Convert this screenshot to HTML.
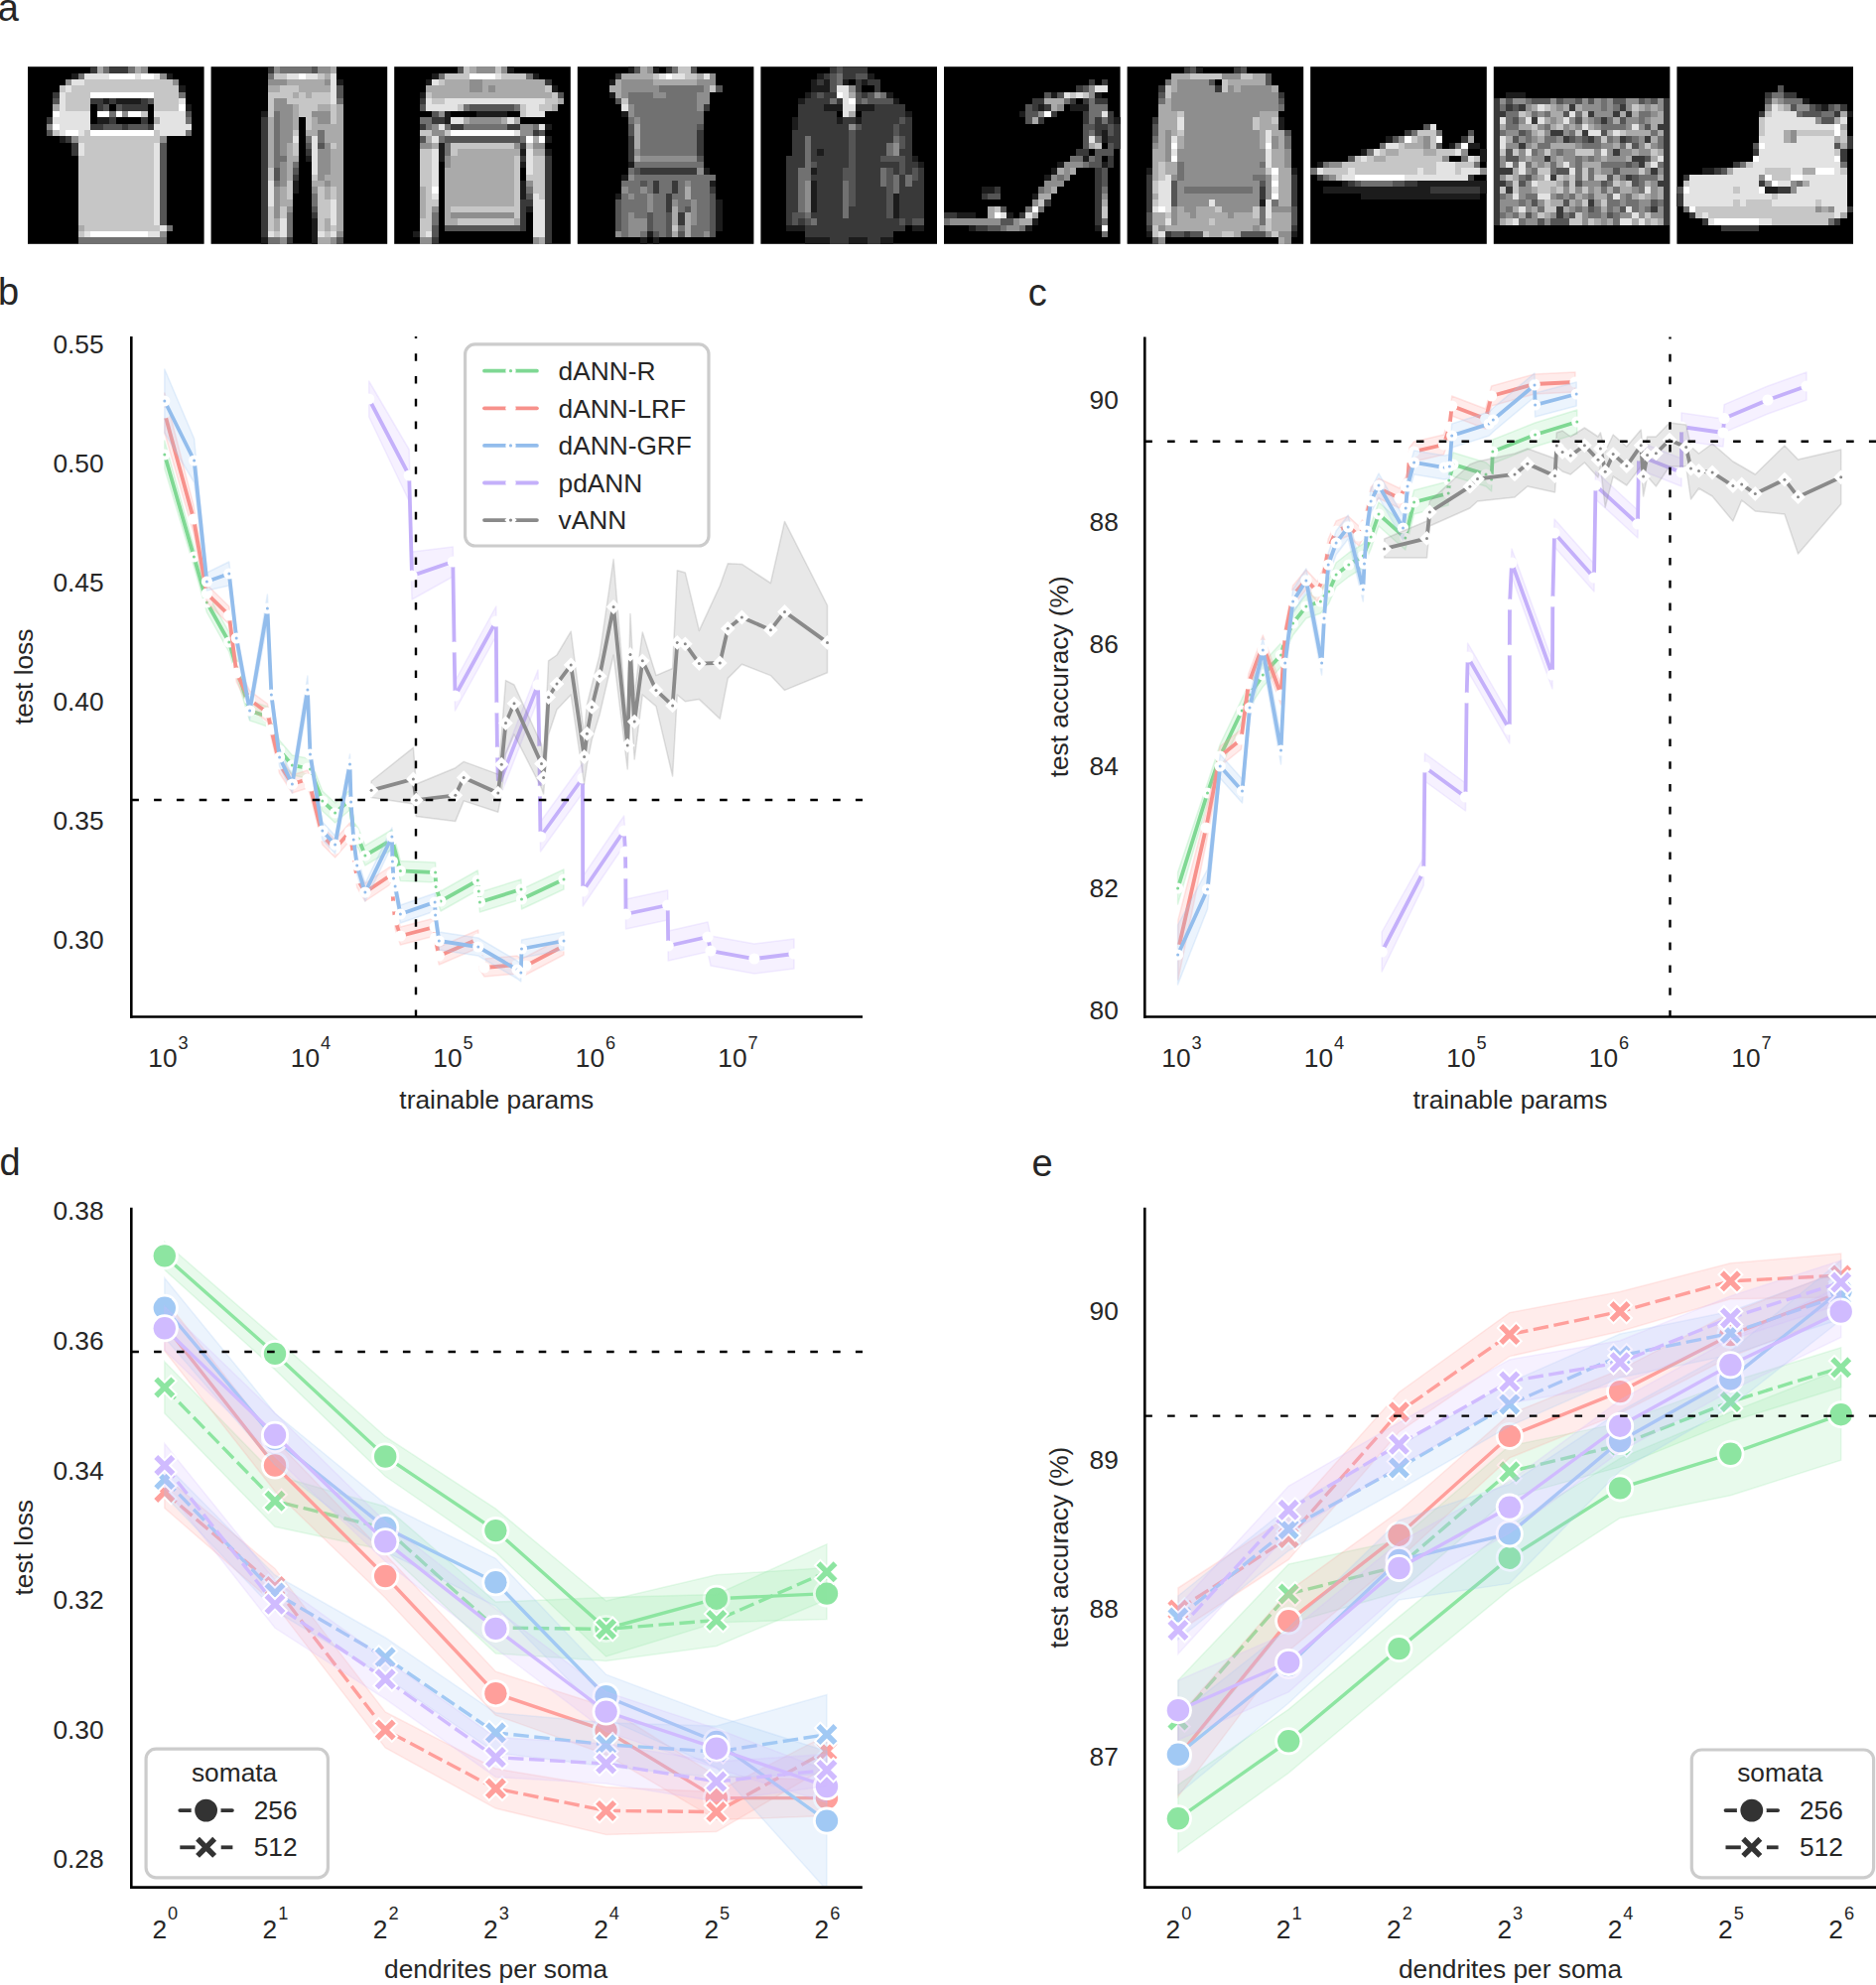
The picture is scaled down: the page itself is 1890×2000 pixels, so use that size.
<!DOCTYPE html>
<html><head><meta charset="utf-8"><style>
html,body{margin:0;padding:0;background:#fff;}
svg{display:block;font-family:"Liberation Sans", sans-serif;}
</style></head><body>
<svg width="1890" height="2000" viewBox="0 0 1890 2000">
<rect width="1890" height="2000" fill="#fff"/>
<text x="-2.3" y="20.6" font-size="38" text-anchor="start" fill="#262626" >a</text>
<text x="-2.1" y="307.2" font-size="38" text-anchor="start" fill="#262626" >b</text>
<text x="1035.8" y="307.5" font-size="38" text-anchor="start" fill="#262626" >c</text>
<text x="-0.6" y="1184.3" font-size="38" text-anchor="start" fill="#262626" >d</text>
<text x="1039.4" y="1184.6" font-size="38" text-anchor="start" fill="#262626" >e</text>
<rect x="28.00" y="67.2" width="177.6" height="178.6" fill="#000"/>
<g transform="translate(28.00,67.2) scale(6.3429,6.3786)" shape-rendering="crispEdges">
<path fill="rgb(28,28,28)" d="M7 1h1v1h-1zM22 1h1v1h-1zM24 3h1v1h-1zM12 5h1v1h-1zM14 5h4v1h-4zM25 6h1v1h-1zM11 8h2v1h-2zM5 11h1v1h-1z"/>
<path fill="rgb(57,57,57)" d="M10 0h1v1h-1zM13 0h3v1h-3zM4 4h1v1h-1zM10 5h2v1h-2zM13 5h1v1h-1zM18 5h1v1h-1zM11 6h1v1h-1zM15 6h4v1h-4zM3 8h1v1h-1zM13 8h1v1h-1zM18 8h1v1h-1zM10 9h2v1h-2zM15 9h1v1h-1zM19 9h1v1h-1zM6 11h1v1h-1zM7 12h1v1h-1zM7 13h1v1h-1z"/>
<path fill="rgb(85,85,85)" d="M4 5h1v1h-1zM19 5h1v1h-1zM12 6h1v1h-1zM14 6h1v1h-1zM25 7h1v1h-1zM12 9h3v1h-3zM16 9h3v1h-3zM3 10h1v1h-1zM21 12h1v1h-1zM21 13h1v1h-1zM21 14h1v1h-1zM21 15h1v1h-1zM21 16h1v1h-1zM21 17h1v1h-1zM21 18h1v1h-1zM21 19h1v1h-1zM21 20h1v1h-1zM21 21h1v1h-1zM21 22h1v1h-1zM21 23h1v1h-1zM21 24h1v1h-1z"/>
<path fill="rgb(113,113,113)" d="M12 0h1v1h-1zM16 0h1v1h-1zM8 1h1v1h-1zM24 4h1v1h-1zM13 7h1v1h-1zM25 8h1v1h-1zM25 10h1v1h-1zM22 25h1v1h-1zM8 27h14v1h-14z"/>
<path fill="rgb(142,142,142)" d="M18 0h1v1h-1zM21 1h1v1h-1zM6 2h1v1h-1zM23 2h1v1h-1zM15 7h1v1h-1zM3 9h1v1h-1zM7 11h1v1h-1zM21 11h1v1h-1zM21 26h1v1h-1z"/>
<path fill="rgb(170,170,170)" d="M11 0h1v1h-1zM17 0h1v1h-1zM4 6h1v1h-1zM20 8h1v1h-1zM8 25h1v1h-1z"/>
<path fill="rgb(198,198,198)" d="M9 2h14v1h-14zM5 3h1v1h-1zM7 3h17v1h-17zM6 4h4v1h-4zM20 4h4v1h-4zM6 5h4v1h-4zM20 5h4v1h-4zM6 6h4v1h-4zM20 6h4v1h-4zM18 7h1v1h-1zM4 10h1v1h-1zM9 10h1v1h-1zM20 10h1v1h-1zM8 11h13v1h-13zM9 12h11v1h-11zM9 13h11v1h-11zM8 14h12v1h-12zM8 15h12v1h-12zM8 16h12v1h-12zM8 17h12v1h-12zM8 18h12v1h-12zM8 19h12v1h-12zM8 20h12v1h-12zM8 21h12v1h-12zM8 22h12v1h-12zM8 23h12v1h-12zM8 24h12v1h-12zM9 25h12v1h-12zM8 26h1v1h-1z"/>
<path fill="rgb(227,227,227)" d="M9 1h4v1h-4zM17 1h1v1h-1zM20 1h1v1h-1zM7 2h2v1h-2zM6 3h1v1h-1zM5 4h1v1h-1zM5 5h1v1h-1zM24 5h1v1h-1zM5 6h1v1h-1zM5 7h5v1h-5zM20 7h5v1h-5zM4 8h6v1h-6zM21 8h4v1h-4zM5 9h5v1h-5zM20 9h6v1h-6zM5 10h1v1h-1zM8 10h1v1h-1zM21 10h4v1h-4zM8 12h1v1h-1zM20 12h1v1h-1zM8 13h1v1h-1zM20 13h1v1h-1zM20 14h1v1h-1zM20 15h1v1h-1zM20 16h1v1h-1zM20 17h1v1h-1zM20 18h1v1h-1zM20 19h1v1h-1zM20 20h1v1h-1zM20 21h1v1h-1zM20 22h1v1h-1zM20 23h1v1h-1zM20 24h1v1h-1zM21 25h1v1h-1zM9 26h1v1h-1zM19 26h2v1h-2z"/>
<path fill="rgb(255,255,255)" d="M13 1h4v1h-4zM18 1h2v1h-2zM10 4h10v1h-10zM24 6h1v1h-1zM4 7h1v1h-1zM11 7h2v1h-2zM14 7h1v1h-1zM16 7h2v1h-2zM4 9h1v1h-1zM6 10h2v1h-2zM10 10h10v1h-10zM10 26h9v1h-9z"/>
</g>
<rect x="212.60" y="67.2" width="177.6" height="178.6" fill="#000"/>
<g transform="translate(212.60,67.2) scale(6.3429,6.3786)" shape-rendering="crispEdges">
<path fill="rgb(28,28,28)" d="M20 2h1v1h-1zM8 7h1v1h-1zM15 14h1v1h-1zM13 18h1v1h-1zM13 19h1v1h-1zM16 24h1v1h-1zM16 25h1v1h-1zM16 26h1v1h-1zM8 27h1v1h-1zM16 27h1v1h-1z"/>
<path fill="rgb(57,57,57)" d="M9 0h1v1h-1zM8 8h1v1h-1zM8 9h1v1h-1zM8 10h1v1h-1zM8 11h1v1h-1zM8 12h1v1h-1zM8 13h1v1h-1zM15 13h1v1h-1zM8 14h1v1h-1zM8 15h1v1h-1zM8 16h1v1h-1zM8 17h1v1h-1zM13 17h1v1h-1zM8 18h1v1h-1zM8 19h1v1h-1zM8 20h1v1h-1zM8 21h1v1h-1zM8 22h1v1h-1zM8 23h1v1h-1zM16 23h1v1h-1zM8 24h1v1h-1zM8 25h1v1h-1zM8 26h1v1h-1zM12 27h1v1h-1z"/>
<path fill="rgb(85,85,85)" d="M16 0h1v1h-1zM20 3h1v1h-1zM20 4h1v1h-1zM15 12h1v1h-1zM17 12h1v1h-1zM10 16h1v1h-1zM13 16h1v1h-1zM10 17h1v1h-1zM16 22h1v1h-1zM20 27h1v1h-1z"/>
<path fill="rgb(113,113,113)" d="M11 0h5v1h-5zM9 1h1v1h-1zM20 5h1v1h-1zM10 7h1v1h-1zM10 8h1v1h-1zM10 9h1v1h-1zM10 10h1v1h-1zM17 10h1v1h-1zM10 11h1v1h-1zM15 11h1v1h-1zM17 11h1v1h-1zM10 12h1v1h-1zM10 13h1v1h-1zM10 14h2v1h-2zM10 15h1v1h-1zM13 15h1v1h-1zM10 18h1v1h-1zM16 20h1v1h-1zM16 21h1v1h-1zM12 23h1v1h-1zM12 24h1v1h-1zM12 25h1v1h-1zM12 26h1v1h-1zM9 27h2v1h-2z"/>
<path fill="rgb(142,142,142)" d="M10 0h1v1h-1zM17 0h2v1h-2zM9 2h3v1h-3zM18 2h1v1h-1zM10 5h2v1h-2zM10 6h3v1h-3zM11 7h2v1h-2zM16 7h3v1h-3zM11 8h2v1h-2zM17 8h2v1h-2zM11 9h2v1h-2zM11 10h2v1h-2zM11 11h2v1h-2zM11 12h1v1h-1zM18 12h1v1h-1zM11 13h1v1h-1zM17 13h2v1h-2zM17 14h2v1h-2zM11 15h1v1h-1zM17 15h2v1h-2zM11 16h1v1h-1zM17 16h2v1h-2zM11 17h1v1h-1zM17 17h1v1h-1zM11 18h1v1h-1zM18 18h1v1h-1zM10 19h1v1h-1zM16 19h1v1h-1zM10 20h1v1h-1zM10 21h1v1h-1zM10 22h1v1h-1zM12 22h1v1h-1zM10 23h1v1h-1zM20 26h1v1h-1zM11 27h1v1h-1zM19 27h1v1h-1z"/>
<path fill="rgb(170,170,170)" d="M19 0h1v1h-1zM18 1h1v1h-1zM12 2h6v1h-6zM9 3h2v1h-2zM14 3h5v1h-5zM13 4h1v1h-1zM15 4h1v1h-1zM13 6h1v1h-1zM17 6h2v1h-2zM20 6h1v1h-1zM13 7h1v1h-1zM20 7h1v1h-1zM9 8h1v1h-1zM13 8h1v1h-1zM16 8h1v1h-1zM20 8h1v1h-1zM9 9h1v1h-1zM13 9h1v1h-1zM16 9h5v1h-5zM9 10h1v1h-1zM15 10h2v1h-2zM18 10h3v1h-3zM9 11h1v1h-1zM18 11h3v1h-3zM9 12h1v1h-1zM12 12h1v1h-1zM20 12h1v1h-1zM9 13h1v1h-1zM12 13h1v1h-1zM19 13h2v1h-2zM9 14h1v1h-1zM12 14h2v1h-2zM19 14h2v1h-2zM9 15h1v1h-1zM12 15h1v1h-1zM19 15h2v1h-2zM12 16h1v1h-1zM19 16h2v1h-2zM12 17h1v1h-1zM18 17h3v1h-3zM16 18h2v1h-2zM19 18h2v1h-2zM11 19h1v1h-1zM18 19h1v1h-1zM20 19h1v1h-1zM11 20h1v1h-1zM18 20h1v1h-1zM20 20h1v1h-1zM11 21h2v1h-2zM20 21h1v1h-1zM20 22h1v1h-1zM20 23h1v1h-1zM10 24h1v1h-1zM18 24h1v1h-1zM20 24h1v1h-1zM10 25h1v1h-1zM18 25h1v1h-1zM20 25h1v1h-1zM17 27h2v1h-2z"/>
<path fill="rgb(198,198,198)" d="M10 1h2v1h-2zM17 1h1v1h-1zM11 3h3v1h-3zM9 4h4v1h-4zM14 4h1v1h-1zM16 4h3v1h-3zM9 5h1v1h-1zM12 5h7v1h-7zM9 6h1v1h-1zM14 6h3v1h-3zM19 6h1v1h-1zM9 7h1v1h-1zM14 7h2v1h-2zM19 7h1v1h-1zM15 8h1v1h-1zM19 8h1v1h-1zM15 9h1v1h-1zM13 10h1v1h-1zM13 12h1v1h-1zM19 12h1v1h-1zM13 13h1v1h-1zM9 16h1v1h-1zM9 17h1v1h-1zM16 17h1v1h-1zM12 18h1v1h-1zM12 19h1v1h-1zM17 19h1v1h-1zM19 19h1v1h-1zM12 20h1v1h-1zM17 20h1v1h-1zM19 20h1v1h-1zM17 21h2v1h-2zM9 22h1v1h-1zM11 22h1v1h-1zM17 22h2v1h-2zM9 23h1v1h-1zM11 23h1v1h-1zM17 23h2v1h-2zM9 24h1v1h-1zM17 24h1v1h-1zM9 25h1v1h-1zM17 25h1v1h-1zM19 25h1v1h-1zM10 26h1v1h-1zM18 26h1v1h-1z"/>
<path fill="rgb(227,227,227)" d="M12 1h2v1h-2zM15 1h2v1h-2zM19 1h1v1h-1zM19 2h1v1h-1zM19 3h1v1h-1zM19 4h1v1h-1zM19 5h1v1h-1zM13 11h1v1h-1zM16 11h1v1h-1zM16 12h1v1h-1zM16 13h1v1h-1zM16 14h1v1h-1zM16 15h1v1h-1zM16 16h1v1h-1zM9 18h1v1h-1zM9 19h1v1h-1zM9 20h1v1h-1zM9 21h1v1h-1zM19 21h1v1h-1zM19 22h1v1h-1zM19 23h1v1h-1zM11 24h1v1h-1zM19 24h1v1h-1zM11 25h1v1h-1zM9 26h1v1h-1zM11 26h1v1h-1zM17 26h1v1h-1zM19 26h1v1h-1z"/>
<path fill="rgb(255,255,255)" d="M14 1h1v1h-1z"/>
</g>
<rect x="397.20" y="67.2" width="177.6" height="178.6" fill="#000"/>
<g transform="translate(397.20,67.2) scale(6.3429,6.3786)" shape-rendering="crispEdges">
<path fill="rgb(28,28,28)" d="M18 0h1v1h-1zM6 1h1v1h-1zM22 1h1v1h-1zM5 2h1v1h-1zM25 3h1v1h-1zM4 4h1v1h-1zM8 7h1v1h-1zM13 7h5v1h-5zM8 8h1v1h-1zM24 9h1v1h-1zM24 11h1v1h-1zM7 12h1v1h-1zM7 13h1v1h-1zM20 13h1v1h-1zM24 13h1v1h-1zM7 14h1v1h-1zM20 15h1v1h-1zM20 18h1v1h-1zM20 19h1v1h-1zM20 20h1v1h-1zM21 22h1v1h-1zM3 26h1v1h-1z"/>
<path fill="rgb(57,57,57)" d="M24 2h1v1h-1zM4 5h1v1h-1zM6 8h2v1h-2zM4 9h1v1h-1zM9 9h2v1h-2zM18 9h2v1h-2zM22 10h1v1h-1zM20 12h1v1h-1zM20 14h1v1h-1zM24 14h1v1h-1zM24 15h1v1h-1zM24 16h1v1h-1zM24 17h1v1h-1zM24 18h1v1h-1zM24 19h1v1h-1zM24 20h1v1h-1zM20 21h2v1h-2zM24 21h1v1h-1zM20 22h1v1h-1zM24 22h1v1h-1zM20 23h1v1h-1zM24 23h1v1h-1zM20 24h1v1h-1zM24 24h1v1h-1zM20 25h1v1h-1zM24 25h1v1h-1zM24 26h1v1h-1zM6 27h1v1h-1zM24 27h1v1h-1z"/>
<path fill="rgb(85,85,85)" d="M10 0h1v1h-1zM26 4h1v1h-1zM4 6h1v1h-1zM12 6h7v1h-7zM6 7h1v1h-1zM23 10h1v1h-1zM4 11h1v1h-1zM8 11h12v1h-12zM21 20h1v1h-1zM6 25h1v1h-1zM8 25h12v1h-12zM6 26h1v1h-1z"/>
<path fill="rgb(113,113,113)" d="M7 1h1v1h-1zM21 1h1v1h-1zM11 6h1v1h-1zM19 6h1v1h-1zM4 8h2v1h-2zM5 9h1v1h-1zM8 9h1v1h-1zM11 9h7v1h-7zM22 9h1v1h-1zM7 11h1v1h-1zM20 11h1v1h-1zM8 12h1v1h-1zM8 13h1v1h-1zM21 19h1v1h-1zM6 23h1v1h-1zM6 24h1v1h-1z"/>
<path fill="rgb(142,142,142)" d="M13 0h3v1h-3zM17 0h1v1h-1zM12 2h2v1h-2zM12 3h2v1h-2zM15 3h1v1h-1zM7 7h1v1h-1zM12 8h5v1h-5zM6 9h1v1h-1zM20 9h2v1h-2zM6 10h2v1h-2zM20 10h2v1h-2zM4 12h2v1h-2zM19 12h1v1h-1zM22 12h2v1h-2zM8 14h1v1h-1zM8 15h1v1h-1zM21 18h1v1h-1zM6 22h1v1h-1zM9 23h10v1h-10zM4 27h2v1h-2zM22 27h1v1h-1z"/>
<path fill="rgb(170,170,170)" d="M12 0h1v1h-1zM8 2h4v1h-4zM14 2h10v1h-10zM5 3h7v1h-7zM14 3h1v1h-1zM16 3h8v1h-8zM6 4h19v1h-19zM26 5h1v1h-1zM25 6h1v1h-1zM11 8h1v1h-1zM17 8h1v1h-1zM19 8h1v1h-1zM5 11h1v1h-1zM22 11h1v1h-1zM6 12h1v1h-1zM10 13h10v1h-10zM22 13h2v1h-2zM9 14h10v1h-10zM9 15h10v1h-10zM8 16h11v1h-11zM8 17h11v1h-11zM8 18h11v1h-11zM4 19h1v1h-1zM8 19h11v1h-11zM4 20h1v1h-1zM8 20h11v1h-11zM4 21h1v1h-1zM8 21h11v1h-11zM4 22h1v1h-1zM8 22h1v1h-1zM4 23h1v1h-1zM8 23h1v1h-1zM8 24h2v1h-2zM19 24h1v1h-1zM23 27h1v1h-1z"/>
<path fill="rgb(198,198,198)" d="M11 0h1v1h-1zM16 0h1v1h-1zM8 1h4v1h-4zM17 1h4v1h-4zM7 2h1v1h-1zM24 3h1v1h-1zM5 4h1v1h-1zM25 4h1v1h-1zM6 5h2v1h-2zM24 5h2v1h-2zM10 6h1v1h-1zM20 6h1v1h-1zM23 6h2v1h-2zM20 7h1v1h-1zM4 10h2v1h-2zM8 10h1v1h-1zM9 12h10v1h-10zM21 12h1v1h-1zM4 13h2v1h-2zM9 13h1v1h-1zM4 14h2v1h-2zM19 14h1v1h-1zM22 14h2v1h-2zM4 15h2v1h-2zM19 15h1v1h-1zM22 15h2v1h-2zM4 16h2v1h-2zM19 16h1v1h-1zM22 16h2v1h-2zM4 17h2v1h-2zM19 17h1v1h-1zM21 17h3v1h-3zM4 18h2v1h-2zM19 18h1v1h-1zM22 18h2v1h-2zM5 19h1v1h-1zM19 19h1v1h-1zM22 19h2v1h-2zM5 20h1v1h-1zM19 20h1v1h-1zM23 20h1v1h-1zM5 21h2v1h-2zM19 21h1v1h-1zM5 22h1v1h-1zM9 22h11v1h-11zM5 23h1v1h-1zM19 23h1v1h-1zM4 24h2v1h-2zM10 24h9v1h-9zM4 25h2v1h-2zM4 26h1v1h-1z"/>
<path fill="rgb(227,227,227)" d="M16 1h1v1h-1zM6 2h1v1h-1zM5 5h1v1h-1zM8 5h16v1h-16zM5 6h5v1h-5zM21 6h2v1h-2zM21 7h3v1h-3zM9 8h2v1h-2zM18 8h1v1h-1zM7 9h1v1h-1zM23 9h1v1h-1zM19 10h1v1h-1zM6 11h1v1h-1zM6 13h1v1h-1zM21 13h1v1h-1zM6 14h1v1h-1zM21 14h1v1h-1zM6 15h1v1h-1zM21 15h1v1h-1zM6 16h1v1h-1zM21 16h1v1h-1zM6 17h1v1h-1zM6 18h1v1h-1zM6 20h1v1h-1zM22 20h1v1h-1zM22 21h2v1h-2zM22 22h2v1h-2zM22 23h2v1h-2zM22 24h2v1h-2zM22 25h2v1h-2zM5 26h1v1h-1zM22 26h2v1h-2z"/>
<path fill="rgb(255,255,255)" d="M12 1h4v1h-4zM9 10h10v1h-10zM21 11h1v1h-1zM23 11h1v1h-1zM6 19h1v1h-1z"/>
</g>
<rect x="581.80" y="67.2" width="177.6" height="178.6" fill="#000"/>
<g transform="translate(581.80,67.2) scale(6.3429,6.3786)" shape-rendering="crispEdges">
<path fill="rgb(28,28,28)" d="M8 0h1v1h-1zM12 0h1v1h-1zM5 2h1v1h-1zM5 4h1v1h-1zM7 7h1v1h-1zM8 15h1v1h-1zM20 16h1v1h-1zM7 17h1v1h-1zM21 18h1v1h-1zM6 20h1v1h-1zM22 21h1v1h-1zM22 22h1v1h-1zM22 23h1v1h-1zM22 24h1v1h-1zM22 25h1v1h-1zM11 26h1v1h-1zM10 27h1v1h-1zM12 27h1v1h-1z"/>
<path fill="rgb(57,57,57)" d="M14 0h1v1h-1zM6 1h1v1h-1zM20 6h1v1h-1zM19 10h1v1h-1zM8 11h1v1h-1zM19 11h1v1h-1zM8 12h1v1h-1zM19 12h1v1h-1zM8 13h1v1h-1zM19 13h1v1h-1zM8 14h1v1h-1zM10 16h9v1h-9zM12 18h1v1h-1zM15 18h1v1h-1zM12 19h1v1h-1zM15 19h1v1h-1zM21 19h1v1h-1zM14 20h1v1h-1zM14 21h1v1h-1zM14 22h1v1h-1zM16 23h1v1h-1zM16 24h1v1h-1z"/>
<path fill="rgb(85,85,85)" d="M9 0h1v1h-1zM18 0h1v1h-1zM22 3h1v1h-1zM6 5h1v1h-1zM8 9h1v1h-1zM19 9h1v1h-1zM8 10h1v1h-1zM19 14h1v1h-1zM9 16h1v1h-1zM10 18h1v1h-1zM21 20h1v1h-1zM6 21h1v1h-1zM21 21h1v1h-1zM6 22h1v1h-1zM17 22h1v1h-1zM21 22h1v1h-1zM6 23h1v1h-1zM11 23h1v1h-1zM14 23h1v1h-1zM21 23h1v1h-1zM6 24h1v1h-1zM11 24h1v1h-1zM14 24h1v1h-1zM21 24h1v1h-1zM6 25h1v1h-1zM11 25h1v1h-1zM14 25h1v1h-1zM21 25h1v1h-1zM12 26h1v1h-1zM14 26h1v1h-1zM16 26h1v1h-1zM21 26h1v1h-1z"/>
<path fill="rgb(113,113,113)" d="M15 0h1v1h-1zM13 3h7v1h-7zM8 4h4v1h-4zM14 4h5v1h-5zM8 5h11v1h-11zM9 6h10v1h-10zM9 7h11v1h-11zM8 8h1v1h-1zM10 8h10v1h-10zM10 9h9v1h-9zM10 10h9v1h-9zM10 11h9v1h-9zM10 12h9v1h-9zM10 13h9v1h-9zM9 15h11v1h-11zM8 16h1v1h-1zM9 17h13v1h-13zM7 18h3v1h-3zM11 18h1v1h-1zM13 18h2v1h-2zM16 18h1v1h-1zM18 18h3v1h-3zM8 19h2v1h-2zM11 19h1v1h-1zM13 19h2v1h-2zM16 19h1v1h-1zM18 19h3v1h-3zM7 20h1v1h-1zM9 20h2v1h-2zM12 20h2v1h-2zM15 20h2v1h-2zM18 20h3v1h-3zM7 21h4v1h-4zM12 21h2v1h-2zM16 21h2v1h-2zM19 21h2v1h-2zM7 22h4v1h-4zM12 22h2v1h-2zM16 22h1v1h-1zM19 22h2v1h-2zM7 23h1v1h-1zM9 23h2v1h-2zM12 23h2v1h-2zM19 23h2v1h-2zM7 24h1v1h-1zM12 24h2v1h-2zM19 24h2v1h-2zM7 25h1v1h-1zM12 25h2v1h-2zM16 25h1v1h-1zM18 25h3v1h-3zM7 26h1v1h-1zM10 26h1v1h-1zM13 26h1v1h-1zM18 26h2v1h-2z"/>
<path fill="rgb(142,142,142)" d="M11 0h1v1h-1zM21 1h1v1h-1zM7 2h5v1h-5zM19 2h3v1h-3zM7 3h6v1h-6zM20 3h1v1h-1zM7 4h1v1h-1zM12 4h2v1h-2zM19 4h2v1h-2zM19 5h2v1h-2zM8 6h1v1h-1zM19 6h1v1h-1zM8 7h1v1h-1zM9 8h1v1h-1zM9 13h1v1h-1zM10 14h9v1h-9zM19 16h1v1h-1zM8 17h1v1h-1zM17 18h1v1h-1zM7 19h1v1h-1zM10 19h1v1h-1zM8 20h1v1h-1zM11 20h1v1h-1zM11 21h1v1h-1zM15 21h1v1h-1zM18 21h1v1h-1zM11 22h1v1h-1zM18 22h1v1h-1zM8 23h1v1h-1zM18 23h1v1h-1zM8 24h3v1h-3zM18 24h1v1h-1zM8 25h3v1h-3zM6 26h1v1h-1zM8 26h2v1h-2zM20 26h1v1h-1z"/>
<path fill="rgb(170,170,170)" d="M10 0h1v1h-1zM7 1h5v1h-5zM19 1h1v1h-1zM6 2h1v1h-1zM12 2h7v1h-7zM5 3h2v1h-2zM6 4h1v1h-1zM9 9h1v1h-1zM9 10h1v1h-1zM9 11h1v1h-1zM9 12h1v1h-1zM9 14h1v1h-1zM17 19h1v1h-1zM17 20h1v1h-1zM15 22h1v1h-1zM15 23h1v1h-1zM17 23h1v1h-1zM15 24h1v1h-1zM17 24h1v1h-1zM17 25h1v1h-1zM15 26h1v1h-1zM17 26h1v1h-1z"/>
<path fill="rgb(198,198,198)" d="M16 0h2v1h-2zM12 1h1v1h-1zM17 1h2v1h-2zM21 3h1v1h-1zM7 5h1v1h-1zM15 25h1v1h-1z"/>
<path fill="rgb(227,227,227)" d="M13 1h1v1h-1zM15 1h2v1h-2zM20 1h1v1h-1zM7 6h1v1h-1z"/>
<path fill="rgb(255,255,255)" d="M14 1h1v1h-1z"/>
</g>
<rect x="766.40" y="67.2" width="177.6" height="178.6" fill="#000"/>
<g transform="translate(766.40,67.2) scale(6.3429,6.3786)" shape-rendering="crispEdges">
<path fill="rgb(28,28,28)" d="M9 1h1v1h-1zM17 1h1v1h-1zM8 2h1v1h-1zM10 2h1v1h-1zM13 2h1v1h-1zM16 2h1v1h-1zM8 3h3v1h-3zM7 4h1v1h-1zM20 4h1v1h-1zM6 5h1v1h-1zM21 5h1v1h-1zM10 6h3v1h-3zM15 6h3v1h-3zM23 7h1v1h-1zM5 8h1v1h-1zM12 8h1v1h-1zM15 8h1v1h-1zM5 9h1v1h-1zM9 13h1v1h-1zM24 14h1v1h-1zM25 15h1v1h-1zM8 16h1v1h-1zM8 18h1v1h-1zM8 19h1v1h-1zM8 20h1v1h-1zM21 20h1v1h-1zM8 21h1v1h-1zM21 21h1v1h-1zM8 22h1v1h-1zM21 22h1v1h-1zM21 23h1v1h-1zM4 25h3v1h-3zM24 25h2v1h-2zM7 27h4v1h-4zM14 27h3v1h-3zM19 27h2v1h-2z"/>
<path fill="rgb(57,57,57)" d="M11 0h1v1h-1zM13 0h4v1h-4zM10 1h1v1h-1zM13 1h2v1h-2zM9 2h1v1h-1zM15 2h1v1h-1zM17 2h2v1h-2zM15 3h1v1h-1zM18 3h1v1h-1zM8 4h1v1h-1zM10 4h2v1h-2zM16 4h1v1h-1zM7 5h4v1h-4zM12 5h1v1h-1zM6 6h4v1h-4zM18 6h5v1h-5zM6 7h6v1h-6zM16 7h7v1h-7zM6 8h6v1h-6zM13 8h2v1h-2zM16 8h6v1h-6zM23 8h1v1h-1zM6 9h8v1h-8zM16 9h5v1h-5zM22 9h2v1h-2zM5 10h9v1h-9zM15 10h6v1h-6zM22 10h2v1h-2zM5 11h2v1h-2zM8 11h6v1h-6zM15 11h6v1h-6zM23 11h1v1h-1zM5 12h2v1h-2zM8 12h6v1h-6zM15 12h5v1h-5zM23 12h1v1h-1zM5 13h2v1h-2zM8 13h1v1h-1zM10 13h4v1h-4zM15 13h5v1h-5zM22 13h2v1h-2zM4 14h3v1h-3zM8 14h6v1h-6zM15 14h4v1h-4zM23 14h1v1h-1zM4 15h3v1h-3zM9 15h5v1h-5zM15 15h7v1h-7zM23 15h2v1h-2zM4 16h2v1h-2zM9 16h4v1h-4zM15 16h4v1h-4zM21 16h1v1h-1zM23 16h1v1h-1zM25 16h1v1h-1zM4 17h2v1h-2zM8 17h5v1h-5zM15 17h4v1h-4zM22 17h1v1h-1zM25 17h1v1h-1zM4 18h2v1h-2zM9 18h4v1h-4zM15 18h4v1h-4zM22 18h1v1h-1zM24 18h2v1h-2zM4 19h2v1h-2zM9 19h4v1h-4zM15 19h5v1h-5zM22 19h4v1h-4zM4 20h2v1h-2zM9 20h4v1h-4zM15 20h5v1h-5zM22 20h4v1h-4zM4 21h2v1h-2zM9 21h4v1h-4zM15 21h5v1h-5zM22 21h4v1h-4zM4 22h2v1h-2zM9 22h4v1h-4zM14 22h6v1h-6zM22 22h4v1h-4zM4 23h1v1h-1zM8 23h5v1h-5zM14 23h6v1h-6zM22 23h4v1h-4zM4 24h1v1h-1zM6 24h1v1h-1zM9 24h13v1h-13zM23 24h1v1h-1zM7 25h16v1h-16zM7 26h14v1h-14zM11 27h3v1h-3zM17 27h2v1h-2z"/>
<path fill="rgb(85,85,85)" d="M12 0h1v1h-1zM11 1h1v1h-1zM15 1h2v1h-2zM11 2h1v1h-1zM11 3h1v1h-1zM9 4h1v1h-1zM15 4h1v1h-1zM17 4h1v1h-1zM15 5h1v1h-1zM17 5h4v1h-4zM22 8h1v1h-1zM15 9h1v1h-1zM21 9h1v1h-1zM14 10h1v1h-1zM21 10h1v1h-1zM14 11h1v1h-1zM22 11h1v1h-1zM14 12h1v1h-1zM22 12h1v1h-1zM14 13h1v1h-1zM14 14h1v1h-1zM19 14h4v1h-4zM8 15h1v1h-1zM14 15h1v1h-1zM22 15h1v1h-1zM13 16h2v1h-2zM20 16h1v1h-1zM22 16h1v1h-1zM24 16h1v1h-1zM13 17h2v1h-2zM20 17h1v1h-1zM24 17h1v1h-1zM14 18h1v1h-1zM20 18h1v1h-1zM14 19h1v1h-1zM20 19h1v1h-1zM14 20h1v1h-1zM20 20h1v1h-1zM14 21h1v1h-1zM20 21h1v1h-1zM20 22h1v1h-1zM5 23h2v1h-2zM20 23h1v1h-1zM5 24h1v1h-1zM7 24h1v1h-1zM22 24h1v1h-1zM24 24h2v1h-2z"/>
<path fill="rgb(113,113,113)" d="M12 1h1v1h-1zM12 2h1v1h-1zM19 4h1v1h-1zM11 5h1v1h-1zM16 5h1v1h-1zM7 11h1v1h-1zM21 11h1v1h-1zM7 12h1v1h-1zM20 12h1v1h-1zM7 13h1v1h-1zM20 13h1v1h-1zM7 14h1v1h-1zM7 15h1v1h-1zM6 16h2v1h-2zM19 16h1v1h-1zM6 17h2v1h-2zM19 17h1v1h-1zM21 17h1v1h-1zM23 17h1v1h-1zM6 18h1v1h-1zM13 18h1v1h-1zM19 18h1v1h-1zM21 18h1v1h-1zM23 18h1v1h-1zM6 19h1v1h-1zM13 19h1v1h-1zM21 19h1v1h-1zM6 20h1v1h-1zM13 20h1v1h-1zM6 21h1v1h-1zM13 21h1v1h-1zM6 22h1v1h-1zM13 22h1v1h-1zM7 23h1v1h-1zM13 23h1v1h-1zM8 24h1v1h-1z"/>
<path fill="rgb(142,142,142)" d="M14 3h1v1h-1zM18 4h1v1h-1zM14 9h1v1h-1zM21 12h1v1h-1zM21 13h1v1h-1zM7 18h1v1h-1zM7 19h1v1h-1zM7 20h1v1h-1zM7 21h1v1h-1zM7 22h1v1h-1z"/>
<path fill="rgb(170,170,170)" d="M14 4h1v1h-1zM14 7h1v1h-1z"/>
<path fill="rgb(227,227,227)" d="M12 3h2v1h-2zM13 4h1v1h-1zM13 5h1v1h-1zM13 6h2v1h-2zM13 7h1v1h-1z"/>
<path fill="rgb(255,255,255)" d="M12 4h1v1h-1zM14 5h1v1h-1z"/>
</g>
<rect x="951.00" y="67.2" width="177.6" height="178.6" fill="#000"/>
<g transform="translate(951.00,67.2) scale(6.3429,6.3786)" shape-rendering="crispEdges">
<path fill="rgb(28,28,28)" d="M17 4h1v1h-1zM24 4h1v1h-1zM15 6h1v1h-1zM20 6h3v1h-3zM12 7h1v1h-1zM27 8h1v1h-1zM25 10h1v1h-1zM25 11h1v1h-1zM22 14h1v1h-1zM18 15h1v1h-1zM25 15h1v1h-1zM17 16h1v1h-1zM16 17h1v1h-1zM6 19h2v1h-2zM14 20h1v1h-1zM2 23h3v1h-3zM10 23h1v1h-1zM14 24h1v1h-1zM4 25h1v1h-1zM13 25h1v1h-1zM24 25h1v1h-1z"/>
<path fill="rgb(57,57,57)" d="M23 2h1v1h-1zM25 2h1v1h-1zM21 3h1v1h-1zM14 5h2v1h-2zM20 5h1v1h-1zM22 5h1v1h-1zM24 5h2v1h-2zM14 6h1v1h-1zM16 6h1v1h-1zM17 7h1v1h-1zM22 7h1v1h-1zM26 7h1v1h-1zM15 8h1v1h-1zM22 8h1v1h-1zM24 8h1v1h-1zM26 8h1v1h-1zM24 9h2v1h-2zM27 9h1v1h-1zM24 10h1v1h-1zM27 10h1v1h-1zM26 11h2v1h-2zM27 12h1v1h-1zM21 13h2v1h-2zM26 14h1v1h-1zM26 15h1v1h-1zM24 16h1v1h-1zM24 17h1v1h-1zM24 18h1v1h-1zM8 19h1v1h-1zM24 19h1v1h-1zM6 20h1v1h-1zM24 20h1v1h-1zM16 21h1v1h-1zM24 21h1v1h-1zM24 22h1v1h-1zM0 23h2v1h-2zM12 23h1v1h-1zM24 23h1v1h-1zM24 24h1v1h-1zM5 25h2v1h-2z"/>
<path fill="rgb(85,85,85)" d="M22 3h1v1h-1zM16 4h1v1h-1zM18 4h1v1h-1zM13 6h1v1h-1zM13 7h2v1h-2zM13 8h1v1h-1zM22 9h2v1h-2zM26 9h1v1h-1zM22 10h1v1h-1zM26 10h1v1h-1zM22 11h1v1h-1zM22 12h1v1h-1zM26 12h1v1h-1zM24 13h3v1h-3zM24 14h1v1h-1zM23 15h2v1h-2zM25 16h1v1h-1zM25 17h1v1h-1zM25 18h1v1h-1zM7 20h2v1h-2zM9 22h1v1h-1zM9 24h2v1h-2zM7 25h2v1h-2z"/>
<path fill="rgb(113,113,113)" d="M19 5h1v1h-1zM23 5h1v1h-1zM23 6h3v1h-3zM23 7h2v1h-2zM23 8h1v1h-1zM25 8h1v1h-1zM23 10h1v1h-1zM24 11h1v1h-1zM20 14h2v1h-2zM23 14h1v1h-1zM22 15h1v1h-1zM18 17h1v1h-1zM15 19h1v1h-1zM25 19h1v1h-1zM13 22h1v1h-1zM15 22h1v1h-1zM0 24h1v1h-1zM25 24h1v1h-1zM9 25h1v1h-1zM12 25h1v1h-1zM25 26h1v1h-1z"/>
<path fill="rgb(142,142,142)" d="M23 3h1v1h-1zM23 4h1v1h-1zM18 6h1v1h-1zM15 7h1v1h-1zM19 15h3v1h-3zM19 16h1v1h-1zM17 17h1v1h-1zM19 17h1v1h-1zM16 18h3v1h-3zM16 19h1v1h-1zM25 20h1v1h-1zM14 21h1v1h-1zM1 24h8v1h-8zM11 24h1v1h-1zM10 25h2v1h-2z"/>
<path fill="rgb(170,170,170)" d="M16 5h3v1h-3zM17 6h1v1h-1zM14 8h1v1h-1zM23 12h1v1h-1zM18 16h1v1h-1zM20 16h1v1h-1zM17 19h1v1h-1zM15 20h2v1h-2zM25 21h1v1h-1zM7 22h1v1h-1zM7 23h1v1h-1zM14 23h1v1h-1zM12 24h2v1h-2z"/>
<path fill="rgb(198,198,198)" d="M20 4h1v1h-1zM22 4h1v1h-1zM24 12h1v1h-1zM15 21h1v1h-1zM8 22h1v1h-1zM25 22h1v1h-1zM25 23h1v1h-1z"/>
<path fill="rgb(227,227,227)" d="M24 3h2v1h-2zM19 4h1v1h-1zM21 4h1v1h-1zM25 7h1v1h-1zM23 11h1v1h-1zM9 23h1v1h-1zM13 23h1v1h-1z"/>
<path fill="rgb(255,255,255)" d="M16 7h1v1h-1zM14 22h1v1h-1zM8 23h1v1h-1zM25 25h1v1h-1z"/>
</g>
<rect x="1135.60" y="67.2" width="177.6" height="178.6" fill="#000"/>
<g transform="translate(1135.60,67.2) scale(6.3429,6.3786)" shape-rendering="crispEdges">
<path fill="rgb(28,28,28)" d="M11 0h1v1h-1zM24 8h1v1h-1zM24 9h1v1h-1zM3 16h1v1h-1zM26 16h1v1h-1zM21 21h1v1h-1zM3 26h1v1h-1zM26 26h1v1h-1z"/>
<path fill="rgb(57,57,57)" d="M9 0h1v1h-1zM17 0h1v1h-1zM5 3h1v1h-1zM14 3h1v1h-1zM24 4h1v1h-1zM4 8h1v1h-1zM3 17h1v1h-1zM26 17h1v1h-1zM3 18h1v1h-1zM26 18h1v1h-1zM3 19h1v1h-1zM21 19h1v1h-1zM26 19h1v1h-1zM3 20h1v1h-1zM21 20h1v1h-1zM26 20h1v1h-1zM3 21h1v1h-1zM26 21h1v1h-1zM3 22h1v1h-1zM3 25h1v1h-1zM26 25h1v1h-1zM6 26h1v1h-1zM9 26h1v1h-1z"/>
<path fill="rgb(85,85,85)" d="M10 0h1v1h-1zM18 0h1v1h-1zM22 1h1v1h-1zM13 2h1v1h-1zM22 2h1v1h-1zM5 4h1v1h-1zM24 5h1v1h-1zM4 9h1v1h-1zM4 10h1v1h-1zM25 10h1v1h-1zM7 18h1v1h-1zM21 18h1v1h-1zM7 19h1v1h-1zM7 20h1v1h-1zM7 21h1v1h-1zM26 22h1v1h-1zM3 23h1v1h-1zM26 23h1v1h-1zM3 24h1v1h-1zM26 24h1v1h-1zM7 26h2v1h-2zM10 26h2v1h-2zM18 26h4v1h-4zM4 27h1v1h-1z"/>
<path fill="rgb(113,113,113)" d="M6 2h1v1h-1zM5 5h1v1h-1zM24 6h1v1h-1zM4 11h1v1h-1zM25 11h1v1h-1zM25 12h1v1h-1zM8 15h1v1h-1zM21 15h1v1h-1zM8 16h1v1h-1zM8 17h1v1h-1zM20 17h2v1h-2zM9 19h11v1h-11zM23 21h1v1h-1zM21 22h1v1h-1zM21 23h1v1h-1zM21 24h1v1h-1z"/>
<path fill="rgb(142,142,142)" d="M15 1h3v1h-3zM8 2h5v1h-5zM8 3h6v1h-6zM16 3h1v1h-1zM18 3h5v1h-5zM7 4h17v1h-17zM7 5h17v1h-17zM7 6h17v1h-17zM9 7h12v1h-12zM9 8h11v1h-11zM9 9h11v1h-11zM6 10h1v1h-1zM9 10h12v1h-12zM6 11h1v1h-1zM9 11h12v1h-12zM23 11h1v1h-1zM4 12h1v1h-1zM6 12h1v1h-1zM9 12h12v1h-12zM23 12h1v1h-1zM6 13h1v1h-1zM8 13h14v1h-14zM25 13h1v1h-1zM6 14h1v1h-1zM8 14h14v1h-14zM25 14h1v1h-1zM9 15h12v1h-12zM25 15h1v1h-1zM9 16h13v1h-13zM7 17h1v1h-1zM9 17h11v1h-11zM22 17h1v1h-1zM8 18h13v1h-13zM22 18h1v1h-1zM8 19h1v1h-1zM20 19h1v1h-1zM22 19h1v1h-1zM8 20h13v1h-13zM22 20h1v1h-1zM8 21h5v1h-5zM14 21h7v1h-7zM7 22h1v1h-1zM9 22h2v1h-2zM15 22h5v1h-5zM23 22h3v1h-3zM7 23h1v1h-1zM10 23h1v1h-1zM16 23h1v1h-1zM7 24h1v1h-1zM5 25h1v1h-1zM20 25h1v1h-1zM22 26h1v1h-1zM24 26h2v1h-2zM5 27h1v1h-1zM25 27h1v1h-1z"/>
<path fill="rgb(170,170,170)" d="M7 1h3v1h-3zM20 1h2v1h-2zM7 2h1v1h-1zM16 2h6v1h-6zM7 3h1v1h-1zM17 3h1v1h-1zM23 3h1v1h-1zM6 5h1v1h-1zM5 6h2v1h-2zM5 7h3v1h-3zM21 7h3v1h-3zM5 8h3v1h-3zM21 8h2v1h-2zM5 9h3v1h-3zM21 9h3v1h-3zM5 10h1v1h-1zM7 10h1v1h-1zM21 10h1v1h-1zM23 10h2v1h-2zM5 11h1v1h-1zM8 11h1v1h-1zM21 11h1v1h-1zM24 11h1v1h-1zM5 12h1v1h-1zM8 12h1v1h-1zM21 12h1v1h-1zM24 12h1v1h-1zM4 13h2v1h-2zM23 13h2v1h-2zM4 14h2v1h-2zM23 14h2v1h-2zM4 15h1v1h-1zM6 15h2v1h-2zM23 15h2v1h-2zM4 16h1v1h-1zM6 16h2v1h-2zM24 16h2v1h-2zM4 17h1v1h-1zM24 17h2v1h-2zM24 18h2v1h-2zM24 19h2v1h-2zM4 20h1v1h-1zM24 20h2v1h-2zM24 21h2v1h-2zM8 22h1v1h-1zM11 22h3v1h-3zM4 23h2v1h-2zM8 23h2v1h-2zM11 23h5v1h-5zM17 23h3v1h-3zM23 23h3v1h-3zM4 24h2v1h-2zM8 24h5v1h-5zM14 24h7v1h-7zM23 24h3v1h-3zM6 25h14v1h-14zM21 25h1v1h-1zM23 25h3v1h-3zM13 26h2v1h-2zM17 26h1v1h-1zM24 27h1v1h-1z"/>
<path fill="rgb(198,198,198)" d="M10 1h5v1h-5zM18 1h2v1h-2zM15 2h1v1h-1zM6 3h1v1h-1zM15 3h1v1h-1zM6 4h1v1h-1zM8 7h1v1h-1zM20 8h1v1h-1zM23 8h1v1h-1zM20 9h1v1h-1zM8 10h1v1h-1zM5 15h1v1h-1zM5 16h1v1h-1zM22 16h1v1h-1zM5 17h1v1h-1zM4 18h1v1h-1zM4 19h1v1h-1zM4 21h1v1h-1zM14 22h1v1h-1zM20 22h1v1h-1zM6 23h1v1h-1zM20 23h1v1h-1zM13 24h1v1h-1zM22 24h1v1h-1zM4 25h1v1h-1zM22 25h1v1h-1zM4 26h1v1h-1zM12 26h1v1h-1zM15 26h2v1h-2zM23 26h1v1h-1z"/>
<path fill="rgb(227,227,227)" d="M8 8h1v1h-1zM8 9h1v1h-1zM22 10h1v1h-1zM7 11h1v1h-1zM22 11h1v1h-1zM7 13h1v1h-1zM22 13h1v1h-1zM22 14h1v1h-1zM22 15h1v1h-1zM6 17h1v1h-1zM23 17h1v1h-1zM5 18h2v1h-2zM5 19h2v1h-2zM23 19h1v1h-1zM5 20h2v1h-2zM5 21h2v1h-2zM13 21h1v1h-1zM22 21h1v1h-1zM4 22h1v1h-1zM6 22h1v1h-1zM22 22h1v1h-1zM22 23h1v1h-1zM6 24h1v1h-1zM5 26h1v1h-1z"/>
<path fill="rgb(255,255,255)" d="M7 12h1v1h-1zM22 12h1v1h-1zM7 14h1v1h-1zM23 16h1v1h-1zM23 18h1v1h-1zM23 20h1v1h-1zM5 22h1v1h-1z"/>
</g>
<rect x="1320.20" y="67.2" width="177.6" height="178.6" fill="#000"/>
<g transform="translate(1320.20,67.2) scale(6.3429,6.3786)" shape-rendering="crispEdges">
<path fill="rgb(28,28,28)" d="M12 11h1v1h-1zM22 12h1v1h-1zM25 12h2v1h-2zM8 13h1v1h-1zM27 13h1v1h-1zM27 14h1v1h-1zM1 15h1v1h-1zM5 18h1v1h-1zM17 18h11v1h-11zM2 19h17v1h-17zM27 19h1v1h-1zM8 20h19v1h-19z"/>
<path fill="rgb(57,57,57)" d="M15 10h1v1h-1zM24 11h1v1h-1zM1 17h1v1h-1zM25 17h1v1h-1zM6 18h1v1h-1zM15 18h2v1h-2zM19 19h8v1h-8z"/>
<path fill="rgb(85,85,85)" d="M18 9h1v1h-1zM25 10h1v1h-1zM13 11h1v1h-1zM20 12h1v1h-1zM6 14h1v1h-1zM7 18h1v1h-1zM13 18h2v1h-2z"/>
<path fill="rgb(113,113,113)" d="M16 10h1v1h-1zM20 10h1v1h-1zM11 12h1v1h-1zM23 12h1v1h-1zM9 13h1v1h-1zM24 14h1v1h-1zM2 15h1v1h-1zM26 15h1v1h-1zM0 16h1v1h-1zM2 17h1v1h-1zM8 18h5v1h-5z"/>
<path fill="rgb(142,142,142)" d="M14 11h1v1h-1zM18 11h1v1h-1zM18 12h1v1h-1zM24 13h1v1h-1zM21 14h1v1h-1zM3 15h2v1h-2zM27 16h1v1h-1zM3 17h1v1h-1z"/>
<path fill="rgb(170,170,170)" d="M17 11h1v1h-1zM25 11h1v1h-1zM15 12h3v1h-3zM12 13h2v1h-2zM18 13h2v1h-2zM10 14h2v1h-2z"/>
<path fill="rgb(198,198,198)" d="M17 10h3v1h-3zM16 11h1v1h-1zM19 11h1v1h-1zM14 12h1v1h-1zM19 12h1v1h-1zM11 13h1v1h-1zM14 13h4v1h-4zM20 13h3v1h-3zM7 14h1v1h-1zM9 14h1v1h-1zM12 14h9v1h-9zM26 14h1v1h-1zM5 15h15v1h-15zM23 15h3v1h-3zM2 16h4v1h-4zM7 16h10v1h-10zM18 16h2v1h-2zM23 16h1v1h-1zM4 17h1v1h-1z"/>
<path fill="rgb(227,227,227)" d="M19 9h1v1h-1zM12 12h2v1h-2zM10 13h1v1h-1zM23 13h1v1h-1zM8 14h1v1h-1zM25 14h1v1h-1zM20 15h3v1h-3zM1 16h1v1h-1zM6 16h1v1h-1zM17 16h1v1h-1zM20 16h3v1h-3zM24 16h3v1h-3zM5 17h2v1h-2zM15 17h10v1h-10z"/>
<path fill="rgb(255,255,255)" d="M15 11h1v1h-1zM20 11h1v1h-1zM24 12h1v1h-1zM7 17h8v1h-8z"/>
</g>
<rect x="1504.80" y="67.2" width="177.6" height="178.6" fill="#000"/>
<g transform="translate(1504.80,67.2) scale(6.3429,6.3786)" shape-rendering="crispEdges">
<path fill="rgb(28,28,28)" d="M2 4h3v1h-3z"/>
<path fill="rgb(57,57,57)" d="M0 5h1v1h-1zM27 5h1v1h-1zM0 6h1v1h-1zM2 6h1v1h-1zM4 6h1v1h-1zM12 6h1v1h-1zM20 6h1v1h-1zM27 6h1v1h-1zM0 7h2v1h-2zM15 7h1v1h-1zM19 7h1v1h-1zM21 7h1v1h-1zM27 7h1v1h-1zM0 8h1v1h-1zM6 8h1v1h-1zM17 8h1v1h-1zM27 8h1v1h-1zM0 9h1v1h-1zM26 9h2v1h-2zM0 10h1v1h-1zM9 10h2v1h-2zM14 10h1v1h-1zM27 10h1v1h-1zM0 11h1v1h-1zM11 11h1v1h-1zM15 11h1v1h-1zM20 11h1v1h-1zM24 11h1v1h-1zM27 11h1v1h-1zM0 12h1v1h-1zM4 12h1v1h-1zM27 12h1v1h-1zM0 13h1v1h-1zM19 13h1v1h-1zM27 13h1v1h-1zM0 14h1v1h-1zM8 14h1v1h-1zM22 14h2v1h-2zM27 14h1v1h-1zM0 15h1v1h-1zM23 15h1v1h-1zM27 15h1v1h-1zM0 16h3v1h-3zM25 16h1v1h-1zM27 16h1v1h-1zM0 17h1v1h-1zM9 17h1v1h-1zM21 17h1v1h-1zM27 17h1v1h-1zM0 18h2v1h-2zM26 18h2v1h-2zM0 19h1v1h-1zM2 19h1v1h-1zM27 19h1v1h-1zM0 20h1v1h-1zM27 20h1v1h-1zM0 21h1v1h-1zM15 21h1v1h-1zM27 21h1v1h-1zM0 22h1v1h-1zM10 22h1v1h-1zM25 22h1v1h-1zM27 22h1v1h-1zM0 23h1v1h-1zM10 23h1v1h-1zM27 23h1v1h-1zM0 24h1v1h-1zM27 24h1v1h-1z"/>
<path fill="rgb(85,85,85)" d="M2 5h1v1h-1zM6 5h3v1h-3zM10 5h1v1h-1zM13 5h1v1h-1zM15 5h1v1h-1zM19 5h2v1h-2zM23 5h1v1h-1zM25 5h1v1h-1zM3 6h1v1h-1zM11 7h1v1h-1zM3 8h1v1h-1zM13 8h1v1h-1zM20 8h1v1h-1zM24 9h1v1h-1zM4 10h1v1h-1zM17 10h1v1h-1zM3 11h1v1h-1zM12 11h1v1h-1zM14 11h1v1h-1zM21 11h1v1h-1zM22 12h1v1h-1zM2 13h1v1h-1zM2 14h2v1h-2zM24 14h1v1h-1zM21 15h1v1h-1zM10 16h2v1h-2zM19 16h1v1h-1zM5 17h1v1h-1zM18 17h1v1h-1zM22 17h1v1h-1zM4 18h1v1h-1zM13 18h1v1h-1zM17 18h1v1h-1zM22 18h1v1h-1zM6 21h1v1h-1zM11 21h1v1h-1zM25 21h1v1h-1zM15 22h1v1h-1zM20 22h1v1h-1zM5 23h1v1h-1zM12 23h1v1h-1zM18 23h1v1h-1zM7 24h1v1h-1zM9 24h3v1h-3z"/>
<path fill="rgb(113,113,113)" d="M5 5h1v1h-1zM11 5h2v1h-2zM17 5h1v1h-1zM24 5h1v1h-1zM1 6h1v1h-1zM17 6h1v1h-1zM19 6h1v1h-1zM2 7h2v1h-2zM6 7h1v1h-1zM8 7h1v1h-1zM13 7h1v1h-1zM23 7h2v1h-2zM2 8h1v1h-1zM16 8h1v1h-1zM18 8h1v1h-1zM23 8h1v1h-1zM2 9h2v1h-2zM8 9h1v1h-1zM17 9h4v1h-4zM1 10h1v1h-1zM5 10h1v1h-1zM12 10h1v1h-1zM25 10h1v1h-1zM5 11h1v1h-1zM8 11h2v1h-2zM13 11h1v1h-1zM16 11h1v1h-1zM18 11h1v1h-1zM22 11h1v1h-1zM26 11h1v1h-1zM7 12h2v1h-2zM14 12h3v1h-3zM20 12h1v1h-1zM26 12h1v1h-1zM6 13h1v1h-1zM10 13h1v1h-1zM13 14h1v1h-1zM15 14h1v1h-1zM3 15h1v1h-1zM5 15h1v1h-1zM9 15h1v1h-1zM13 15h1v1h-1zM17 15h4v1h-4zM22 15h1v1h-1zM26 15h1v1h-1zM6 16h1v1h-1zM9 16h1v1h-1zM13 16h1v1h-1zM15 16h1v1h-1zM4 17h1v1h-1zM13 17h1v1h-1zM15 17h1v1h-1zM20 17h1v1h-1zM23 17h3v1h-3zM2 18h1v1h-1zM11 18h1v1h-1zM18 18h1v1h-1zM23 18h1v1h-1zM17 19h1v1h-1zM19 19h1v1h-1zM23 19h1v1h-1zM1 20h1v1h-1zM5 20h2v1h-2zM10 20h1v1h-1zM12 20h1v1h-1zM15 20h1v1h-1zM18 20h1v1h-1zM21 20h1v1h-1zM4 21h1v1h-1zM18 21h2v1h-2zM21 21h2v1h-2zM26 21h1v1h-1zM2 22h1v1h-1zM7 22h1v1h-1zM13 22h1v1h-1zM16 22h1v1h-1zM18 22h1v1h-1zM22 22h1v1h-1zM24 22h1v1h-1zM1 23h1v1h-1zM3 23h1v1h-1zM11 23h1v1h-1zM15 23h2v1h-2zM19 23h1v1h-1zM4 24h1v1h-1zM19 24h1v1h-1z"/>
<path fill="rgb(142,142,142)" d="M1 5h1v1h-1zM3 5h2v1h-2zM9 5h1v1h-1zM14 5h1v1h-1zM16 5h1v1h-1zM18 5h1v1h-1zM21 5h2v1h-2zM26 5h1v1h-1zM5 6h1v1h-1zM10 6h1v1h-1zM14 6h3v1h-3zM18 6h1v1h-1zM21 6h1v1h-1zM24 6h1v1h-1zM26 6h1v1h-1zM7 7h1v1h-1zM16 7h3v1h-3zM25 7h1v1h-1zM4 8h1v1h-1zM9 8h1v1h-1zM12 8h1v1h-1zM15 8h1v1h-1zM21 8h2v1h-2zM24 8h1v1h-1zM7 9h1v1h-1zM11 9h1v1h-1zM13 9h1v1h-1zM16 9h1v1h-1zM21 9h1v1h-1zM23 9h1v1h-1zM2 10h2v1h-2zM8 10h1v1h-1zM11 10h1v1h-1zM4 11h1v1h-1zM6 11h1v1h-1zM10 11h1v1h-1zM19 11h1v1h-1zM23 11h1v1h-1zM2 12h2v1h-2zM5 12h1v1h-1zM13 12h1v1h-1zM17 12h2v1h-2zM23 12h1v1h-1zM25 12h1v1h-1zM4 13h1v1h-1zM7 13h1v1h-1zM9 13h1v1h-1zM11 13h2v1h-2zM16 13h1v1h-1zM18 13h1v1h-1zM20 13h2v1h-2zM23 13h2v1h-2zM1 14h1v1h-1zM4 14h1v1h-1zM6 14h2v1h-2zM9 14h1v1h-1zM11 14h2v1h-2zM14 14h1v1h-1zM16 14h1v1h-1zM18 14h3v1h-3zM1 15h1v1h-1zM7 15h1v1h-1zM12 15h1v1h-1zM5 16h1v1h-1zM17 16h2v1h-2zM20 16h3v1h-3zM24 16h1v1h-1zM26 16h1v1h-1zM1 17h1v1h-1zM6 17h1v1h-1zM5 18h1v1h-1zM14 18h3v1h-3zM25 18h1v1h-1zM4 19h2v1h-2zM11 19h1v1h-1zM13 19h1v1h-1zM15 19h1v1h-1zM22 19h1v1h-1zM25 19h1v1h-1zM2 20h1v1h-1zM4 20h1v1h-1zM9 20h1v1h-1zM11 20h1v1h-1zM14 20h1v1h-1zM20 20h1v1h-1zM25 20h1v1h-1zM1 21h3v1h-3zM5 21h1v1h-1zM7 21h1v1h-1zM13 21h1v1h-1zM16 21h1v1h-1zM20 21h1v1h-1zM23 21h2v1h-2zM1 22h1v1h-1zM5 22h1v1h-1zM12 22h1v1h-1zM14 22h1v1h-1zM19 22h1v1h-1zM23 22h1v1h-1zM26 22h1v1h-1zM2 23h1v1h-1zM6 23h1v1h-1zM9 23h1v1h-1zM14 23h1v1h-1zM17 23h1v1h-1zM20 23h2v1h-2zM23 23h1v1h-1zM25 23h2v1h-2zM5 24h2v1h-2zM8 24h1v1h-1zM14 24h1v1h-1zM17 24h1v1h-1z"/>
<path fill="rgb(170,170,170)" d="M6 6h1v1h-1zM9 6h1v1h-1zM11 6h1v1h-1zM13 6h1v1h-1zM23 6h1v1h-1zM25 6h1v1h-1zM5 7h1v1h-1zM9 7h2v1h-2zM20 7h1v1h-1zM22 7h1v1h-1zM26 7h1v1h-1zM8 8h1v1h-1zM10 8h1v1h-1zM14 8h1v1h-1zM19 8h1v1h-1zM25 8h2v1h-2zM1 9h1v1h-1zM4 9h2v1h-2zM9 9h1v1h-1zM12 9h1v1h-1zM15 9h1v1h-1zM25 9h1v1h-1zM6 10h1v1h-1zM18 10h1v1h-1zM21 10h4v1h-4zM26 10h1v1h-1zM2 11h1v1h-1zM7 11h1v1h-1zM25 11h1v1h-1zM6 12h1v1h-1zM9 12h4v1h-4zM19 12h1v1h-1zM22 13h1v1h-1zM26 13h1v1h-1zM5 14h1v1h-1zM10 14h1v1h-1zM17 14h1v1h-1zM21 14h1v1h-1zM25 14h1v1h-1zM6 15h1v1h-1zM8 15h1v1h-1zM10 15h1v1h-1zM14 15h3v1h-3zM24 15h1v1h-1zM3 16h1v1h-1zM16 16h1v1h-1zM3 17h1v1h-1zM7 17h1v1h-1zM11 17h1v1h-1zM19 17h1v1h-1zM26 17h1v1h-1zM10 18h1v1h-1zM20 18h1v1h-1zM24 18h1v1h-1zM6 19h1v1h-1zM9 19h1v1h-1zM16 19h1v1h-1zM18 19h1v1h-1zM20 19h2v1h-2zM26 19h1v1h-1zM13 20h1v1h-1zM16 20h2v1h-2zM22 20h1v1h-1zM24 20h1v1h-1zM26 20h1v1h-1zM9 21h2v1h-2zM12 21h1v1h-1zM3 22h1v1h-1zM6 22h1v1h-1zM11 22h1v1h-1zM17 22h1v1h-1zM4 23h1v1h-1zM8 23h1v1h-1zM1 24h1v1h-1zM16 24h1v1h-1zM18 24h1v1h-1zM22 24h1v1h-1zM24 24h1v1h-1zM26 24h1v1h-1z"/>
<path fill="rgb(198,198,198)" d="M8 6h1v1h-1zM22 6h1v1h-1zM4 7h1v1h-1zM14 7h1v1h-1zM6 9h1v1h-1zM10 9h1v1h-1zM7 10h1v1h-1zM13 10h1v1h-1zM20 10h1v1h-1zM17 11h1v1h-1zM21 12h1v1h-1zM24 12h1v1h-1zM1 13h1v1h-1zM3 13h1v1h-1zM8 13h1v1h-1zM13 13h3v1h-3zM25 13h1v1h-1zM7 16h2v1h-2zM14 16h1v1h-1zM23 16h1v1h-1zM2 17h1v1h-1zM10 17h1v1h-1zM12 17h1v1h-1zM14 17h1v1h-1zM16 17h2v1h-2zM3 18h1v1h-1zM7 18h3v1h-3zM12 18h1v1h-1zM19 18h1v1h-1zM21 18h1v1h-1zM1 19h1v1h-1zM3 19h1v1h-1zM7 19h2v1h-2zM10 19h1v1h-1zM12 19h1v1h-1zM14 19h1v1h-1zM23 20h1v1h-1zM8 21h1v1h-1zM14 21h1v1h-1zM17 21h1v1h-1zM8 22h2v1h-2zM7 23h1v1h-1zM13 23h1v1h-1zM24 23h1v1h-1zM2 24h1v1h-1zM12 24h2v1h-2zM15 24h1v1h-1zM25 24h1v1h-1z"/>
<path fill="rgb(227,227,227)" d="M7 6h1v1h-1zM12 7h1v1h-1zM1 8h1v1h-1zM5 8h1v1h-1zM7 8h1v1h-1zM11 8h1v1h-1zM14 9h1v1h-1zM22 9h1v1h-1zM15 10h2v1h-2zM19 10h1v1h-1zM1 11h1v1h-1zM1 12h1v1h-1zM5 13h1v1h-1zM17 13h1v1h-1zM26 14h1v1h-1zM2 15h1v1h-1zM4 15h1v1h-1zM11 15h1v1h-1zM25 15h1v1h-1zM4 16h1v1h-1zM12 16h1v1h-1zM8 17h1v1h-1zM6 18h1v1h-1zM24 19h1v1h-1zM3 20h1v1h-1zM7 20h2v1h-2zM19 20h1v1h-1zM4 22h1v1h-1zM21 22h1v1h-1zM22 23h1v1h-1zM3 24h1v1h-1zM20 24h2v1h-2zM23 24h1v1h-1z"/>
</g>
<rect x="1689.40" y="67.2" width="177.6" height="178.6" fill="#000"/>
<g transform="translate(1689.40,67.2) scale(6.3429,6.3786)" shape-rendering="crispEdges">
<path fill="rgb(28,28,28)" d="M20 5h1v1h-1zM23 6h1v1h-1zM27 7h1v1h-1zM4 16h2v1h-2zM14 19h2v1h-2z"/>
<path fill="rgb(57,57,57)" d="M14 4h1v1h-1zM17 4h2v1h-2zM22 6h1v1h-1zM26 6h1v1h-1zM13 7h1v1h-1zM25 7h1v1h-1zM27 11h1v1h-1zM27 12h1v1h-1zM12 13h1v1h-1zM26 13h1v1h-1zM26 14h1v1h-1zM9 15h1v1h-1zM6 16h1v1h-1zM1 17h1v1h-1zM13 18h1v1h-1zM16 19h2v1h-2zM0 20h1v1h-1zM0 21h1v1h-1zM27 22h1v1h-1zM2 23h1v1h-1zM4 24h1v1h-1zM25 24h1v1h-1zM7 25h6v1h-6z"/>
<path fill="rgb(85,85,85)" d="M16 3h1v1h-1zM14 5h1v1h-1zM18 6h1v1h-1zM21 6h1v1h-1zM24 6h1v1h-1zM20 7h3v1h-3zM23 8h2v1h-2zM12 12h1v1h-1zM25 12h1v1h-1zM7 16h1v1h-1zM0 19h1v1h-1z"/>
<path fill="rgb(113,113,113)" d="M15 4h2v1h-2zM17 5h3v1h-3zM25 6h1v1h-1zM19 7h1v1h-1zM23 7h2v1h-2zM10 15h1v1h-1zM26 15h1v1h-1zM19 18h1v1h-1zM1 22h1v1h-1zM24 24h1v1h-1z"/>
<path fill="rgb(142,142,142)" d="M16 5h1v1h-1zM14 6h1v1h-1zM19 6h2v1h-2zM22 8h1v1h-1zM18 10h1v1h-1zM18 11h1v1h-1zM13 17h1v1h-1zM14 18h1v1h-1zM18 18h1v1h-1zM18 19h1v1h-1zM22 22h1v1h-1zM24 22h1v1h-1z"/>
<path fill="rgb(170,170,170)" d="M15 5h1v1h-1zM17 6h1v1h-1zM26 7h1v1h-1zM25 8h1v1h-1zM26 9h1v1h-1zM17 10h1v1h-1zM17 11h1v1h-1zM25 11h1v1h-1zM26 12h1v1h-1zM8 16h1v1h-1zM20 16h2v1h-2zM20 18h1v1h-1zM23 22h1v1h-1zM26 23h1v1h-1z"/>
<path fill="rgb(198,198,198)" d="M16 6h1v1h-1zM14 7h1v1h-1zM13 8h1v1h-1zM13 9h1v1h-1zM13 10h1v1h-1zM19 10h6v1h-6zM26 10h1v1h-1zM26 11h1v1h-1zM25 13h1v1h-1zM11 15h1v1h-1zM14 16h4v1h-4zM26 16h1v1h-1zM15 17h3v1h-3zM1 18h1v1h-1zM9 19h1v1h-1zM15 20h1v1h-1zM9 21h1v1h-1zM11 21h4v1h-4zM22 21h1v1h-1zM3 22h19v1h-19zM3 23h1v1h-1zM5 23h20v1h-20zM15 24h9v1h-9z"/>
<path fill="rgb(227,227,227)" d="M15 6h1v1h-1zM15 7h4v1h-4zM14 8h8v1h-8zM26 8h1v1h-1zM14 9h11v1h-11zM14 10h3v1h-3zM13 11h4v1h-4zM19 11h6v1h-6zM14 12h11v1h-11zM13 13h12v1h-12zM13 14h12v1h-12zM12 15h14v1h-14zM9 16h5v1h-5zM18 16h2v1h-2zM25 16h1v1h-1zM2 17h11v1h-11zM20 17h7v1h-7zM2 18h11v1h-11zM16 18h2v1h-2zM21 18h6v1h-6zM2 19h7v1h-7zM10 19h3v1h-3zM19 19h8v1h-8zM1 20h14v1h-14zM16 20h11v1h-11zM1 21h8v1h-8zM10 21h1v1h-1zM15 21h7v1h-7zM23 21h4v1h-4zM25 22h2v1h-2zM4 23h1v1h-1zM25 23h1v1h-1zM5 24h1v1h-1zM13 24h2v1h-2z"/>
<path fill="rgb(255,255,255)" d="M25 9h1v1h-1zM25 10h1v1h-1zM13 12h1v1h-1zM12 14h1v1h-1zM25 14h1v1h-1zM22 16h3v1h-3zM14 17h1v1h-1zM18 17h2v1h-2zM15 18h1v1h-1zM1 19h1v1h-1zM13 19h1v1h-1zM2 22h1v1h-1zM6 24h7v1h-7z"/>
</g>
<text x="104.6" y="356.4" font-size="26.3" text-anchor="end" fill="#262626" >0.55</text>
<text x="104.6" y="476.4" font-size="26.3" text-anchor="end" fill="#262626" >0.50</text>
<text x="104.6" y="596.4" font-size="26.3" text-anchor="end" fill="#262626" >0.45</text>
<text x="104.6" y="716.4" font-size="26.3" text-anchor="end" fill="#262626" >0.40</text>
<text x="104.6" y="836.4" font-size="26.3" text-anchor="end" fill="#262626" >0.35</text>
<text x="104.6" y="956.4" font-size="26.3" text-anchor="end" fill="#262626" >0.30</text>
<text x="169.5" y="1075.4" font-size="26.3" text-anchor="middle" fill="#262626">10<tspan font-size="18.2" dy="-18.5" dx="1">3</tspan></text>
<text x="313.0" y="1075.4" font-size="26.3" text-anchor="middle" fill="#262626">10<tspan font-size="18.2" dy="-18.5" dx="1">4</tspan></text>
<text x="456.5" y="1075.4" font-size="26.3" text-anchor="middle" fill="#262626">10<tspan font-size="18.2" dy="-18.5" dx="1">5</tspan></text>
<text x="600.0" y="1075.4" font-size="26.3" text-anchor="middle" fill="#262626">10<tspan font-size="18.2" dy="-18.5" dx="1">6</tspan></text>
<text x="743.5" y="1075.4" font-size="26.3" text-anchor="middle" fill="#262626">10<tspan font-size="18.2" dy="-18.5" dx="1">7</tspan></text>
<text transform="translate(32.8,681.8) rotate(-90)" font-size="26.3" text-anchor="middle" fill="#262626">test loss</text>
<text x="500.3" y="1117.0" font-size="26.3" text-anchor="middle" fill="#262626" >trainable params</text>
<text x="1126.8" y="1026.7" font-size="26.3" text-anchor="end" fill="#262626" >80</text>
<text x="1126.8" y="903.7" font-size="26.3" text-anchor="end" fill="#262626" >82</text>
<text x="1126.8" y="780.7" font-size="26.3" text-anchor="end" fill="#262626" >84</text>
<text x="1126.8" y="657.7" font-size="26.3" text-anchor="end" fill="#262626" >86</text>
<text x="1126.8" y="534.7" font-size="26.3" text-anchor="end" fill="#262626" >88</text>
<text x="1126.8" y="411.7" font-size="26.3" text-anchor="end" fill="#262626" >90</text>
<text x="1190.5" y="1075.4" font-size="26.3" text-anchor="middle" fill="#262626">10<tspan font-size="18.2" dy="-18.5" dx="1">3</tspan></text>
<text x="1334.0" y="1075.4" font-size="26.3" text-anchor="middle" fill="#262626">10<tspan font-size="18.2" dy="-18.5" dx="1">4</tspan></text>
<text x="1477.5" y="1075.4" font-size="26.3" text-anchor="middle" fill="#262626">10<tspan font-size="18.2" dy="-18.5" dx="1">5</tspan></text>
<text x="1621.0" y="1075.4" font-size="26.3" text-anchor="middle" fill="#262626">10<tspan font-size="18.2" dy="-18.5" dx="1">6</tspan></text>
<text x="1764.5" y="1075.4" font-size="26.3" text-anchor="middle" fill="#262626">10<tspan font-size="18.2" dy="-18.5" dx="1">7</tspan></text>
<text transform="translate(1076.3,681.8) rotate(-90)" font-size="26.3" text-anchor="middle" fill="#262626">test accuracy (%)</text>
<text x="1521.5" y="1117.0" font-size="26.3" text-anchor="middle" fill="#262626" >trainable params</text>
<text x="104.6" y="1229.4" font-size="26.3" text-anchor="end" fill="#262626" >0.38</text>
<text x="104.6" y="1359.9" font-size="26.3" text-anchor="end" fill="#262626" >0.36</text>
<text x="104.6" y="1490.5" font-size="26.3" text-anchor="end" fill="#262626" >0.34</text>
<text x="104.6" y="1621.0" font-size="26.3" text-anchor="end" fill="#262626" >0.32</text>
<text x="104.6" y="1751.6" font-size="26.3" text-anchor="end" fill="#262626" >0.30</text>
<text x="104.6" y="1882.1" font-size="26.3" text-anchor="end" fill="#262626" >0.28</text>
<text x="166.3" y="1952.5" font-size="26.3" text-anchor="middle" fill="#262626">2<tspan font-size="18.2" dy="-18.5" dx="1">0</tspan></text>
<text x="277.5" y="1952.5" font-size="26.3" text-anchor="middle" fill="#262626">2<tspan font-size="18.2" dy="-18.5" dx="1">1</tspan></text>
<text x="388.7" y="1952.5" font-size="26.3" text-anchor="middle" fill="#262626">2<tspan font-size="18.2" dy="-18.5" dx="1">2</tspan></text>
<text x="499.9" y="1952.5" font-size="26.3" text-anchor="middle" fill="#262626">2<tspan font-size="18.2" dy="-18.5" dx="1">3</tspan></text>
<text x="611.1" y="1952.5" font-size="26.3" text-anchor="middle" fill="#262626">2<tspan font-size="18.2" dy="-18.5" dx="1">4</tspan></text>
<text x="722.3" y="1952.5" font-size="26.3" text-anchor="middle" fill="#262626">2<tspan font-size="18.2" dy="-18.5" dx="1">5</tspan></text>
<text x="833.5" y="1952.5" font-size="26.3" text-anchor="middle" fill="#262626">2<tspan font-size="18.2" dy="-18.5" dx="1">6</tspan></text>
<text transform="translate(32.8,1559.2) rotate(-90)" font-size="26.3" text-anchor="middle" fill="#262626">test loss</text>
<text x="499.6" y="1992.8" font-size="26.3" text-anchor="middle" fill="#262626" >dendrites per soma</text>
<text x="1126.8" y="1779.1" font-size="26.3" text-anchor="end" fill="#262626" >87</text>
<text x="1126.8" y="1629.5" font-size="26.3" text-anchor="end" fill="#262626" >88</text>
<text x="1126.8" y="1479.9" font-size="26.3" text-anchor="end" fill="#262626" >89</text>
<text x="1126.8" y="1330.3" font-size="26.3" text-anchor="end" fill="#262626" >90</text>
<text x="1187.4" y="1952.5" font-size="26.3" text-anchor="middle" fill="#262626">2<tspan font-size="18.2" dy="-18.5" dx="1">0</tspan></text>
<text x="1298.7" y="1952.5" font-size="26.3" text-anchor="middle" fill="#262626">2<tspan font-size="18.2" dy="-18.5" dx="1">1</tspan></text>
<text x="1410.0" y="1952.5" font-size="26.3" text-anchor="middle" fill="#262626">2<tspan font-size="18.2" dy="-18.5" dx="1">2</tspan></text>
<text x="1521.3" y="1952.5" font-size="26.3" text-anchor="middle" fill="#262626">2<tspan font-size="18.2" dy="-18.5" dx="1">3</tspan></text>
<text x="1632.6" y="1952.5" font-size="26.3" text-anchor="middle" fill="#262626">2<tspan font-size="18.2" dy="-18.5" dx="1">4</tspan></text>
<text x="1743.9" y="1952.5" font-size="26.3" text-anchor="middle" fill="#262626">2<tspan font-size="18.2" dy="-18.5" dx="1">5</tspan></text>
<text x="1855.2" y="1952.5" font-size="26.3" text-anchor="middle" fill="#262626">2<tspan font-size="18.2" dy="-18.5" dx="1">6</tspan></text>
<text transform="translate(1076.3,1559.2) rotate(-90)" font-size="26.3" text-anchor="middle" fill="#262626">test accuracy (%)</text>
<text x="1521.5" y="1992.8" font-size="26.3" text-anchor="middle" fill="#262626" >dendrites per soma</text>
<defs><clipPath id="clipb"><rect x="133" y="330" width="740" height="693"/></clipPath><clipPath id="clipc"><rect x="1154" y="330" width="740" height="693"/></clipPath></defs>
<g clip-path="url(#clipb)">
<polygon points="165.8,444.0 195.4,551.0 208.4,597.0 230.8,637.0 238.2,662.0 251.6,706.0 269.4,712.0 273.4,720.0 281.6,746.0 294.4,761.0 309.9,764.0 312.5,765.0 324.8,797.0 337.6,809.0 352.5,796.0 356.2,828.0 361.3,835.0 367.9,852.0 394.9,836.0 403.4,867.5 438.6,869.0 439.1,883.5 444.0,898.0 481.3,877.0 482.3,888.0 483.4,899.0 525.0,886.0 525.5,896.0 568.0,876.0 568.0,896.0 525.5,916.0 525.0,906.0 483.4,919.0 482.3,908.0 481.3,897.0 444.0,918.0 439.1,903.5 438.6,889.0 403.4,887.5 394.9,856.0 367.9,872.0 361.3,855.0 356.2,848.0 352.5,816.0 337.6,829.0 324.8,817.0 312.5,785.0 309.9,784.0 294.4,781.0 281.6,766.0 273.4,740.0 269.4,732.0 251.6,726.0 238.2,682.0 230.8,657.0 208.4,617.0 195.4,571.0 165.8,472.0" fill="#8de5a1" fill-opacity="0.2" stroke="#8de5a1" stroke-opacity="0.25" stroke-width="1.5" stroke-linejoin="round"/>
<polyline points="165.8,458.0 195.4,561.0 208.4,607.0 230.8,647.0 238.2,672.0 251.6,716.0 269.4,722.0 273.4,730.0 281.6,756.0 294.4,771.0 309.9,774.0 312.5,775.0 324.8,807.0 337.6,819.0 352.5,806.0 356.2,838.0 361.3,845.0 367.9,862.0 394.9,846.0 403.4,877.5 438.6,879.0 439.1,893.5 444.0,908.0 481.3,887.0 482.3,898.0 483.4,909.0 525.0,896.0 525.5,906.0 568.0,886.0" fill="none" stroke="#7fd893" stroke-width="3.8" stroke-linejoin="miter" stroke-miterlimit="3"/>
<circle cx="165.8" cy="458.0" r="5.6" fill="#fff"/>
<circle cx="165.8" cy="458.0" r="1.5" fill="#7fd893"/>
<circle cx="195.4" cy="561.0" r="5.6" fill="#fff"/>
<circle cx="195.4" cy="561.0" r="1.5" fill="#7fd893"/>
<circle cx="208.4" cy="607.0" r="5.6" fill="#fff"/>
<circle cx="208.4" cy="607.0" r="1.5" fill="#7fd893"/>
<circle cx="230.8" cy="647.0" r="5.6" fill="#fff"/>
<circle cx="230.8" cy="647.0" r="1.5" fill="#7fd893"/>
<circle cx="238.2" cy="672.0" r="5.6" fill="#fff"/>
<circle cx="238.2" cy="672.0" r="1.5" fill="#7fd893"/>
<circle cx="251.6" cy="716.0" r="5.6" fill="#fff"/>
<circle cx="251.6" cy="716.0" r="1.5" fill="#7fd893"/>
<circle cx="269.4" cy="722.0" r="5.6" fill="#fff"/>
<circle cx="269.4" cy="722.0" r="1.5" fill="#7fd893"/>
<circle cx="273.4" cy="730.0" r="5.6" fill="#fff"/>
<circle cx="273.4" cy="730.0" r="1.5" fill="#7fd893"/>
<circle cx="281.6" cy="756.0" r="5.6" fill="#fff"/>
<circle cx="281.6" cy="756.0" r="1.5" fill="#7fd893"/>
<circle cx="294.4" cy="771.0" r="5.6" fill="#fff"/>
<circle cx="294.4" cy="771.0" r="1.5" fill="#7fd893"/>
<circle cx="309.9" cy="774.0" r="5.6" fill="#fff"/>
<circle cx="309.9" cy="774.0" r="1.5" fill="#7fd893"/>
<circle cx="312.5" cy="775.0" r="5.6" fill="#fff"/>
<circle cx="312.5" cy="775.0" r="1.5" fill="#7fd893"/>
<circle cx="324.8" cy="807.0" r="5.6" fill="#fff"/>
<circle cx="324.8" cy="807.0" r="1.5" fill="#7fd893"/>
<circle cx="337.6" cy="819.0" r="5.6" fill="#fff"/>
<circle cx="337.6" cy="819.0" r="1.5" fill="#7fd893"/>
<circle cx="352.5" cy="806.0" r="5.6" fill="#fff"/>
<circle cx="352.5" cy="806.0" r="1.5" fill="#7fd893"/>
<circle cx="356.2" cy="838.0" r="5.6" fill="#fff"/>
<circle cx="356.2" cy="838.0" r="1.5" fill="#7fd893"/>
<circle cx="361.3" cy="845.0" r="5.6" fill="#fff"/>
<circle cx="361.3" cy="845.0" r="1.5" fill="#7fd893"/>
<circle cx="367.9" cy="862.0" r="5.6" fill="#fff"/>
<circle cx="367.9" cy="862.0" r="1.5" fill="#7fd893"/>
<circle cx="394.9" cy="846.0" r="5.6" fill="#fff"/>
<circle cx="394.9" cy="846.0" r="1.5" fill="#7fd893"/>
<circle cx="403.4" cy="877.5" r="5.6" fill="#fff"/>
<circle cx="403.4" cy="877.5" r="1.5" fill="#7fd893"/>
<circle cx="438.6" cy="879.0" r="5.6" fill="#fff"/>
<circle cx="438.6" cy="879.0" r="1.5" fill="#7fd893"/>
<circle cx="439.1" cy="893.5" r="5.6" fill="#fff"/>
<circle cx="439.1" cy="893.5" r="1.5" fill="#7fd893"/>
<circle cx="444.0" cy="908.0" r="5.6" fill="#fff"/>
<circle cx="444.0" cy="908.0" r="1.5" fill="#7fd893"/>
<circle cx="481.3" cy="887.0" r="5.6" fill="#fff"/>
<circle cx="481.3" cy="887.0" r="1.5" fill="#7fd893"/>
<circle cx="482.3" cy="898.0" r="5.6" fill="#fff"/>
<circle cx="482.3" cy="898.0" r="1.5" fill="#7fd893"/>
<circle cx="483.4" cy="909.0" r="5.6" fill="#fff"/>
<circle cx="483.4" cy="909.0" r="1.5" fill="#7fd893"/>
<circle cx="525.0" cy="896.0" r="5.6" fill="#fff"/>
<circle cx="525.0" cy="896.0" r="1.5" fill="#7fd893"/>
<circle cx="525.5" cy="906.0" r="5.6" fill="#fff"/>
<circle cx="525.5" cy="906.0" r="1.5" fill="#7fd893"/>
<circle cx="568.0" cy="886.0" r="5.6" fill="#fff"/>
<circle cx="568.0" cy="886.0" r="1.5" fill="#7fd893"/>
</g>
<g clip-path="url(#clipb)">
<polygon points="165.8,396.0 195.0,509.0 208.4,589.0 230.8,611.0 238.2,669.0 251.6,696.0 269.4,709.0 273.4,726.0 281.6,761.0 294.4,781.0 309.9,776.0 312.5,783.0 324.8,833.0 337.6,846.0 352.5,829.0 353.6,837.0 356.2,853.0 359.7,876.0 367.9,890.0 394.9,872.0 395.4,889.0 396.5,904.0 398.1,918.0 403.4,934.0 438.1,925.0 438.6,936.0 442.3,954.0 481.8,937.0 482.3,949.0 483.4,959.0 488.0,966.0 521.0,963.0 524.8,966.0 530.0,964.0 568.0,944.0 568.0,962.0 530.0,982.0 524.8,984.0 521.0,981.0 488.0,984.0 483.4,977.0 482.3,967.0 481.8,955.0 442.3,972.0 438.6,954.0 438.1,943.0 403.4,952.0 398.1,936.0 396.5,922.0 395.4,907.0 394.9,890.0 367.9,908.0 359.7,894.0 356.2,871.0 353.6,855.0 352.5,847.0 337.6,864.0 324.8,851.0 312.5,801.0 309.9,794.0 294.4,799.0 281.6,779.0 273.4,744.0 269.4,727.0 251.6,714.0 238.2,687.0 230.8,629.0 208.4,607.0 195.0,537.0 165.8,436.0" fill="#ff9f9b" fill-opacity="0.2" stroke="#ff9f9b" stroke-opacity="0.25" stroke-width="1.5" stroke-linejoin="round"/>
<polyline points="165.8,416.0 195.0,523.0 208.4,598.0 230.8,620.0 238.2,678.0 251.6,705.0 269.4,718.0 273.4,735.0 281.6,770.0 294.4,790.0 309.9,785.0 312.5,792.0 324.8,842.0 337.6,855.0 352.5,838.0 353.6,846.0 356.2,862.0 359.7,885.0 367.9,899.0 394.9,881.0 395.4,898.0 396.5,913.0 398.1,927.0 403.4,943.0 438.1,934.0 438.6,945.0 442.3,963.0 481.8,946.0 482.3,958.0 483.4,968.0 488.0,975.0 521.0,972.0 524.8,975.0 530.0,973.0 568.0,953.0" fill="none" stroke="#f7918b" stroke-width="3.8" stroke-linejoin="miter" stroke-miterlimit="3"/>
<circle cx="165.8" cy="416.0" r="5.6" fill="#fff"/>
<circle cx="195.0" cy="523.0" r="5.6" fill="#fff"/>
<circle cx="208.4" cy="598.0" r="5.6" fill="#fff"/>
<circle cx="230.8" cy="620.0" r="5.6" fill="#fff"/>
<circle cx="238.2" cy="678.0" r="5.6" fill="#fff"/>
<circle cx="251.6" cy="705.0" r="5.6" fill="#fff"/>
<circle cx="269.4" cy="718.0" r="5.6" fill="#fff"/>
<circle cx="273.4" cy="735.0" r="5.6" fill="#fff"/>
<circle cx="281.6" cy="770.0" r="5.6" fill="#fff"/>
<circle cx="294.4" cy="790.0" r="5.6" fill="#fff"/>
<circle cx="309.9" cy="785.0" r="5.6" fill="#fff"/>
<circle cx="312.5" cy="792.0" r="5.6" fill="#fff"/>
<circle cx="324.8" cy="842.0" r="5.6" fill="#fff"/>
<circle cx="337.6" cy="855.0" r="5.6" fill="#fff"/>
<circle cx="352.5" cy="838.0" r="5.6" fill="#fff"/>
<circle cx="353.6" cy="846.0" r="5.6" fill="#fff"/>
<circle cx="356.2" cy="862.0" r="5.6" fill="#fff"/>
<circle cx="359.7" cy="885.0" r="5.6" fill="#fff"/>
<circle cx="367.9" cy="899.0" r="5.6" fill="#fff"/>
<circle cx="394.9" cy="881.0" r="5.6" fill="#fff"/>
<circle cx="395.4" cy="898.0" r="5.6" fill="#fff"/>
<circle cx="396.5" cy="913.0" r="5.6" fill="#fff"/>
<circle cx="398.1" cy="927.0" r="5.6" fill="#fff"/>
<circle cx="403.4" cy="943.0" r="5.6" fill="#fff"/>
<circle cx="438.1" cy="934.0" r="5.6" fill="#fff"/>
<circle cx="438.6" cy="945.0" r="5.6" fill="#fff"/>
<circle cx="442.3" cy="963.0" r="5.6" fill="#fff"/>
<circle cx="481.8" cy="946.0" r="5.6" fill="#fff"/>
<circle cx="482.3" cy="958.0" r="5.6" fill="#fff"/>
<circle cx="483.4" cy="968.0" r="5.6" fill="#fff"/>
<circle cx="488.0" cy="975.0" r="5.6" fill="#fff"/>
<circle cx="521.0" cy="972.0" r="5.6" fill="#fff"/>
<circle cx="524.8" cy="975.0" r="5.6" fill="#fff"/>
<circle cx="530.0" cy="973.0" r="5.6" fill="#fff"/>
<circle cx="568.0" cy="953.0" r="5.6" fill="#fff"/>
</g>
<g clip-path="url(#clipb)">
<polygon points="165.8,372.0 195.6,442.0 208.4,577.0 230.8,566.0 238.2,634.0 251.6,707.0 269.4,599.0 273.4,691.0 281.6,754.0 294.4,781.0 309.9,681.0 312.5,751.0 324.8,828.0 337.6,842.0 352.5,760.0 353.6,799.0 356.2,837.0 359.7,863.0 367.9,890.0 394.9,834.0 395.4,859.0 396.5,876.0 398.1,884.0 403.4,912.0 438.1,900.0 438.6,913.0 442.3,939.0 481.8,945.0 521.0,968.0 524.8,971.0 525.5,947.0 568.0,939.0 568.0,957.0 525.5,965.0 524.8,989.0 521.0,986.0 481.8,963.0 442.3,957.0 438.6,931.0 438.1,918.0 403.4,930.0 398.1,902.0 396.5,894.0 395.4,877.0 394.9,852.0 367.9,908.0 359.7,881.0 356.2,855.0 353.6,817.0 352.5,780.0 337.6,860.0 324.8,846.0 312.5,769.0 309.9,709.0 294.4,799.0 281.6,772.0 273.4,709.0 269.4,627.0 251.6,725.0 238.2,652.0 230.8,590.0 208.4,595.0 195.6,486.0 165.8,436.0" fill="#a1c9f4" fill-opacity="0.2" stroke="#a1c9f4" stroke-opacity="0.25" stroke-width="1.5" stroke-linejoin="round"/>
<polyline points="165.8,404.0 195.6,464.0 208.4,586.0 230.8,578.0 238.2,643.0 251.6,716.0 269.4,613.0 273.4,700.0 281.6,763.0 294.4,790.0 309.9,695.0 312.5,760.0 324.8,837.0 337.6,851.0 352.5,770.0 353.6,808.0 356.2,846.0 359.7,872.0 367.9,899.0 394.9,843.0 395.4,868.0 396.5,885.0 398.1,893.0 403.4,921.0 438.1,909.0 438.6,922.0 442.3,948.0 481.8,954.0 521.0,977.0 524.8,980.0 525.5,956.0 568.0,948.0" fill="none" stroke="#93bdec" stroke-width="3.8" stroke-linejoin="miter" stroke-miterlimit="3"/>
<circle cx="165.8" cy="404.0" r="5.6" fill="#fff"/>
<circle cx="165.8" cy="404.0" r="1.5" fill="#93bdec"/>
<circle cx="195.6" cy="464.0" r="5.6" fill="#fff"/>
<circle cx="195.6" cy="464.0" r="1.5" fill="#93bdec"/>
<circle cx="208.4" cy="586.0" r="5.6" fill="#fff"/>
<circle cx="208.4" cy="586.0" r="1.5" fill="#93bdec"/>
<circle cx="230.8" cy="578.0" r="5.6" fill="#fff"/>
<circle cx="230.8" cy="578.0" r="1.5" fill="#93bdec"/>
<circle cx="238.2" cy="643.0" r="5.6" fill="#fff"/>
<circle cx="238.2" cy="643.0" r="1.5" fill="#93bdec"/>
<circle cx="251.6" cy="716.0" r="5.6" fill="#fff"/>
<circle cx="251.6" cy="716.0" r="1.5" fill="#93bdec"/>
<circle cx="269.4" cy="613.0" r="5.6" fill="#fff"/>
<circle cx="269.4" cy="613.0" r="1.5" fill="#93bdec"/>
<circle cx="273.4" cy="700.0" r="5.6" fill="#fff"/>
<circle cx="273.4" cy="700.0" r="1.5" fill="#93bdec"/>
<circle cx="281.6" cy="763.0" r="5.6" fill="#fff"/>
<circle cx="281.6" cy="763.0" r="1.5" fill="#93bdec"/>
<circle cx="294.4" cy="790.0" r="5.6" fill="#fff"/>
<circle cx="294.4" cy="790.0" r="1.5" fill="#93bdec"/>
<circle cx="309.9" cy="695.0" r="5.6" fill="#fff"/>
<circle cx="309.9" cy="695.0" r="1.5" fill="#93bdec"/>
<circle cx="312.5" cy="760.0" r="5.6" fill="#fff"/>
<circle cx="312.5" cy="760.0" r="1.5" fill="#93bdec"/>
<circle cx="324.8" cy="837.0" r="5.6" fill="#fff"/>
<circle cx="324.8" cy="837.0" r="1.5" fill="#93bdec"/>
<circle cx="337.6" cy="851.0" r="5.6" fill="#fff"/>
<circle cx="337.6" cy="851.0" r="1.5" fill="#93bdec"/>
<circle cx="352.5" cy="770.0" r="5.6" fill="#fff"/>
<circle cx="352.5" cy="770.0" r="1.5" fill="#93bdec"/>
<circle cx="353.6" cy="808.0" r="5.6" fill="#fff"/>
<circle cx="353.6" cy="808.0" r="1.5" fill="#93bdec"/>
<circle cx="356.2" cy="846.0" r="5.6" fill="#fff"/>
<circle cx="356.2" cy="846.0" r="1.5" fill="#93bdec"/>
<circle cx="359.7" cy="872.0" r="5.6" fill="#fff"/>
<circle cx="359.7" cy="872.0" r="1.5" fill="#93bdec"/>
<circle cx="367.9" cy="899.0" r="5.6" fill="#fff"/>
<circle cx="367.9" cy="899.0" r="1.5" fill="#93bdec"/>
<circle cx="394.9" cy="843.0" r="5.6" fill="#fff"/>
<circle cx="394.9" cy="843.0" r="1.5" fill="#93bdec"/>
<circle cx="395.4" cy="868.0" r="5.6" fill="#fff"/>
<circle cx="395.4" cy="868.0" r="1.5" fill="#93bdec"/>
<circle cx="396.5" cy="885.0" r="5.6" fill="#fff"/>
<circle cx="396.5" cy="885.0" r="1.5" fill="#93bdec"/>
<circle cx="398.1" cy="893.0" r="5.6" fill="#fff"/>
<circle cx="398.1" cy="893.0" r="1.5" fill="#93bdec"/>
<circle cx="403.4" cy="921.0" r="5.6" fill="#fff"/>
<circle cx="403.4" cy="921.0" r="1.5" fill="#93bdec"/>
<circle cx="438.1" cy="909.0" r="5.6" fill="#fff"/>
<circle cx="438.1" cy="909.0" r="1.5" fill="#93bdec"/>
<circle cx="438.6" cy="922.0" r="5.6" fill="#fff"/>
<circle cx="438.6" cy="922.0" r="1.5" fill="#93bdec"/>
<circle cx="442.3" cy="948.0" r="5.6" fill="#fff"/>
<circle cx="442.3" cy="948.0" r="1.5" fill="#93bdec"/>
<circle cx="481.8" cy="954.0" r="5.6" fill="#fff"/>
<circle cx="481.8" cy="954.0" r="1.5" fill="#93bdec"/>
<circle cx="521.0" cy="977.0" r="5.6" fill="#fff"/>
<circle cx="521.0" cy="977.0" r="1.5" fill="#93bdec"/>
<circle cx="524.8" cy="980.0" r="5.6" fill="#fff"/>
<circle cx="524.8" cy="980.0" r="1.5" fill="#93bdec"/>
<circle cx="525.5" cy="956.0" r="5.6" fill="#fff"/>
<circle cx="525.5" cy="956.0" r="1.5" fill="#93bdec"/>
<circle cx="568.0" cy="948.0" r="5.6" fill="#fff"/>
<circle cx="568.0" cy="948.0" r="1.5" fill="#93bdec"/>
</g>
<g clip-path="url(#clipb)">
<polygon points="371.7,384.0 412.2,453.0 415.0,556.0 456.3,551.0 457.6,637.0 458.5,686.0 499.8,611.0 500.4,698.0 501.0,743.0 502.0,777.0 542.0,675.0 543.4,742.0 543.8,782.0 544.5,828.0 587.0,769.0 587.2,883.0 628.7,822.0 630.0,843.0 630.3,865.0 630.5,906.0 672.7,897.0 673.2,938.0 713.0,929.0 716.0,943.0 759.9,951.0 800.0,946.0 800.0,976.0 759.9,981.0 716.0,973.0 713.0,959.0 673.2,968.0 672.7,927.0 630.5,936.0 630.3,895.0 630.0,873.0 628.7,852.0 587.2,913.0 587.0,799.0 544.5,858.0 543.8,812.0 543.4,772.0 542.0,705.0 502.0,807.0 501.0,773.0 500.4,728.0 499.8,641.0 458.5,716.0 457.6,667.0 456.3,581.0 415.0,604.0 412.2,505.0 371.7,420.0" fill="#d0bbff" fill-opacity="0.2" stroke="#d0bbff" stroke-opacity="0.25" stroke-width="1.5" stroke-linejoin="round"/>
<polyline points="371.7,402.0 412.2,479.0 415.0,580.0 456.3,566.0 457.6,652.0 458.5,701.0 499.8,626.0 500.4,713.0 501.0,758.0 502.0,792.0 542.0,690.0 543.4,757.0 543.8,797.0 544.5,843.0 587.0,784.0 587.2,898.0 628.7,837.0 630.0,858.0 630.3,880.0 630.5,921.0 672.7,912.0 673.2,953.0 713.0,944.0 716.0,958.0 759.9,966.0 800.0,961.0" fill="none" stroke="#c4b0fa" stroke-width="3.8" stroke-linejoin="miter" stroke-miterlimit="3"/>
<circle cx="371.7" cy="402.0" r="5.6" fill="#fff"/>
<circle cx="412.2" cy="479.0" r="5.6" fill="#fff"/>
<circle cx="415.0" cy="580.0" r="5.6" fill="#fff"/>
<circle cx="456.3" cy="566.0" r="5.6" fill="#fff"/>
<circle cx="457.6" cy="652.0" r="5.6" fill="#fff"/>
<circle cx="458.5" cy="701.0" r="5.6" fill="#fff"/>
<circle cx="499.8" cy="626.0" r="5.6" fill="#fff"/>
<circle cx="500.4" cy="713.0" r="5.6" fill="#fff"/>
<circle cx="501.0" cy="758.0" r="5.6" fill="#fff"/>
<circle cx="502.0" cy="792.0" r="5.6" fill="#fff"/>
<circle cx="542.0" cy="690.0" r="5.6" fill="#fff"/>
<circle cx="543.4" cy="757.0" r="5.6" fill="#fff"/>
<circle cx="543.8" cy="797.0" r="5.6" fill="#fff"/>
<circle cx="544.5" cy="843.0" r="5.6" fill="#fff"/>
<circle cx="587.0" cy="784.0" r="5.6" fill="#fff"/>
<circle cx="587.2" cy="898.0" r="5.6" fill="#fff"/>
<circle cx="628.7" cy="837.0" r="5.6" fill="#fff"/>
<circle cx="630.0" cy="858.0" r="5.6" fill="#fff"/>
<circle cx="630.3" cy="880.0" r="5.6" fill="#fff"/>
<circle cx="630.5" cy="921.0" r="5.6" fill="#fff"/>
<circle cx="672.7" cy="912.0" r="5.6" fill="#fff"/>
<circle cx="673.2" cy="953.0" r="5.6" fill="#fff"/>
<circle cx="713.0" cy="944.0" r="5.6" fill="#fff"/>
<circle cx="716.0" cy="958.0" r="5.6" fill="#fff"/>
<circle cx="759.9" cy="966.0" r="5.6" fill="#fff"/>
<circle cx="800.0" cy="961.0" r="5.6" fill="#fff"/>
</g>
<g clip-path="url(#clipb)">
<polygon points="374.1,787.0 416.4,753.3 419.3,790.0 458.8,773.7 467.2,767.4 501.8,780.1 505.3,740.0 509.5,685.6 518.0,690.0 545.5,750.0 547.6,770.0 552.6,665.8 561.0,660.0 575.2,636.2 588.6,740.0 591.4,710.0 596.3,690.0 604.1,660.0 618.1,563.5 632.2,735.0 635.0,618.5 639.2,700.0 647.3,636.9 661.0,680.6 677.6,673.5 682.3,574.8 690.3,576.9 704.4,635.4 725.3,590.3 733.3,567.7 747.4,568.4 776.4,587.5 790.5,525.4 833.5,610.0 833.5,677.8 790.5,695.4 776.4,680.6 747.4,669.3 733.3,683.4 725.3,724.3 704.4,704.6 690.3,706.7 682.3,700.0 677.6,782.0 661.0,711.6 647.3,700.0 639.2,765.0 635.0,700.0 632.2,775.0 618.1,660.0 604.1,720.0 596.3,745.0 591.4,770.0 588.6,790.0 575.2,700.0 561.0,715.0 552.6,740.0 547.6,800.0 545.5,794.0 518.0,740.0 509.5,760.0 505.3,800.0 501.8,818.2 467.2,806.9 458.8,827.4 419.3,822.4 416.4,810.0 374.1,803.4" fill="#8c8c8c" fill-opacity="0.2" stroke="#8c8c8c" stroke-opacity="0.25" stroke-width="1.5" stroke-linejoin="round"/>
<polyline points="374.1,796.3 416.4,785.0 419.3,806.2 458.8,801.3 467.2,783.6 501.8,799.1 505.3,770.2 509.5,728.6 518.0,708.8 545.5,769.5 547.6,783.6 552.6,702.5 561.0,689.1 575.2,670.0 588.6,762.5 591.4,739.2 596.3,712.4 604.1,681.3 618.1,611.5 632.2,751.1 635.0,659.4 639.2,727.1 647.3,665.8 661.0,695.4 677.6,710.9 682.3,647.4 690.3,648.8 704.4,668.6 725.3,667.9 733.3,633.3 747.4,622.0 776.4,634.7 790.5,616.4 833.5,647.4" fill="none" stroke="#8a8a8a" stroke-width="3.8" stroke-linejoin="miter" stroke-miterlimit="3"/>
<path d="M374.1 788.9L381.5 796.3L374.1 803.7L366.7 796.3Z" fill="#fff"/>
<circle cx="374.1" cy="796.3" r="1.5" fill="#8a8a8a"/>
<path d="M416.4 777.6L423.8 785.0L416.4 792.4L409.0 785.0Z" fill="#fff"/>
<circle cx="416.4" cy="785.0" r="1.5" fill="#8a8a8a"/>
<path d="M419.3 798.8L426.7 806.2L419.3 813.6L411.9 806.2Z" fill="#fff"/>
<circle cx="419.3" cy="806.2" r="1.5" fill="#8a8a8a"/>
<path d="M458.8 793.9L466.2 801.3L458.8 808.7L451.4 801.3Z" fill="#fff"/>
<circle cx="458.8" cy="801.3" r="1.5" fill="#8a8a8a"/>
<path d="M467.2 776.2L474.6 783.6L467.2 791.0L459.8 783.6Z" fill="#fff"/>
<circle cx="467.2" cy="783.6" r="1.5" fill="#8a8a8a"/>
<path d="M501.8 791.7L509.2 799.1L501.8 806.5L494.4 799.1Z" fill="#fff"/>
<circle cx="501.8" cy="799.1" r="1.5" fill="#8a8a8a"/>
<path d="M505.3 762.8L512.7 770.2L505.3 777.6L497.9 770.2Z" fill="#fff"/>
<circle cx="505.3" cy="770.2" r="1.5" fill="#8a8a8a"/>
<path d="M509.5 721.2L516.9 728.6L509.5 736.0L502.1 728.6Z" fill="#fff"/>
<circle cx="509.5" cy="728.6" r="1.5" fill="#8a8a8a"/>
<path d="M518.0 701.4L525.4 708.8L518.0 716.2L510.6 708.8Z" fill="#fff"/>
<circle cx="518.0" cy="708.8" r="1.5" fill="#8a8a8a"/>
<path d="M545.5 762.1L552.9 769.5L545.5 776.9L538.1 769.5Z" fill="#fff"/>
<circle cx="545.5" cy="769.5" r="1.5" fill="#8a8a8a"/>
<path d="M547.6 776.2L555.0 783.6L547.6 791.0L540.2 783.6Z" fill="#fff"/>
<circle cx="547.6" cy="783.6" r="1.5" fill="#8a8a8a"/>
<path d="M552.6 695.1L560.0 702.5L552.6 709.9L545.2 702.5Z" fill="#fff"/>
<circle cx="552.6" cy="702.5" r="1.5" fill="#8a8a8a"/>
<path d="M561.0 681.7L568.4 689.1L561.0 696.5L553.6 689.1Z" fill="#fff"/>
<circle cx="561.0" cy="689.1" r="1.5" fill="#8a8a8a"/>
<path d="M575.2 662.6L582.6 670.0L575.2 677.4L567.8 670.0Z" fill="#fff"/>
<circle cx="575.2" cy="670.0" r="1.5" fill="#8a8a8a"/>
<path d="M588.6 755.1L596.0 762.5L588.6 769.9L581.2 762.5Z" fill="#fff"/>
<circle cx="588.6" cy="762.5" r="1.5" fill="#8a8a8a"/>
<path d="M591.4 731.8L598.8 739.2L591.4 746.6L584.0 739.2Z" fill="#fff"/>
<circle cx="591.4" cy="739.2" r="1.5" fill="#8a8a8a"/>
<path d="M596.3 705.0L603.7 712.4L596.3 719.8L588.9 712.4Z" fill="#fff"/>
<circle cx="596.3" cy="712.4" r="1.5" fill="#8a8a8a"/>
<path d="M604.1 673.9L611.5 681.3L604.1 688.7L596.7 681.3Z" fill="#fff"/>
<circle cx="604.1" cy="681.3" r="1.5" fill="#8a8a8a"/>
<path d="M618.1 604.1L625.5 611.5L618.1 618.9L610.7 611.5Z" fill="#fff"/>
<circle cx="618.1" cy="611.5" r="1.5" fill="#8a8a8a"/>
<path d="M632.2 743.7L639.6 751.1L632.2 758.5L624.8 751.1Z" fill="#fff"/>
<circle cx="632.2" cy="751.1" r="1.5" fill="#8a8a8a"/>
<path d="M635.0 652.0L642.4 659.4L635.0 666.8L627.6 659.4Z" fill="#fff"/>
<circle cx="635.0" cy="659.4" r="1.5" fill="#8a8a8a"/>
<path d="M639.2 719.7L646.6 727.1L639.2 734.5L631.8 727.1Z" fill="#fff"/>
<circle cx="639.2" cy="727.1" r="1.5" fill="#8a8a8a"/>
<path d="M647.3 658.4L654.7 665.8L647.3 673.2L639.9 665.8Z" fill="#fff"/>
<circle cx="647.3" cy="665.8" r="1.5" fill="#8a8a8a"/>
<path d="M661.0 688.0L668.4 695.4L661.0 702.8L653.6 695.4Z" fill="#fff"/>
<circle cx="661.0" cy="695.4" r="1.5" fill="#8a8a8a"/>
<path d="M677.6 703.5L685.0 710.9L677.6 718.3L670.2 710.9Z" fill="#fff"/>
<circle cx="677.6" cy="710.9" r="1.5" fill="#8a8a8a"/>
<path d="M682.3 640.0L689.7 647.4L682.3 654.8L674.9 647.4Z" fill="#fff"/>
<circle cx="682.3" cy="647.4" r="1.5" fill="#8a8a8a"/>
<path d="M690.3 641.4L697.7 648.8L690.3 656.2L682.9 648.8Z" fill="#fff"/>
<circle cx="690.3" cy="648.8" r="1.5" fill="#8a8a8a"/>
<path d="M704.4 661.2L711.8 668.6L704.4 676.0L697.0 668.6Z" fill="#fff"/>
<circle cx="704.4" cy="668.6" r="1.5" fill="#8a8a8a"/>
<path d="M725.3 660.5L732.7 667.9L725.3 675.3L717.9 667.9Z" fill="#fff"/>
<circle cx="725.3" cy="667.9" r="1.5" fill="#8a8a8a"/>
<path d="M733.3 625.9L740.7 633.3L733.3 640.7L725.9 633.3Z" fill="#fff"/>
<circle cx="733.3" cy="633.3" r="1.5" fill="#8a8a8a"/>
<path d="M747.4 614.6L754.8 622.0L747.4 629.4L740.0 622.0Z" fill="#fff"/>
<circle cx="747.4" cy="622.0" r="1.5" fill="#8a8a8a"/>
<path d="M776.4 627.3L783.8 634.7L776.4 642.1L769.0 634.7Z" fill="#fff"/>
<circle cx="776.4" cy="634.7" r="1.5" fill="#8a8a8a"/>
<path d="M790.5 609.0L797.9 616.4L790.5 623.8L783.1 616.4Z" fill="#fff"/>
<circle cx="790.5" cy="616.4" r="1.5" fill="#8a8a8a"/>
<path d="M833.5 640.0L840.9 647.4L833.5 654.8L826.1 647.4Z" fill="#fff"/>
<circle cx="833.5" cy="647.4" r="1.5" fill="#8a8a8a"/>
</g>
<g clip-path="url(#clipc)">
<polygon points="1186.6,879.0 1216.5,789.0 1229.2,750.0 1251.2,704.0 1259.0,688.0 1272.3,668.0 1290.5,648.0 1294.7,633.0 1302.6,616.0 1315.9,599.0 1330.4,594.0 1338.8,584.0 1346.1,567.0 1358.8,557.0 1373.3,548.0 1381.1,529.0 1389.0,506.0 1415.8,530.0 1424.6,494.0 1459.2,485.0 1459.8,472.0 1464.0,456.0 1497.0,466.0 1502.6,471.0 1503.8,443.0 1546.6,426.0 1588.8,413.0 1588.8,437.0 1546.6,450.0 1503.8,467.0 1502.6,495.0 1497.0,490.0 1464.0,480.0 1459.8,496.0 1459.2,509.0 1424.6,518.0 1415.8,554.0 1389.0,530.0 1381.1,553.0 1373.3,572.0 1358.8,581.0 1346.1,591.0 1338.8,608.0 1330.4,618.0 1315.9,623.0 1302.6,640.0 1294.7,657.0 1290.5,672.0 1272.3,692.0 1259.0,712.0 1251.2,728.0 1229.2,774.0 1216.5,809.0 1186.6,911.0" fill="#8de5a1" fill-opacity="0.2" stroke="#8de5a1" stroke-opacity="0.25" stroke-width="1.5" stroke-linejoin="round"/>
<polyline points="1186.6,895.0 1216.5,799.0 1229.2,762.0 1251.2,716.0 1259.0,700.0 1272.3,680.0 1290.5,660.0 1294.7,645.0 1302.6,628.0 1315.9,611.0 1330.4,606.0 1338.8,596.0 1346.1,579.0 1358.8,569.0 1373.3,560.0 1381.1,541.0 1389.0,518.0 1415.8,542.0 1424.6,506.0 1459.2,497.0 1459.8,484.0 1464.0,468.0 1497.0,478.0 1502.6,483.0 1503.8,455.0 1546.6,438.0 1588.8,425.0" fill="none" stroke="#7fd893" stroke-width="3.8" stroke-linejoin="miter" stroke-miterlimit="3"/>
<circle cx="1186.6" cy="895.0" r="5.6" fill="#fff"/>
<circle cx="1186.6" cy="895.0" r="1.5" fill="#7fd893"/>
<circle cx="1216.5" cy="799.0" r="5.6" fill="#fff"/>
<circle cx="1216.5" cy="799.0" r="1.5" fill="#7fd893"/>
<circle cx="1229.2" cy="762.0" r="5.6" fill="#fff"/>
<circle cx="1229.2" cy="762.0" r="1.5" fill="#7fd893"/>
<circle cx="1251.2" cy="716.0" r="5.6" fill="#fff"/>
<circle cx="1251.2" cy="716.0" r="1.5" fill="#7fd893"/>
<circle cx="1259.0" cy="700.0" r="5.6" fill="#fff"/>
<circle cx="1259.0" cy="700.0" r="1.5" fill="#7fd893"/>
<circle cx="1272.3" cy="680.0" r="5.6" fill="#fff"/>
<circle cx="1272.3" cy="680.0" r="1.5" fill="#7fd893"/>
<circle cx="1290.5" cy="660.0" r="5.6" fill="#fff"/>
<circle cx="1290.5" cy="660.0" r="1.5" fill="#7fd893"/>
<circle cx="1294.7" cy="645.0" r="5.6" fill="#fff"/>
<circle cx="1294.7" cy="645.0" r="1.5" fill="#7fd893"/>
<circle cx="1302.6" cy="628.0" r="5.6" fill="#fff"/>
<circle cx="1302.6" cy="628.0" r="1.5" fill="#7fd893"/>
<circle cx="1315.9" cy="611.0" r="5.6" fill="#fff"/>
<circle cx="1315.9" cy="611.0" r="1.5" fill="#7fd893"/>
<circle cx="1330.4" cy="606.0" r="5.6" fill="#fff"/>
<circle cx="1330.4" cy="606.0" r="1.5" fill="#7fd893"/>
<circle cx="1338.8" cy="596.0" r="5.6" fill="#fff"/>
<circle cx="1338.8" cy="596.0" r="1.5" fill="#7fd893"/>
<circle cx="1346.1" cy="579.0" r="5.6" fill="#fff"/>
<circle cx="1346.1" cy="579.0" r="1.5" fill="#7fd893"/>
<circle cx="1358.8" cy="569.0" r="5.6" fill="#fff"/>
<circle cx="1358.8" cy="569.0" r="1.5" fill="#7fd893"/>
<circle cx="1373.3" cy="560.0" r="5.6" fill="#fff"/>
<circle cx="1373.3" cy="560.0" r="1.5" fill="#7fd893"/>
<circle cx="1381.1" cy="541.0" r="5.6" fill="#fff"/>
<circle cx="1381.1" cy="541.0" r="1.5" fill="#7fd893"/>
<circle cx="1389.0" cy="518.0" r="5.6" fill="#fff"/>
<circle cx="1389.0" cy="518.0" r="1.5" fill="#7fd893"/>
<circle cx="1415.8" cy="542.0" r="5.6" fill="#fff"/>
<circle cx="1415.8" cy="542.0" r="1.5" fill="#7fd893"/>
<circle cx="1424.6" cy="506.0" r="5.6" fill="#fff"/>
<circle cx="1424.6" cy="506.0" r="1.5" fill="#7fd893"/>
<circle cx="1459.2" cy="497.0" r="5.6" fill="#fff"/>
<circle cx="1459.2" cy="497.0" r="1.5" fill="#7fd893"/>
<circle cx="1459.8" cy="484.0" r="5.6" fill="#fff"/>
<circle cx="1459.8" cy="484.0" r="1.5" fill="#7fd893"/>
<circle cx="1464.0" cy="468.0" r="5.6" fill="#fff"/>
<circle cx="1464.0" cy="468.0" r="1.5" fill="#7fd893"/>
<circle cx="1497.0" cy="478.0" r="5.6" fill="#fff"/>
<circle cx="1497.0" cy="478.0" r="1.5" fill="#7fd893"/>
<circle cx="1502.6" cy="483.0" r="5.6" fill="#fff"/>
<circle cx="1502.6" cy="483.0" r="1.5" fill="#7fd893"/>
<circle cx="1503.8" cy="455.0" r="5.6" fill="#fff"/>
<circle cx="1503.8" cy="455.0" r="1.5" fill="#7fd893"/>
<circle cx="1546.6" cy="438.0" r="5.6" fill="#fff"/>
<circle cx="1546.6" cy="438.0" r="1.5" fill="#7fd893"/>
<circle cx="1588.8" cy="425.0" r="5.6" fill="#fff"/>
<circle cx="1588.8" cy="425.0" r="1.5" fill="#7fd893"/>
</g>
<g clip-path="url(#clipc)">
<polygon points="1186.9,927.0 1215.1,818.0 1229.2,752.0 1250.4,735.0 1257.8,679.0 1272.3,640.0 1290.5,690.0 1294.7,630.0 1302.6,590.0 1315.9,574.0 1327.0,586.0 1333.0,573.0 1338.2,543.0 1346.1,525.0 1358.2,520.0 1369.0,530.0 1374.5,520.0 1376.9,510.0 1381.1,491.0 1389.0,482.0 1410.0,492.0 1416.2,480.0 1418.0,477.0 1419.9,451.0 1424.6,445.0 1454.5,438.0 1460.4,420.0 1462.7,399.0 1496.7,412.0 1502.6,389.0 1546.0,377.0 1587.0,375.0 1587.0,395.0 1546.0,397.0 1502.6,409.0 1496.7,432.0 1462.7,419.0 1460.4,440.0 1454.5,458.0 1424.6,465.0 1419.9,471.0 1418.0,497.0 1416.2,500.0 1410.0,512.0 1389.0,502.0 1381.1,511.0 1376.9,530.0 1374.5,540.0 1369.0,550.0 1358.2,540.0 1346.1,545.0 1338.2,563.0 1333.0,593.0 1327.0,606.0 1315.9,594.0 1302.6,610.0 1294.7,650.0 1290.5,710.0 1272.3,660.0 1257.8,699.0 1250.4,755.0 1229.2,772.0 1215.1,850.0 1186.9,987.0" fill="#ff9f9b" fill-opacity="0.2" stroke="#ff9f9b" stroke-opacity="0.25" stroke-width="1.5" stroke-linejoin="round"/>
<polyline points="1186.9,957.0 1215.1,834.0 1229.2,762.0 1250.4,745.0 1257.8,689.0 1272.3,650.0 1290.5,700.0 1294.7,640.0 1302.6,600.0 1315.9,584.0 1327.0,596.0 1333.0,583.0 1338.2,553.0 1346.1,535.0 1358.2,530.0 1369.0,540.0 1374.5,530.0 1376.9,520.0 1381.1,501.0 1389.0,492.0 1410.0,502.0 1416.2,490.0 1418.0,487.0 1419.9,461.0 1424.6,455.0 1454.5,448.0 1460.4,430.0 1462.7,409.0 1496.7,422.0 1502.6,399.0 1546.0,387.0 1587.0,385.0" fill="none" stroke="#f7918b" stroke-width="3.8" stroke-linejoin="miter" stroke-miterlimit="3"/>
<circle cx="1186.9" cy="957.0" r="5.6" fill="#fff"/>
<circle cx="1215.1" cy="834.0" r="5.6" fill="#fff"/>
<circle cx="1229.2" cy="762.0" r="5.6" fill="#fff"/>
<circle cx="1250.4" cy="745.0" r="5.6" fill="#fff"/>
<circle cx="1257.8" cy="689.0" r="5.6" fill="#fff"/>
<circle cx="1272.3" cy="650.0" r="5.6" fill="#fff"/>
<circle cx="1290.5" cy="700.0" r="5.6" fill="#fff"/>
<circle cx="1294.7" cy="640.0" r="5.6" fill="#fff"/>
<circle cx="1302.6" cy="600.0" r="5.6" fill="#fff"/>
<circle cx="1315.9" cy="584.0" r="5.6" fill="#fff"/>
<circle cx="1327.0" cy="596.0" r="5.6" fill="#fff"/>
<circle cx="1333.0" cy="583.0" r="5.6" fill="#fff"/>
<circle cx="1338.2" cy="553.0" r="5.6" fill="#fff"/>
<circle cx="1346.1" cy="535.0" r="5.6" fill="#fff"/>
<circle cx="1358.2" cy="530.0" r="5.6" fill="#fff"/>
<circle cx="1369.0" cy="540.0" r="5.6" fill="#fff"/>
<circle cx="1374.5" cy="530.0" r="5.6" fill="#fff"/>
<circle cx="1376.9" cy="520.0" r="5.6" fill="#fff"/>
<circle cx="1381.1" cy="501.0" r="5.6" fill="#fff"/>
<circle cx="1389.0" cy="492.0" r="5.6" fill="#fff"/>
<circle cx="1410.0" cy="502.0" r="5.6" fill="#fff"/>
<circle cx="1416.2" cy="490.0" r="5.6" fill="#fff"/>
<circle cx="1418.0" cy="487.0" r="5.6" fill="#fff"/>
<circle cx="1419.9" cy="461.0" r="5.6" fill="#fff"/>
<circle cx="1424.6" cy="455.0" r="5.6" fill="#fff"/>
<circle cx="1454.5" cy="448.0" r="5.6" fill="#fff"/>
<circle cx="1460.4" cy="430.0" r="5.6" fill="#fff"/>
<circle cx="1462.7" cy="409.0" r="5.6" fill="#fff"/>
<circle cx="1496.7" cy="422.0" r="5.6" fill="#fff"/>
<circle cx="1502.6" cy="399.0" r="5.6" fill="#fff"/>
<circle cx="1546.0" cy="387.0" r="5.6" fill="#fff"/>
<circle cx="1587.0" cy="385.0" r="5.6" fill="#fff"/>
</g>
<g clip-path="url(#clipc)">
<polygon points="1186.6,932.0 1216.5,876.0 1229.2,760.0 1251.5,785.0 1259.0,701.0 1272.3,643.0 1290.5,742.0 1294.7,656.0 1302.6,594.0 1315.9,573.0 1331.6,656.0 1334.0,611.0 1338.2,557.0 1346.1,535.0 1358.2,519.0 1373.3,582.0 1374.5,556.0 1376.9,523.0 1381.1,493.0 1389.0,477.0 1413.5,520.0 1416.2,500.0 1418.0,478.0 1424.6,454.0 1455.1,459.0 1460.4,458.0 1462.7,427.0 1500.2,415.0 1504.3,411.0 1546.0,376.0 1546.6,396.0 1588.2,385.0 1588.2,409.0 1546.6,420.0 1546.0,400.0 1504.3,435.0 1500.2,439.0 1462.7,451.0 1460.4,482.0 1455.1,483.0 1424.6,478.0 1418.0,502.0 1416.2,524.0 1413.5,544.0 1389.0,501.0 1381.1,517.0 1376.9,547.0 1374.5,580.0 1373.3,606.0 1358.2,543.0 1346.1,559.0 1338.2,581.0 1334.0,635.0 1331.6,680.0 1315.9,597.0 1302.6,618.0 1294.7,680.0 1290.5,770.0 1272.3,667.0 1259.0,725.0 1251.5,809.0 1229.2,784.0 1216.5,916.0 1186.6,992.0" fill="#a1c9f4" fill-opacity="0.2" stroke="#a1c9f4" stroke-opacity="0.25" stroke-width="1.5" stroke-linejoin="round"/>
<polyline points="1186.6,962.0 1216.5,896.0 1229.2,772.0 1251.5,797.0 1259.0,713.0 1272.3,655.0 1290.5,756.0 1294.7,668.0 1302.6,606.0 1315.9,585.0 1331.6,668.0 1334.0,623.0 1338.2,569.0 1346.1,547.0 1358.2,531.0 1373.3,594.0 1374.5,568.0 1376.9,535.0 1381.1,505.0 1389.0,489.0 1413.5,532.0 1416.2,512.0 1418.0,490.0 1424.6,466.0 1455.1,471.0 1460.4,470.0 1462.7,439.0 1500.2,427.0 1504.3,423.0 1546.0,388.0 1546.6,408.0 1588.2,397.0" fill="none" stroke="#93bdec" stroke-width="3.8" stroke-linejoin="miter" stroke-miterlimit="3"/>
<circle cx="1186.6" cy="962.0" r="5.6" fill="#fff"/>
<circle cx="1186.6" cy="962.0" r="1.5" fill="#93bdec"/>
<circle cx="1216.5" cy="896.0" r="5.6" fill="#fff"/>
<circle cx="1216.5" cy="896.0" r="1.5" fill="#93bdec"/>
<circle cx="1229.2" cy="772.0" r="5.6" fill="#fff"/>
<circle cx="1229.2" cy="772.0" r="1.5" fill="#93bdec"/>
<circle cx="1251.5" cy="797.0" r="5.6" fill="#fff"/>
<circle cx="1251.5" cy="797.0" r="1.5" fill="#93bdec"/>
<circle cx="1259.0" cy="713.0" r="5.6" fill="#fff"/>
<circle cx="1259.0" cy="713.0" r="1.5" fill="#93bdec"/>
<circle cx="1272.3" cy="655.0" r="5.6" fill="#fff"/>
<circle cx="1272.3" cy="655.0" r="1.5" fill="#93bdec"/>
<circle cx="1290.5" cy="756.0" r="5.6" fill="#fff"/>
<circle cx="1290.5" cy="756.0" r="1.5" fill="#93bdec"/>
<circle cx="1294.7" cy="668.0" r="5.6" fill="#fff"/>
<circle cx="1294.7" cy="668.0" r="1.5" fill="#93bdec"/>
<circle cx="1302.6" cy="606.0" r="5.6" fill="#fff"/>
<circle cx="1302.6" cy="606.0" r="1.5" fill="#93bdec"/>
<circle cx="1315.9" cy="585.0" r="5.6" fill="#fff"/>
<circle cx="1315.9" cy="585.0" r="1.5" fill="#93bdec"/>
<circle cx="1331.6" cy="668.0" r="5.6" fill="#fff"/>
<circle cx="1331.6" cy="668.0" r="1.5" fill="#93bdec"/>
<circle cx="1334.0" cy="623.0" r="5.6" fill="#fff"/>
<circle cx="1334.0" cy="623.0" r="1.5" fill="#93bdec"/>
<circle cx="1338.2" cy="569.0" r="5.6" fill="#fff"/>
<circle cx="1338.2" cy="569.0" r="1.5" fill="#93bdec"/>
<circle cx="1346.1" cy="547.0" r="5.6" fill="#fff"/>
<circle cx="1346.1" cy="547.0" r="1.5" fill="#93bdec"/>
<circle cx="1358.2" cy="531.0" r="5.6" fill="#fff"/>
<circle cx="1358.2" cy="531.0" r="1.5" fill="#93bdec"/>
<circle cx="1373.3" cy="594.0" r="5.6" fill="#fff"/>
<circle cx="1373.3" cy="594.0" r="1.5" fill="#93bdec"/>
<circle cx="1374.5" cy="568.0" r="5.6" fill="#fff"/>
<circle cx="1374.5" cy="568.0" r="1.5" fill="#93bdec"/>
<circle cx="1376.9" cy="535.0" r="5.6" fill="#fff"/>
<circle cx="1376.9" cy="535.0" r="1.5" fill="#93bdec"/>
<circle cx="1381.1" cy="505.0" r="5.6" fill="#fff"/>
<circle cx="1381.1" cy="505.0" r="1.5" fill="#93bdec"/>
<circle cx="1389.0" cy="489.0" r="5.6" fill="#fff"/>
<circle cx="1389.0" cy="489.0" r="1.5" fill="#93bdec"/>
<circle cx="1413.5" cy="532.0" r="5.6" fill="#fff"/>
<circle cx="1413.5" cy="532.0" r="1.5" fill="#93bdec"/>
<circle cx="1416.2" cy="512.0" r="5.6" fill="#fff"/>
<circle cx="1416.2" cy="512.0" r="1.5" fill="#93bdec"/>
<circle cx="1418.0" cy="490.0" r="5.6" fill="#fff"/>
<circle cx="1418.0" cy="490.0" r="1.5" fill="#93bdec"/>
<circle cx="1424.6" cy="466.0" r="5.6" fill="#fff"/>
<circle cx="1424.6" cy="466.0" r="1.5" fill="#93bdec"/>
<circle cx="1455.1" cy="471.0" r="5.6" fill="#fff"/>
<circle cx="1455.1" cy="471.0" r="1.5" fill="#93bdec"/>
<circle cx="1460.4" cy="470.0" r="5.6" fill="#fff"/>
<circle cx="1460.4" cy="470.0" r="1.5" fill="#93bdec"/>
<circle cx="1462.7" cy="439.0" r="5.6" fill="#fff"/>
<circle cx="1462.7" cy="439.0" r="1.5" fill="#93bdec"/>
<circle cx="1500.2" cy="427.0" r="5.6" fill="#fff"/>
<circle cx="1500.2" cy="427.0" r="1.5" fill="#93bdec"/>
<circle cx="1504.3" cy="423.0" r="5.6" fill="#fff"/>
<circle cx="1504.3" cy="423.0" r="1.5" fill="#93bdec"/>
<circle cx="1546.0" cy="388.0" r="5.6" fill="#fff"/>
<circle cx="1546.0" cy="388.0" r="1.5" fill="#93bdec"/>
<circle cx="1546.6" cy="408.0" r="5.6" fill="#fff"/>
<circle cx="1546.6" cy="408.0" r="1.5" fill="#93bdec"/>
<circle cx="1588.2" cy="397.0" r="5.6" fill="#fff"/>
<circle cx="1588.2" cy="397.0" r="1.5" fill="#93bdec"/>
</g>
<g clip-path="url(#clipc)">
<polygon points="1392.2,939.0 1434.3,864.0 1435.4,759.0 1476.5,789.0 1477.6,689.0 1478.7,648.0 1520.8,721.0 1520.8,641.0 1521.0,595.0 1523.0,553.0 1564.0,666.0 1564.3,592.0 1566.0,523.0 1606.0,568.0 1607.5,475.0 1650.0,514.0 1651.0,445.0 1694.0,462.0 1694.0,416.0 1736.0,422.0 1737.1,407.6 1781.0,389.0 1820.0,375.0 1820.0,403.0 1781.0,417.0 1737.1,435.6 1736.0,450.0 1694.0,444.0 1694.0,490.0 1651.0,473.0 1650.0,542.0 1607.5,503.0 1606.0,596.0 1566.0,551.0 1564.3,620.0 1564.0,694.0 1523.0,581.0 1521.0,623.0 1520.8,669.0 1520.8,749.0 1478.7,676.0 1477.6,717.0 1476.5,817.0 1435.4,787.0 1434.3,892.0 1392.2,979.0" fill="#d0bbff" fill-opacity="0.2" stroke="#d0bbff" stroke-opacity="0.25" stroke-width="1.5" stroke-linejoin="round"/>
<polyline points="1392.2,959.0 1434.3,878.0 1435.4,773.0 1476.5,803.0 1477.6,703.0 1478.7,662.0 1520.8,735.0 1520.8,655.0 1521.0,609.0 1523.0,567.0 1564.0,680.0 1564.3,606.0 1566.0,537.0 1606.0,582.0 1607.5,489.0 1650.0,528.0 1651.0,459.0 1694.0,476.0 1694.0,430.0 1736.0,436.0 1737.1,421.6 1781.0,403.0 1820.0,389.0" fill="none" stroke="#c4b0fa" stroke-width="3.8" stroke-linejoin="miter" stroke-miterlimit="3"/>
<circle cx="1392.2" cy="959.0" r="5.6" fill="#fff"/>
<circle cx="1434.3" cy="878.0" r="5.6" fill="#fff"/>
<circle cx="1435.4" cy="773.0" r="5.6" fill="#fff"/>
<circle cx="1476.5" cy="803.0" r="5.6" fill="#fff"/>
<circle cx="1477.6" cy="703.0" r="5.6" fill="#fff"/>
<circle cx="1478.7" cy="662.0" r="5.6" fill="#fff"/>
<circle cx="1520.8" cy="735.0" r="5.6" fill="#fff"/>
<circle cx="1520.8" cy="655.0" r="5.6" fill="#fff"/>
<circle cx="1521.0" cy="609.0" r="5.6" fill="#fff"/>
<circle cx="1523.0" cy="567.0" r="5.6" fill="#fff"/>
<circle cx="1564.0" cy="680.0" r="5.6" fill="#fff"/>
<circle cx="1564.3" cy="606.0" r="5.6" fill="#fff"/>
<circle cx="1566.0" cy="537.0" r="5.6" fill="#fff"/>
<circle cx="1606.0" cy="582.0" r="5.6" fill="#fff"/>
<circle cx="1607.5" cy="489.0" r="5.6" fill="#fff"/>
<circle cx="1650.0" cy="528.0" r="5.6" fill="#fff"/>
<circle cx="1651.0" cy="459.0" r="5.6" fill="#fff"/>
<circle cx="1694.0" cy="476.0" r="5.6" fill="#fff"/>
<circle cx="1694.0" cy="430.0" r="5.6" fill="#fff"/>
<circle cx="1736.0" cy="436.0" r="5.6" fill="#fff"/>
<circle cx="1737.1" cy="421.6" r="5.6" fill="#fff"/>
<circle cx="1781.0" cy="403.0" r="5.6" fill="#fff"/>
<circle cx="1820.0" cy="389.0" r="5.6" fill="#fff"/>
</g>
<g clip-path="url(#clipc)">
<polygon points="1394.7,543.0 1437.5,525.0 1440.4,505.0 1480.9,468.0 1488.5,465.0 1526.0,457.0 1538.9,452.0 1566.5,462.0 1568.3,436.0 1574.1,434.0 1582.3,440.0 1596.4,431.0 1610.0,440.0 1612.4,436.0 1617.2,455.0 1625.2,438.0 1638.8,450.0 1653.2,433.0 1655.6,460.0 1659.6,440.0 1668.4,440.0 1682.0,426.0 1698.7,428.0 1703.5,450.0 1711.5,457.0 1725.1,447.0 1745.9,465.0 1754.7,470.0 1768.3,478.0 1797.9,449.0 1811.5,463.0 1854.7,453.0 1854.7,508.0 1811.5,558.0 1797.9,518.0 1768.3,515.0 1754.7,504.0 1745.9,525.0 1725.1,500.0 1711.5,492.0 1703.5,503.0 1698.7,470.0 1682.0,470.0 1668.4,490.0 1659.6,480.0 1655.6,500.0 1653.2,470.0 1638.8,489.0 1625.2,480.0 1617.2,511.0 1612.4,470.0 1610.0,481.0 1596.4,466.0 1582.3,478.0 1574.1,475.0 1568.3,470.0 1566.5,496.0 1538.9,490.0 1526.0,501.0 1488.5,505.0 1480.9,512.0 1440.4,530.0 1437.5,562.0 1394.7,562.0" fill="#8c8c8c" fill-opacity="0.2" stroke="#8c8c8c" stroke-opacity="0.25" stroke-width="1.5" stroke-linejoin="round"/>
<polyline points="1394.7,552.9 1437.5,542.4 1440.4,516.0 1480.9,490.2 1488.5,482.6 1526.0,477.9 1538.9,467.3 1566.5,479.6 1568.3,449.1 1574.1,455.6 1582.3,459.1 1596.4,448.8 1610.0,463.2 1612.4,452.0 1617.2,475.2 1625.2,457.6 1638.8,469.6 1653.2,448.8 1655.6,480.0 1659.6,458.4 1668.4,456.8 1682.0,443.2 1698.7,450.4 1703.5,472.0 1711.5,474.4 1725.1,476.0 1745.9,489.5 1754.7,488.0 1768.3,497.5 1797.9,483.2 1811.5,500.7 1854.7,480.8" fill="none" stroke="#8a8a8a" stroke-width="3.8" stroke-linejoin="miter" stroke-miterlimit="3"/>
<path d="M1394.7 545.5L1402.1 552.9L1394.7 560.3L1387.3 552.9Z" fill="#fff"/>
<circle cx="1394.7" cy="552.9" r="1.5" fill="#8a8a8a"/>
<path d="M1437.5 535.0L1444.9 542.4L1437.5 549.8L1430.1 542.4Z" fill="#fff"/>
<circle cx="1437.5" cy="542.4" r="1.5" fill="#8a8a8a"/>
<path d="M1440.4 508.6L1447.8 516.0L1440.4 523.4L1433.0 516.0Z" fill="#fff"/>
<circle cx="1440.4" cy="516.0" r="1.5" fill="#8a8a8a"/>
<path d="M1480.9 482.8L1488.3 490.2L1480.9 497.6L1473.5 490.2Z" fill="#fff"/>
<circle cx="1480.9" cy="490.2" r="1.5" fill="#8a8a8a"/>
<path d="M1488.5 475.2L1495.9 482.6L1488.5 490.0L1481.1 482.6Z" fill="#fff"/>
<circle cx="1488.5" cy="482.6" r="1.5" fill="#8a8a8a"/>
<path d="M1526.0 470.5L1533.4 477.9L1526.0 485.3L1518.6 477.9Z" fill="#fff"/>
<circle cx="1526.0" cy="477.9" r="1.5" fill="#8a8a8a"/>
<path d="M1538.9 459.9L1546.3 467.3L1538.9 474.7L1531.5 467.3Z" fill="#fff"/>
<circle cx="1538.9" cy="467.3" r="1.5" fill="#8a8a8a"/>
<path d="M1566.5 472.2L1573.9 479.6L1566.5 487.0L1559.1 479.6Z" fill="#fff"/>
<circle cx="1566.5" cy="479.6" r="1.5" fill="#8a8a8a"/>
<path d="M1568.3 441.7L1575.7 449.1L1568.3 456.5L1560.9 449.1Z" fill="#fff"/>
<circle cx="1568.3" cy="449.1" r="1.5" fill="#8a8a8a"/>
<path d="M1574.1 448.2L1581.5 455.6L1574.1 463.0L1566.7 455.6Z" fill="#fff"/>
<circle cx="1574.1" cy="455.6" r="1.5" fill="#8a8a8a"/>
<path d="M1582.3 451.7L1589.7 459.1L1582.3 466.5L1574.9 459.1Z" fill="#fff"/>
<circle cx="1582.3" cy="459.1" r="1.5" fill="#8a8a8a"/>
<path d="M1596.4 441.4L1603.8 448.8L1596.4 456.2L1589.0 448.8Z" fill="#fff"/>
<circle cx="1596.4" cy="448.8" r="1.5" fill="#8a8a8a"/>
<path d="M1610.0 455.8L1617.4 463.2L1610.0 470.6L1602.6 463.2Z" fill="#fff"/>
<circle cx="1610.0" cy="463.2" r="1.5" fill="#8a8a8a"/>
<path d="M1612.4 444.6L1619.8 452.0L1612.4 459.4L1605.0 452.0Z" fill="#fff"/>
<circle cx="1612.4" cy="452.0" r="1.5" fill="#8a8a8a"/>
<path d="M1617.2 467.8L1624.6 475.2L1617.2 482.6L1609.8 475.2Z" fill="#fff"/>
<circle cx="1617.2" cy="475.2" r="1.5" fill="#8a8a8a"/>
<path d="M1625.2 450.2L1632.6 457.6L1625.2 465.0L1617.8 457.6Z" fill="#fff"/>
<circle cx="1625.2" cy="457.6" r="1.5" fill="#8a8a8a"/>
<path d="M1638.8 462.2L1646.2 469.6L1638.8 477.0L1631.4 469.6Z" fill="#fff"/>
<circle cx="1638.8" cy="469.6" r="1.5" fill="#8a8a8a"/>
<path d="M1653.2 441.4L1660.6 448.8L1653.2 456.2L1645.8 448.8Z" fill="#fff"/>
<circle cx="1653.2" cy="448.8" r="1.5" fill="#8a8a8a"/>
<path d="M1655.6 472.6L1663.0 480.0L1655.6 487.4L1648.2 480.0Z" fill="#fff"/>
<circle cx="1655.6" cy="480.0" r="1.5" fill="#8a8a8a"/>
<path d="M1659.6 451.0L1667.0 458.4L1659.6 465.8L1652.2 458.4Z" fill="#fff"/>
<circle cx="1659.6" cy="458.4" r="1.5" fill="#8a8a8a"/>
<path d="M1668.4 449.4L1675.8 456.8L1668.4 464.2L1661.0 456.8Z" fill="#fff"/>
<circle cx="1668.4" cy="456.8" r="1.5" fill="#8a8a8a"/>
<path d="M1682.0 435.8L1689.4 443.2L1682.0 450.6L1674.6 443.2Z" fill="#fff"/>
<circle cx="1682.0" cy="443.2" r="1.5" fill="#8a8a8a"/>
<path d="M1698.7 443.0L1706.1 450.4L1698.7 457.8L1691.3 450.4Z" fill="#fff"/>
<circle cx="1698.7" cy="450.4" r="1.5" fill="#8a8a8a"/>
<path d="M1703.5 464.6L1710.9 472.0L1703.5 479.4L1696.1 472.0Z" fill="#fff"/>
<circle cx="1703.5" cy="472.0" r="1.5" fill="#8a8a8a"/>
<path d="M1711.5 467.0L1718.9 474.4L1711.5 481.8L1704.1 474.4Z" fill="#fff"/>
<circle cx="1711.5" cy="474.4" r="1.5" fill="#8a8a8a"/>
<path d="M1725.1 468.6L1732.5 476.0L1725.1 483.4L1717.7 476.0Z" fill="#fff"/>
<circle cx="1725.1" cy="476.0" r="1.5" fill="#8a8a8a"/>
<path d="M1745.9 482.1L1753.3 489.5L1745.9 496.9L1738.5 489.5Z" fill="#fff"/>
<circle cx="1745.9" cy="489.5" r="1.5" fill="#8a8a8a"/>
<path d="M1754.7 480.6L1762.1 488.0L1754.7 495.4L1747.3 488.0Z" fill="#fff"/>
<circle cx="1754.7" cy="488.0" r="1.5" fill="#8a8a8a"/>
<path d="M1768.3 490.1L1775.7 497.5L1768.3 504.9L1760.9 497.5Z" fill="#fff"/>
<circle cx="1768.3" cy="497.5" r="1.5" fill="#8a8a8a"/>
<path d="M1797.9 475.8L1805.3 483.2L1797.9 490.6L1790.5 483.2Z" fill="#fff"/>
<circle cx="1797.9" cy="483.2" r="1.5" fill="#8a8a8a"/>
<path d="M1811.5 493.3L1818.9 500.7L1811.5 508.1L1804.1 500.7Z" fill="#fff"/>
<circle cx="1811.5" cy="500.7" r="1.5" fill="#8a8a8a"/>
<path d="M1854.7 473.4L1862.1 480.8L1854.7 488.2L1847.3 480.8Z" fill="#fff"/>
<circle cx="1854.7" cy="480.8" r="1.5" fill="#8a8a8a"/>
</g>
<defs><clipPath id="clipd"><rect x="133" y="1200" width="740" height="700"/></clipPath><clipPath id="clipe"><rect x="1154" y="1200" width="740" height="700"/></clipPath></defs>
<g clip-path="url(#clipd)">
<polygon points="165.8,1251.4 277.0,1347.9 388.2,1447.5 499.4,1520.1 610.6,1613.0 721.8,1586.7 833.0,1579.6 833.0,1631.6 721.8,1634.7 610.6,1669.0 499.4,1564.1 388.2,1487.5 277.0,1379.9 165.8,1279.4" fill="#8de5a1" fill-opacity="0.2" stroke="#8de5a1" stroke-opacity="0.2" stroke-width="1.5"/>
<polyline points="165.8,1265.4 277.0,1363.9 388.2,1467.5 499.4,1542.1 610.6,1641.0 721.8,1610.7 833.0,1605.6" fill="none" stroke="#8de5a1" stroke-width="3.4"/>
<circle cx="165.8" cy="1265.4" r="14.0" fill="#fff"/><circle cx="165.8" cy="1265.4" r="11.2" fill="#8de5a1"/>
<circle cx="277.0" cy="1363.9" r="14.0" fill="#fff"/><circle cx="277.0" cy="1363.9" r="11.2" fill="#8de5a1"/>
<circle cx="388.2" cy="1467.5" r="14.0" fill="#fff"/><circle cx="388.2" cy="1467.5" r="11.2" fill="#8de5a1"/>
<circle cx="499.4" cy="1542.1" r="14.0" fill="#fff"/><circle cx="499.4" cy="1542.1" r="11.2" fill="#8de5a1"/>
<circle cx="610.6" cy="1641.0" r="14.0" fill="#fff"/><circle cx="610.6" cy="1641.0" r="11.2" fill="#8de5a1"/>
<circle cx="721.8" cy="1610.7" r="14.0" fill="#fff"/><circle cx="721.8" cy="1610.7" r="11.2" fill="#8de5a1"/>
<circle cx="833.0" cy="1605.6" r="14.0" fill="#fff"/><circle cx="833.0" cy="1605.6" r="11.2" fill="#8de5a1"/>
<polygon points="165.8,1371.9 277.0,1486.3 388.2,1518.0 499.4,1614.0 610.6,1609.4 721.8,1606.5 833.0,1555.8 833.0,1611.8 721.8,1658.5 610.6,1673.4 499.4,1666.0 388.2,1562.0 277.0,1538.3 165.8,1423.9" fill="#8de5a1" fill-opacity="0.2" stroke="#8de5a1" stroke-opacity="0.2" stroke-width="1.5"/>
<polyline points="165.8,1397.9 277.0,1512.3 388.2,1540.0 499.4,1640.0 610.6,1641.4 721.8,1632.5 833.0,1583.8" fill="none" stroke="#8de5a1" stroke-width="3.4" stroke-dasharray="15.5 5.5"/>
<polygon points="165.8,1394.0 172.4,1387.4 176.3,1391.3 169.7,1397.9 176.3,1404.5 172.4,1408.4 165.8,1401.8 159.2,1408.4 155.3,1404.5 161.9,1397.9 155.3,1391.3 159.2,1387.4" fill="#8de5a1" stroke="#fff" stroke-width="4.0" stroke-linejoin="miter" paint-order="stroke"/>
<polygon points="277.0,1508.4 283.6,1501.8 287.5,1505.7 280.9,1512.3 287.5,1518.9 283.6,1522.8 277.0,1516.2 270.4,1522.8 266.5,1518.9 273.1,1512.3 266.5,1505.7 270.4,1501.8" fill="#8de5a1" stroke="#fff" stroke-width="4.0" stroke-linejoin="miter" paint-order="stroke"/>
<polygon points="388.2,1536.1 394.8,1529.5 398.7,1533.4 392.1,1540.0 398.7,1546.6 394.8,1550.5 388.2,1543.9 381.6,1550.5 377.7,1546.6 384.3,1540.0 377.7,1533.4 381.6,1529.5" fill="#8de5a1" stroke="#fff" stroke-width="4.0" stroke-linejoin="miter" paint-order="stroke"/>
<polygon points="499.4,1636.1 506.0,1629.5 509.9,1633.4 503.3,1640.0 509.9,1646.6 506.0,1650.5 499.4,1643.9 492.8,1650.5 488.9,1646.6 495.5,1640.0 488.9,1633.4 492.8,1629.5" fill="#8de5a1" stroke="#fff" stroke-width="4.0" stroke-linejoin="miter" paint-order="stroke"/>
<polygon points="610.6,1637.5 617.2,1630.9 621.1,1634.8 614.5,1641.4 621.1,1648.0 617.2,1651.9 610.6,1645.3 604.0,1651.9 600.1,1648.0 606.7,1641.4 600.1,1634.8 604.0,1630.9" fill="#8de5a1" stroke="#fff" stroke-width="4.0" stroke-linejoin="miter" paint-order="stroke"/>
<polygon points="721.8,1628.6 728.4,1622.0 732.3,1625.9 725.7,1632.5 732.3,1639.1 728.4,1643.0 721.8,1636.4 715.2,1643.0 711.3,1639.1 717.9,1632.5 711.3,1625.9 715.2,1622.0" fill="#8de5a1" stroke="#fff" stroke-width="4.0" stroke-linejoin="miter" paint-order="stroke"/>
<polygon points="833.0,1579.9 839.6,1573.3 843.5,1577.2 836.9,1583.8 843.5,1590.4 839.6,1594.3 833.0,1587.7 826.4,1594.3 822.5,1590.4 829.1,1583.8 822.5,1577.2 826.4,1573.3" fill="#8de5a1" stroke="#fff" stroke-width="4.0" stroke-linejoin="miter" paint-order="stroke"/>
<polygon points="165.8,1309.0 277.0,1450.5 388.2,1566.0 499.4,1684.2 610.6,1719.8 721.8,1789.6 833.0,1793.6 833.0,1829.6 721.8,1833.6 610.6,1767.8 499.4,1728.2 388.2,1610.0 277.0,1502.5 165.8,1361.0" fill="#ff9f9b" fill-opacity="0.2" stroke="#ff9f9b" stroke-opacity="0.2" stroke-width="1.5"/>
<polyline points="165.8,1335.0 277.0,1476.5 388.2,1588.0 499.4,1706.2 610.6,1743.8 721.8,1811.6 833.0,1811.6" fill="none" stroke="#ff9f9b" stroke-width="3.4"/>
<circle cx="165.8" cy="1335.0" r="14.0" fill="#fff"/><circle cx="165.8" cy="1335.0" r="11.2" fill="#ff9f9b"/>
<circle cx="277.0" cy="1476.5" r="14.0" fill="#fff"/><circle cx="277.0" cy="1476.5" r="11.2" fill="#ff9f9b"/>
<circle cx="388.2" cy="1588.0" r="14.0" fill="#fff"/><circle cx="388.2" cy="1588.0" r="11.2" fill="#ff9f9b"/>
<circle cx="499.4" cy="1706.2" r="14.0" fill="#fff"/><circle cx="499.4" cy="1706.2" r="11.2" fill="#ff9f9b"/>
<circle cx="610.6" cy="1743.8" r="14.0" fill="#fff"/><circle cx="610.6" cy="1743.8" r="11.2" fill="#ff9f9b"/>
<circle cx="721.8" cy="1811.6" r="14.0" fill="#fff"/><circle cx="721.8" cy="1811.6" r="11.2" fill="#ff9f9b"/>
<circle cx="833.0" cy="1811.6" r="14.0" fill="#fff"/><circle cx="833.0" cy="1811.6" r="11.2" fill="#ff9f9b"/>
<polygon points="165.8,1487.4 277.0,1580.4 388.2,1725.0 499.4,1782.1 610.6,1800.4 721.8,1805.6 833.0,1748.2 833.0,1780.2 721.8,1845.6 610.6,1848.4 499.4,1822.1 388.2,1761.0 277.0,1616.4 165.8,1519.4" fill="#ff9f9b" fill-opacity="0.2" stroke="#ff9f9b" stroke-opacity="0.2" stroke-width="1.5"/>
<polyline points="165.8,1503.4 277.0,1598.4 388.2,1743.0 499.4,1802.1 610.6,1824.4 721.8,1825.6 833.0,1764.2" fill="none" stroke="#ff9f9b" stroke-width="3.4" stroke-dasharray="15.5 5.5"/>
<polygon points="165.8,1499.5 172.4,1492.9 176.3,1496.8 169.7,1503.4 176.3,1510.0 172.4,1513.9 165.8,1507.3 159.2,1513.9 155.3,1510.0 161.9,1503.4 155.3,1496.8 159.2,1492.9" fill="#ff9f9b" stroke="#fff" stroke-width="4.0" stroke-linejoin="miter" paint-order="stroke"/>
<polygon points="277.0,1594.5 283.6,1587.9 287.5,1591.8 280.9,1598.4 287.5,1605.0 283.6,1608.9 277.0,1602.3 270.4,1608.9 266.5,1605.0 273.1,1598.4 266.5,1591.8 270.4,1587.9" fill="#ff9f9b" stroke="#fff" stroke-width="4.0" stroke-linejoin="miter" paint-order="stroke"/>
<polygon points="388.2,1739.1 394.8,1732.5 398.7,1736.4 392.1,1743.0 398.7,1749.6 394.8,1753.5 388.2,1746.9 381.6,1753.5 377.7,1749.6 384.3,1743.0 377.7,1736.4 381.6,1732.5" fill="#ff9f9b" stroke="#fff" stroke-width="4.0" stroke-linejoin="miter" paint-order="stroke"/>
<polygon points="499.4,1798.2 506.0,1791.6 509.9,1795.5 503.3,1802.1 509.9,1808.7 506.0,1812.6 499.4,1806.0 492.8,1812.6 488.9,1808.7 495.5,1802.1 488.9,1795.5 492.8,1791.6" fill="#ff9f9b" stroke="#fff" stroke-width="4.0" stroke-linejoin="miter" paint-order="stroke"/>
<polygon points="610.6,1820.5 617.2,1813.9 621.1,1817.8 614.5,1824.4 621.1,1831.0 617.2,1834.9 610.6,1828.3 604.0,1834.9 600.1,1831.0 606.7,1824.4 600.1,1817.8 604.0,1813.9" fill="#ff9f9b" stroke="#fff" stroke-width="4.0" stroke-linejoin="miter" paint-order="stroke"/>
<polygon points="721.8,1821.7 728.4,1815.1 732.3,1819.0 725.7,1825.6 732.3,1832.2 728.4,1836.1 721.8,1829.5 715.2,1836.1 711.3,1832.2 717.9,1825.6 711.3,1819.0 715.2,1815.1" fill="#ff9f9b" stroke="#fff" stroke-width="4.0" stroke-linejoin="miter" paint-order="stroke"/>
<polygon points="833.0,1760.3 839.6,1753.7 843.5,1757.6 836.9,1764.2 843.5,1770.8 839.6,1774.7 833.0,1768.1 826.4,1774.7 822.5,1770.8 829.1,1764.2 822.5,1757.6 826.4,1753.7" fill="#ff9f9b" stroke="#fff" stroke-width="4.0" stroke-linejoin="miter" paint-order="stroke"/>
<polygon points="165.8,1287.8 277.0,1424.0 388.2,1515.2 499.4,1570.3 610.6,1687.2 721.8,1729.0 833.0,1764.6 833.0,1904.6 721.8,1781.0 610.6,1731.2 499.4,1618.3 388.2,1563.2 277.0,1476.0 165.8,1347.8" fill="#a1c9f4" fill-opacity="0.2" stroke="#a1c9f4" stroke-opacity="0.2" stroke-width="1.5"/>
<polyline points="165.8,1317.8 277.0,1450.0 388.2,1539.2 499.4,1594.3 610.6,1709.2 721.8,1755.0 833.0,1834.6" fill="none" stroke="#a1c9f4" stroke-width="3.4"/>
<circle cx="165.8" cy="1317.8" r="14.0" fill="#fff"/><circle cx="165.8" cy="1317.8" r="11.2" fill="#a1c9f4"/>
<circle cx="277.0" cy="1450.0" r="14.0" fill="#fff"/><circle cx="277.0" cy="1450.0" r="11.2" fill="#a1c9f4"/>
<circle cx="388.2" cy="1539.2" r="14.0" fill="#fff"/><circle cx="388.2" cy="1539.2" r="11.2" fill="#a1c9f4"/>
<circle cx="499.4" cy="1594.3" r="14.0" fill="#fff"/><circle cx="499.4" cy="1594.3" r="11.2" fill="#a1c9f4"/>
<circle cx="610.6" cy="1709.2" r="14.0" fill="#fff"/><circle cx="610.6" cy="1709.2" r="11.2" fill="#a1c9f4"/>
<circle cx="721.8" cy="1755.0" r="14.0" fill="#fff"/><circle cx="721.8" cy="1755.0" r="11.2" fill="#a1c9f4"/>
<circle cx="833.0" cy="1834.6" r="14.0" fill="#fff"/><circle cx="833.0" cy="1834.6" r="11.2" fill="#a1c9f4"/>
<polygon points="165.8,1474.6 277.0,1587.0 388.2,1650.0 499.4,1725.8 610.6,1735.8 721.8,1739.0 833.0,1707.6 833.0,1787.6 721.8,1791.0 610.6,1779.8 499.4,1765.8 388.2,1690.0 277.0,1623.0 165.8,1506.6" fill="#a1c9f4" fill-opacity="0.2" stroke="#a1c9f4" stroke-opacity="0.2" stroke-width="1.5"/>
<polyline points="165.8,1490.6 277.0,1605.0 388.2,1670.0 499.4,1745.8 610.6,1757.8 721.8,1765.0 833.0,1747.6" fill="none" stroke="#a1c9f4" stroke-width="3.4" stroke-dasharray="15.5 5.5"/>
<polygon points="165.8,1486.7 172.4,1480.1 176.3,1484.0 169.7,1490.6 176.3,1497.2 172.4,1501.1 165.8,1494.5 159.2,1501.1 155.3,1497.2 161.9,1490.6 155.3,1484.0 159.2,1480.1" fill="#a1c9f4" stroke="#fff" stroke-width="4.0" stroke-linejoin="miter" paint-order="stroke"/>
<polygon points="277.0,1601.1 283.6,1594.5 287.5,1598.4 280.9,1605.0 287.5,1611.6 283.6,1615.5 277.0,1608.9 270.4,1615.5 266.5,1611.6 273.1,1605.0 266.5,1598.4 270.4,1594.5" fill="#a1c9f4" stroke="#fff" stroke-width="4.0" stroke-linejoin="miter" paint-order="stroke"/>
<polygon points="388.2,1666.1 394.8,1659.5 398.7,1663.4 392.1,1670.0 398.7,1676.6 394.8,1680.5 388.2,1673.9 381.6,1680.5 377.7,1676.6 384.3,1670.0 377.7,1663.4 381.6,1659.5" fill="#a1c9f4" stroke="#fff" stroke-width="4.0" stroke-linejoin="miter" paint-order="stroke"/>
<polygon points="499.4,1741.9 506.0,1735.3 509.9,1739.2 503.3,1745.8 509.9,1752.4 506.0,1756.3 499.4,1749.7 492.8,1756.3 488.9,1752.4 495.5,1745.8 488.9,1739.2 492.8,1735.3" fill="#a1c9f4" stroke="#fff" stroke-width="4.0" stroke-linejoin="miter" paint-order="stroke"/>
<polygon points="610.6,1753.9 617.2,1747.3 621.1,1751.2 614.5,1757.8 621.1,1764.4 617.2,1768.3 610.6,1761.7 604.0,1768.3 600.1,1764.4 606.7,1757.8 600.1,1751.2 604.0,1747.3" fill="#a1c9f4" stroke="#fff" stroke-width="4.0" stroke-linejoin="miter" paint-order="stroke"/>
<polygon points="721.8,1761.1 728.4,1754.5 732.3,1758.4 725.7,1765.0 732.3,1771.6 728.4,1775.5 721.8,1768.9 715.2,1775.5 711.3,1771.6 717.9,1765.0 711.3,1758.4 715.2,1754.5" fill="#a1c9f4" stroke="#fff" stroke-width="4.0" stroke-linejoin="miter" paint-order="stroke"/>
<polygon points="833.0,1743.7 839.6,1737.1 843.5,1741.0 836.9,1747.6 843.5,1754.2 839.6,1758.1 833.0,1751.5 826.4,1758.1 822.5,1754.2 829.1,1747.6 822.5,1741.0 826.4,1737.1" fill="#a1c9f4" stroke="#fff" stroke-width="4.0" stroke-linejoin="miter" paint-order="stroke"/>
<polygon points="165.8,1316.3 277.0,1423.8 388.2,1533.3 499.4,1620.9 610.6,1704.6 721.8,1741.7 833.0,1784.0 833.0,1816.0 721.8,1781.7 610.6,1744.6 499.4,1660.9 388.2,1573.3 277.0,1467.8 165.8,1360.3" fill="#d0bbff" fill-opacity="0.2" stroke="#d0bbff" stroke-opacity="0.2" stroke-width="1.5"/>
<polyline points="165.8,1338.3 277.0,1445.8 388.2,1553.3 499.4,1640.9 610.6,1724.6 721.8,1761.7 833.0,1800.0" fill="none" stroke="#d0bbff" stroke-width="3.4"/>
<circle cx="165.8" cy="1338.3" r="14.0" fill="#fff"/><circle cx="165.8" cy="1338.3" r="11.2" fill="#d0bbff"/>
<circle cx="277.0" cy="1445.8" r="14.0" fill="#fff"/><circle cx="277.0" cy="1445.8" r="11.2" fill="#d0bbff"/>
<circle cx="388.2" cy="1553.3" r="14.0" fill="#fff"/><circle cx="388.2" cy="1553.3" r="11.2" fill="#d0bbff"/>
<circle cx="499.4" cy="1640.9" r="14.0" fill="#fff"/><circle cx="499.4" cy="1640.9" r="11.2" fill="#d0bbff"/>
<circle cx="610.6" cy="1724.6" r="14.0" fill="#fff"/><circle cx="610.6" cy="1724.6" r="11.2" fill="#d0bbff"/>
<circle cx="721.8" cy="1761.7" r="14.0" fill="#fff"/><circle cx="721.8" cy="1761.7" r="11.2" fill="#d0bbff"/>
<circle cx="833.0" cy="1800.0" r="14.0" fill="#fff"/><circle cx="833.0" cy="1800.0" r="11.2" fill="#d0bbff"/>
<polygon points="165.8,1454.5 277.0,1592.3 388.2,1671.8 499.4,1750.6 610.6,1757.0 721.8,1775.0 833.0,1767.4 833.0,1799.4 721.8,1815.0 610.6,1797.0 499.4,1790.6 388.2,1711.8 277.0,1640.3 165.8,1498.5" fill="#d0bbff" fill-opacity="0.2" stroke="#d0bbff" stroke-opacity="0.2" stroke-width="1.5"/>
<polyline points="165.8,1476.5 277.0,1616.3 388.2,1691.8 499.4,1770.6 610.6,1777.0 721.8,1795.0 833.0,1783.4" fill="none" stroke="#d0bbff" stroke-width="3.4" stroke-dasharray="15.5 5.5"/>
<polygon points="165.8,1472.6 172.4,1466.0 176.3,1469.9 169.7,1476.5 176.3,1483.1 172.4,1487.0 165.8,1480.4 159.2,1487.0 155.3,1483.1 161.9,1476.5 155.3,1469.9 159.2,1466.0" fill="#d0bbff" stroke="#fff" stroke-width="4.0" stroke-linejoin="miter" paint-order="stroke"/>
<polygon points="277.0,1612.4 283.6,1605.8 287.5,1609.7 280.9,1616.3 287.5,1622.9 283.6,1626.8 277.0,1620.2 270.4,1626.8 266.5,1622.9 273.1,1616.3 266.5,1609.7 270.4,1605.8" fill="#d0bbff" stroke="#fff" stroke-width="4.0" stroke-linejoin="miter" paint-order="stroke"/>
<polygon points="388.2,1687.9 394.8,1681.3 398.7,1685.2 392.1,1691.8 398.7,1698.4 394.8,1702.3 388.2,1695.7 381.6,1702.3 377.7,1698.4 384.3,1691.8 377.7,1685.2 381.6,1681.3" fill="#d0bbff" stroke="#fff" stroke-width="4.0" stroke-linejoin="miter" paint-order="stroke"/>
<polygon points="499.4,1766.7 506.0,1760.1 509.9,1764.0 503.3,1770.6 509.9,1777.2 506.0,1781.1 499.4,1774.5 492.8,1781.1 488.9,1777.2 495.5,1770.6 488.9,1764.0 492.8,1760.1" fill="#d0bbff" stroke="#fff" stroke-width="4.0" stroke-linejoin="miter" paint-order="stroke"/>
<polygon points="610.6,1773.1 617.2,1766.5 621.1,1770.4 614.5,1777.0 621.1,1783.6 617.2,1787.5 610.6,1780.9 604.0,1787.5 600.1,1783.6 606.7,1777.0 600.1,1770.4 604.0,1766.5" fill="#d0bbff" stroke="#fff" stroke-width="4.0" stroke-linejoin="miter" paint-order="stroke"/>
<polygon points="721.8,1791.1 728.4,1784.5 732.3,1788.4 725.7,1795.0 732.3,1801.6 728.4,1805.5 721.8,1798.9 715.2,1805.5 711.3,1801.6 717.9,1795.0 711.3,1788.4 715.2,1784.5" fill="#d0bbff" stroke="#fff" stroke-width="4.0" stroke-linejoin="miter" paint-order="stroke"/>
<polygon points="833.0,1779.5 839.6,1772.9 843.5,1776.8 836.9,1783.4 843.5,1790.0 839.6,1793.9 833.0,1787.3 826.4,1793.9 822.5,1790.0 829.1,1783.4 822.5,1776.8 826.4,1772.9" fill="#d0bbff" stroke="#fff" stroke-width="4.0" stroke-linejoin="miter" paint-order="stroke"/>
</g>
<g clip-path="url(#clipe)">
<polygon points="1186.9,1798.3 1298.2,1722.3 1409.5,1629.1 1520.8,1537.7 1632.1,1469.4 1743.4,1422.8 1854.7,1379.2 1854.7,1471.2 1743.4,1506.8 1632.1,1529.4 1520.8,1601.7 1409.5,1693.1 1298.2,1786.3 1186.9,1866.3" fill="#8de5a1" fill-opacity="0.2" stroke="#8de5a1" stroke-opacity="0.2" stroke-width="1.5"/>
<polyline points="1186.9,1832.3 1298.2,1754.3 1409.5,1661.1 1520.8,1569.7 1632.1,1499.4 1743.4,1464.8 1854.7,1425.2" fill="none" stroke="#8de5a1" stroke-width="3.4"/>
<circle cx="1186.9" cy="1832.3" r="14.0" fill="#fff"/><circle cx="1186.9" cy="1832.3" r="11.2" fill="#8de5a1"/>
<circle cx="1298.2" cy="1754.3" r="14.0" fill="#fff"/><circle cx="1298.2" cy="1754.3" r="11.2" fill="#8de5a1"/>
<circle cx="1409.5" cy="1661.1" r="14.0" fill="#fff"/><circle cx="1409.5" cy="1661.1" r="11.2" fill="#8de5a1"/>
<circle cx="1520.8" cy="1569.7" r="14.0" fill="#fff"/><circle cx="1520.8" cy="1569.7" r="11.2" fill="#8de5a1"/>
<circle cx="1632.1" cy="1499.4" r="14.0" fill="#fff"/><circle cx="1632.1" cy="1499.4" r="11.2" fill="#8de5a1"/>
<circle cx="1743.4" cy="1464.8" r="14.0" fill="#fff"/><circle cx="1743.4" cy="1464.8" r="11.2" fill="#8de5a1"/>
<circle cx="1854.7" cy="1425.2" r="14.0" fill="#fff"/><circle cx="1854.7" cy="1425.2" r="11.2" fill="#8de5a1"/>
<polygon points="1186.9,1693.0 1298.2,1576.0 1409.5,1552.0 1520.8,1456.8 1632.1,1433.9 1743.4,1392.4 1854.7,1357.8 1854.7,1397.8 1743.4,1432.4 1632.1,1477.9 1520.8,1508.8 1409.5,1604.0 1298.2,1636.0 1186.9,1773.0" fill="#8de5a1" fill-opacity="0.2" stroke="#8de5a1" stroke-opacity="0.2" stroke-width="1.5"/>
<polyline points="1186.9,1733.0 1298.2,1606.0 1409.5,1578.0 1520.8,1482.8 1632.1,1455.9 1743.4,1412.4 1854.7,1377.8" fill="none" stroke="#8de5a1" stroke-width="3.4" stroke-dasharray="15.5 5.5"/>
<polygon points="1186.9,1729.1 1193.5,1722.5 1197.4,1726.4 1190.8,1733.0 1197.4,1739.6 1193.5,1743.5 1186.9,1736.9 1180.3,1743.5 1176.4,1739.6 1183.0,1733.0 1176.4,1726.4 1180.3,1722.5" fill="#8de5a1" stroke="#fff" stroke-width="4.0" stroke-linejoin="miter" paint-order="stroke"/>
<polygon points="1298.2,1602.1 1304.8,1595.5 1308.7,1599.4 1302.1,1606.0 1308.7,1612.6 1304.8,1616.5 1298.2,1609.9 1291.6,1616.5 1287.7,1612.6 1294.3,1606.0 1287.7,1599.4 1291.6,1595.5" fill="#8de5a1" stroke="#fff" stroke-width="4.0" stroke-linejoin="miter" paint-order="stroke"/>
<polygon points="1409.5,1574.1 1416.1,1567.5 1420.0,1571.4 1413.4,1578.0 1420.0,1584.6 1416.1,1588.5 1409.5,1581.9 1402.9,1588.5 1399.0,1584.6 1405.6,1578.0 1399.0,1571.4 1402.9,1567.5" fill="#8de5a1" stroke="#fff" stroke-width="4.0" stroke-linejoin="miter" paint-order="stroke"/>
<polygon points="1520.8,1478.9 1527.4,1472.3 1531.3,1476.2 1524.7,1482.8 1531.3,1489.4 1527.4,1493.3 1520.8,1486.7 1514.2,1493.3 1510.3,1489.4 1516.9,1482.8 1510.3,1476.2 1514.2,1472.3" fill="#8de5a1" stroke="#fff" stroke-width="4.0" stroke-linejoin="miter" paint-order="stroke"/>
<polygon points="1632.1,1452.0 1638.7,1445.4 1642.6,1449.3 1636.0,1455.9 1642.6,1462.5 1638.7,1466.4 1632.1,1459.8 1625.5,1466.4 1621.6,1462.5 1628.2,1455.9 1621.6,1449.3 1625.5,1445.4" fill="#8de5a1" stroke="#fff" stroke-width="4.0" stroke-linejoin="miter" paint-order="stroke"/>
<polygon points="1743.4,1408.5 1750.0,1401.9 1753.9,1405.8 1747.3,1412.4 1753.9,1419.0 1750.0,1422.9 1743.4,1416.3 1736.8,1422.9 1732.9,1419.0 1739.5,1412.4 1732.9,1405.8 1736.8,1401.9" fill="#8de5a1" stroke="#fff" stroke-width="4.0" stroke-linejoin="miter" paint-order="stroke"/>
<polygon points="1854.7,1373.9 1861.3,1367.3 1865.2,1371.2 1858.6,1377.8 1865.2,1384.4 1861.3,1388.3 1854.7,1381.7 1848.1,1388.3 1844.2,1384.4 1850.8,1377.8 1844.2,1371.2 1848.1,1367.3" fill="#8de5a1" stroke="#fff" stroke-width="4.0" stroke-linejoin="miter" paint-order="stroke"/>
<polygon points="1186.9,1730.0 1298.2,1603.3 1409.5,1522.7 1520.8,1424.9 1632.1,1380.1 1743.4,1323.0 1854.7,1280.0 1854.7,1324.0 1743.4,1367.0 1632.1,1424.1 1520.8,1468.9 1409.5,1570.7 1298.2,1663.3 1186.9,1810.0" fill="#ff9f9b" fill-opacity="0.2" stroke="#ff9f9b" stroke-opacity="0.2" stroke-width="1.5"/>
<polyline points="1186.9,1770.0 1298.2,1633.3 1409.5,1546.7 1520.8,1446.9 1632.1,1402.1 1743.4,1345.0 1854.7,1302.0" fill="none" stroke="#ff9f9b" stroke-width="3.4"/>
<circle cx="1186.9" cy="1770.0" r="14.0" fill="#fff"/><circle cx="1186.9" cy="1770.0" r="11.2" fill="#ff9f9b"/>
<circle cx="1298.2" cy="1633.3" r="14.0" fill="#fff"/><circle cx="1298.2" cy="1633.3" r="11.2" fill="#ff9f9b"/>
<circle cx="1409.5" cy="1546.7" r="14.0" fill="#fff"/><circle cx="1409.5" cy="1546.7" r="11.2" fill="#ff9f9b"/>
<circle cx="1520.8" cy="1446.9" r="14.0" fill="#fff"/><circle cx="1520.8" cy="1446.9" r="11.2" fill="#ff9f9b"/>
<circle cx="1632.1" cy="1402.1" r="14.0" fill="#fff"/><circle cx="1632.1" cy="1402.1" r="11.2" fill="#ff9f9b"/>
<circle cx="1743.4" cy="1345.0" r="14.0" fill="#fff"/><circle cx="1743.4" cy="1345.0" r="11.2" fill="#ff9f9b"/>
<circle cx="1854.7" cy="1302.0" r="14.0" fill="#fff"/><circle cx="1854.7" cy="1302.0" r="11.2" fill="#ff9f9b"/>
<polygon points="1186.9,1600.0 1298.2,1527.4 1409.5,1402.7 1520.8,1322.6 1632.1,1301.5 1743.4,1272.8 1854.7,1263.0 1854.7,1307.0 1743.4,1308.8 1632.1,1341.5 1520.8,1366.6 1409.5,1442.7 1298.2,1571.4 1186.9,1644.0" fill="#ff9f9b" fill-opacity="0.2" stroke="#ff9f9b" stroke-opacity="0.2" stroke-width="1.5"/>
<polyline points="1186.9,1622.0 1298.2,1549.4 1409.5,1422.7 1520.8,1344.6 1632.1,1321.5 1743.4,1290.8 1854.7,1285.0" fill="none" stroke="#ff9f9b" stroke-width="3.4" stroke-dasharray="15.5 5.5"/>
<polygon points="1186.9,1618.1 1193.5,1611.5 1197.4,1615.4 1190.8,1622.0 1197.4,1628.6 1193.5,1632.5 1186.9,1625.9 1180.3,1632.5 1176.4,1628.6 1183.0,1622.0 1176.4,1615.4 1180.3,1611.5" fill="#ff9f9b" stroke="#fff" stroke-width="4.0" stroke-linejoin="miter" paint-order="stroke"/>
<polygon points="1298.2,1545.5 1304.8,1538.9 1308.7,1542.8 1302.1,1549.4 1308.7,1556.0 1304.8,1559.9 1298.2,1553.3 1291.6,1559.9 1287.7,1556.0 1294.3,1549.4 1287.7,1542.8 1291.6,1538.9" fill="#ff9f9b" stroke="#fff" stroke-width="4.0" stroke-linejoin="miter" paint-order="stroke"/>
<polygon points="1409.5,1418.8 1416.1,1412.2 1420.0,1416.1 1413.4,1422.7 1420.0,1429.3 1416.1,1433.2 1409.5,1426.6 1402.9,1433.2 1399.0,1429.3 1405.6,1422.7 1399.0,1416.1 1402.9,1412.2" fill="#ff9f9b" stroke="#fff" stroke-width="4.0" stroke-linejoin="miter" paint-order="stroke"/>
<polygon points="1520.8,1340.7 1527.4,1334.1 1531.3,1338.0 1524.7,1344.6 1531.3,1351.2 1527.4,1355.1 1520.8,1348.5 1514.2,1355.1 1510.3,1351.2 1516.9,1344.6 1510.3,1338.0 1514.2,1334.1" fill="#ff9f9b" stroke="#fff" stroke-width="4.0" stroke-linejoin="miter" paint-order="stroke"/>
<polygon points="1632.1,1317.6 1638.7,1311.0 1642.6,1314.9 1636.0,1321.5 1642.6,1328.1 1638.7,1332.0 1632.1,1325.4 1625.5,1332.0 1621.6,1328.1 1628.2,1321.5 1621.6,1314.9 1625.5,1311.0" fill="#ff9f9b" stroke="#fff" stroke-width="4.0" stroke-linejoin="miter" paint-order="stroke"/>
<polygon points="1743.4,1286.9 1750.0,1280.3 1753.9,1284.2 1747.3,1290.8 1753.9,1297.4 1750.0,1301.3 1743.4,1294.7 1736.8,1301.3 1732.9,1297.4 1739.5,1290.8 1732.9,1284.2 1736.8,1280.3" fill="#ff9f9b" stroke="#fff" stroke-width="4.0" stroke-linejoin="miter" paint-order="stroke"/>
<polygon points="1854.7,1281.1 1861.3,1274.5 1865.2,1278.4 1858.6,1285.0 1865.2,1291.6 1861.3,1295.5 1854.7,1288.9 1848.1,1295.5 1844.2,1291.6 1850.8,1285.0 1844.2,1278.4 1848.1,1274.5" fill="#ff9f9b" stroke="#fff" stroke-width="4.0" stroke-linejoin="miter" paint-order="stroke"/>
<polygon points="1186.9,1727.8 1298.2,1640.0 1409.5,1532.0 1520.8,1495.4 1632.1,1422.0 1743.4,1361.4 1854.7,1270.0 1854.7,1330.0 1743.4,1417.4 1632.1,1482.0 1520.8,1595.4 1409.5,1612.0 1298.2,1716.0 1186.9,1807.8" fill="#a1c9f4" fill-opacity="0.2" stroke="#a1c9f4" stroke-opacity="0.2" stroke-width="1.5"/>
<polyline points="1186.9,1767.8 1298.2,1678.0 1409.5,1572.0 1520.8,1545.4 1632.1,1452.0 1743.4,1389.4 1854.7,1300.0" fill="none" stroke="#a1c9f4" stroke-width="3.4"/>
<circle cx="1186.9" cy="1767.8" r="14.0" fill="#fff"/><circle cx="1186.9" cy="1767.8" r="11.2" fill="#a1c9f4"/>
<circle cx="1298.2" cy="1678.0" r="14.0" fill="#fff"/><circle cx="1298.2" cy="1678.0" r="11.2" fill="#a1c9f4"/>
<circle cx="1409.5" cy="1572.0" r="14.0" fill="#fff"/><circle cx="1409.5" cy="1572.0" r="11.2" fill="#a1c9f4"/>
<circle cx="1520.8" cy="1545.4" r="14.0" fill="#fff"/><circle cx="1520.8" cy="1545.4" r="11.2" fill="#a1c9f4"/>
<circle cx="1632.1" cy="1452.0" r="14.0" fill="#fff"/><circle cx="1632.1" cy="1452.0" r="11.2" fill="#a1c9f4"/>
<circle cx="1743.4" cy="1389.4" r="14.0" fill="#fff"/><circle cx="1743.4" cy="1389.4" r="11.2" fill="#a1c9f4"/>
<circle cx="1854.7" cy="1300.0" r="14.0" fill="#fff"/><circle cx="1854.7" cy="1300.0" r="11.2" fill="#a1c9f4"/>
<polygon points="1186.9,1608.0 1298.2,1518.5 1409.5,1457.0 1520.8,1392.9 1632.1,1344.0 1743.4,1321.3 1854.7,1281.0 1854.7,1329.0 1743.4,1365.3 1632.1,1388.0 1520.8,1436.9 1409.5,1501.0 1298.2,1562.5 1186.9,1652.0" fill="#a1c9f4" fill-opacity="0.2" stroke="#a1c9f4" stroke-opacity="0.2" stroke-width="1.5"/>
<polyline points="1186.9,1630.0 1298.2,1540.5 1409.5,1479.0 1520.8,1414.9 1632.1,1366.0 1743.4,1343.3 1854.7,1305.0" fill="none" stroke="#a1c9f4" stroke-width="3.4" stroke-dasharray="15.5 5.5"/>
<polygon points="1186.9,1626.1 1193.5,1619.5 1197.4,1623.4 1190.8,1630.0 1197.4,1636.6 1193.5,1640.5 1186.9,1633.9 1180.3,1640.5 1176.4,1636.6 1183.0,1630.0 1176.4,1623.4 1180.3,1619.5" fill="#a1c9f4" stroke="#fff" stroke-width="4.0" stroke-linejoin="miter" paint-order="stroke"/>
<polygon points="1298.2,1536.6 1304.8,1530.0 1308.7,1533.9 1302.1,1540.5 1308.7,1547.1 1304.8,1551.0 1298.2,1544.4 1291.6,1551.0 1287.7,1547.1 1294.3,1540.5 1287.7,1533.9 1291.6,1530.0" fill="#a1c9f4" stroke="#fff" stroke-width="4.0" stroke-linejoin="miter" paint-order="stroke"/>
<polygon points="1409.5,1475.1 1416.1,1468.5 1420.0,1472.4 1413.4,1479.0 1420.0,1485.6 1416.1,1489.5 1409.5,1482.9 1402.9,1489.5 1399.0,1485.6 1405.6,1479.0 1399.0,1472.4 1402.9,1468.5" fill="#a1c9f4" stroke="#fff" stroke-width="4.0" stroke-linejoin="miter" paint-order="stroke"/>
<polygon points="1520.8,1411.0 1527.4,1404.4 1531.3,1408.3 1524.7,1414.9 1531.3,1421.5 1527.4,1425.4 1520.8,1418.8 1514.2,1425.4 1510.3,1421.5 1516.9,1414.9 1510.3,1408.3 1514.2,1404.4" fill="#a1c9f4" stroke="#fff" stroke-width="4.0" stroke-linejoin="miter" paint-order="stroke"/>
<polygon points="1632.1,1362.1 1638.7,1355.5 1642.6,1359.4 1636.0,1366.0 1642.6,1372.6 1638.7,1376.5 1632.1,1369.9 1625.5,1376.5 1621.6,1372.6 1628.2,1366.0 1621.6,1359.4 1625.5,1355.5" fill="#a1c9f4" stroke="#fff" stroke-width="4.0" stroke-linejoin="miter" paint-order="stroke"/>
<polygon points="1743.4,1339.4 1750.0,1332.8 1753.9,1336.7 1747.3,1343.3 1753.9,1349.9 1750.0,1353.8 1743.4,1347.2 1736.8,1353.8 1732.9,1349.9 1739.5,1343.3 1732.9,1336.7 1736.8,1332.8" fill="#a1c9f4" stroke="#fff" stroke-width="4.0" stroke-linejoin="miter" paint-order="stroke"/>
<polygon points="1854.7,1301.1 1861.3,1294.5 1865.2,1298.4 1858.6,1305.0 1865.2,1311.6 1861.3,1315.5 1854.7,1308.9 1848.1,1315.5 1844.2,1311.6 1850.8,1305.0 1844.2,1298.4 1848.1,1294.5" fill="#a1c9f4" stroke="#fff" stroke-width="4.0" stroke-linejoin="miter" paint-order="stroke"/>
<polygon points="1186.9,1693.2 1298.2,1644.9 1409.5,1554.0 1520.8,1492.6 1632.1,1410.7 1743.4,1349.3 1854.7,1295.5 1854.7,1347.5 1743.4,1401.3 1632.1,1462.7 1520.8,1544.6 1409.5,1606.0 1298.2,1704.9 1186.9,1753.2" fill="#d0bbff" fill-opacity="0.2" stroke="#d0bbff" stroke-opacity="0.2" stroke-width="1.5"/>
<polyline points="1186.9,1723.2 1298.2,1674.9 1409.5,1580.0 1520.8,1518.6 1632.1,1436.7 1743.4,1375.3 1854.7,1321.5" fill="none" stroke="#d0bbff" stroke-width="3.4"/>
<circle cx="1186.9" cy="1723.2" r="14.0" fill="#fff"/><circle cx="1186.9" cy="1723.2" r="11.2" fill="#d0bbff"/>
<circle cx="1298.2" cy="1674.9" r="14.0" fill="#fff"/><circle cx="1298.2" cy="1674.9" r="11.2" fill="#d0bbff"/>
<circle cx="1409.5" cy="1580.0" r="14.0" fill="#fff"/><circle cx="1409.5" cy="1580.0" r="11.2" fill="#d0bbff"/>
<circle cx="1520.8" cy="1518.6" r="14.0" fill="#fff"/><circle cx="1520.8" cy="1518.6" r="11.2" fill="#d0bbff"/>
<circle cx="1632.1" cy="1436.7" r="14.0" fill="#fff"/><circle cx="1632.1" cy="1436.7" r="11.2" fill="#d0bbff"/>
<circle cx="1743.4" cy="1375.3" r="14.0" fill="#fff"/><circle cx="1743.4" cy="1375.3" r="11.2" fill="#d0bbff"/>
<circle cx="1854.7" cy="1321.5" r="14.0" fill="#fff"/><circle cx="1854.7" cy="1321.5" r="11.2" fill="#d0bbff"/>
<polygon points="1186.9,1618.4 1298.2,1497.3 1409.5,1433.3 1520.8,1369.9 1632.1,1350.7 1743.4,1305.9 1854.7,1270.1 1854.7,1314.1 1743.4,1349.9 1632.1,1394.7 1520.8,1413.9 1409.5,1477.3 1298.2,1545.3 1186.9,1666.4" fill="#d0bbff" fill-opacity="0.2" stroke="#d0bbff" stroke-opacity="0.2" stroke-width="1.5"/>
<polyline points="1186.9,1642.4 1298.2,1521.3 1409.5,1455.3 1520.8,1391.9 1632.1,1372.7 1743.4,1327.9 1854.7,1292.1" fill="none" stroke="#d0bbff" stroke-width="3.4" stroke-dasharray="15.5 5.5"/>
<polygon points="1186.9,1638.5 1193.5,1631.9 1197.4,1635.8 1190.8,1642.4 1197.4,1649.0 1193.5,1652.9 1186.9,1646.3 1180.3,1652.9 1176.4,1649.0 1183.0,1642.4 1176.4,1635.8 1180.3,1631.9" fill="#d0bbff" stroke="#fff" stroke-width="4.0" stroke-linejoin="miter" paint-order="stroke"/>
<polygon points="1298.2,1517.4 1304.8,1510.8 1308.7,1514.7 1302.1,1521.3 1308.7,1527.9 1304.8,1531.8 1298.2,1525.2 1291.6,1531.8 1287.7,1527.9 1294.3,1521.3 1287.7,1514.7 1291.6,1510.8" fill="#d0bbff" stroke="#fff" stroke-width="4.0" stroke-linejoin="miter" paint-order="stroke"/>
<polygon points="1409.5,1451.4 1416.1,1444.8 1420.0,1448.7 1413.4,1455.3 1420.0,1461.9 1416.1,1465.8 1409.5,1459.2 1402.9,1465.8 1399.0,1461.9 1405.6,1455.3 1399.0,1448.7 1402.9,1444.8" fill="#d0bbff" stroke="#fff" stroke-width="4.0" stroke-linejoin="miter" paint-order="stroke"/>
<polygon points="1520.8,1388.0 1527.4,1381.4 1531.3,1385.3 1524.7,1391.9 1531.3,1398.5 1527.4,1402.4 1520.8,1395.8 1514.2,1402.4 1510.3,1398.5 1516.9,1391.9 1510.3,1385.3 1514.2,1381.4" fill="#d0bbff" stroke="#fff" stroke-width="4.0" stroke-linejoin="miter" paint-order="stroke"/>
<polygon points="1632.1,1368.8 1638.7,1362.2 1642.6,1366.1 1636.0,1372.7 1642.6,1379.3 1638.7,1383.2 1632.1,1376.6 1625.5,1383.2 1621.6,1379.3 1628.2,1372.7 1621.6,1366.1 1625.5,1362.2" fill="#d0bbff" stroke="#fff" stroke-width="4.0" stroke-linejoin="miter" paint-order="stroke"/>
<polygon points="1743.4,1324.0 1750.0,1317.4 1753.9,1321.3 1747.3,1327.9 1753.9,1334.5 1750.0,1338.4 1743.4,1331.8 1736.8,1338.4 1732.9,1334.5 1739.5,1327.9 1732.9,1321.3 1736.8,1317.4" fill="#d0bbff" stroke="#fff" stroke-width="4.0" stroke-linejoin="miter" paint-order="stroke"/>
<polygon points="1854.7,1288.2 1861.3,1281.6 1865.2,1285.5 1858.6,1292.1 1865.2,1298.7 1861.3,1302.6 1854.7,1296.0 1848.1,1302.6 1844.2,1298.7 1850.8,1292.1 1844.2,1285.5 1848.1,1281.6" fill="#d0bbff" stroke="#fff" stroke-width="4.0" stroke-linejoin="miter" paint-order="stroke"/>
</g>
<line x1="132.3" y1="806" x2="869" y2="806" stroke="#000" stroke-width="2.4" stroke-dasharray="7.6 15.2"/>
<line x1="419" y1="339" x2="419" y2="1024.5" stroke="#000" stroke-width="2.4" stroke-dasharray="7.6 15.2" stroke-dashoffset="5.6"/>
<line x1="1153.3" y1="444.8" x2="1890" y2="444.8" stroke="#000" stroke-width="2.4" stroke-dasharray="7.6 15.2"/>
<line x1="1682.5" y1="339.6" x2="1682.5" y2="1024.5" stroke="#000" stroke-width="2.4" stroke-dasharray="7.6 15.2" stroke-dashoffset="5.6"/>
<line x1="132.3" y1="1362" x2="869" y2="1362" stroke="#000" stroke-width="2.4" stroke-dasharray="7.6 15.2"/>
<line x1="1153.3" y1="1426.6" x2="1890" y2="1426.6" stroke="#000" stroke-width="2.4" stroke-dasharray="7.6 15.2"/>
<line x1="132.3" y1="339" x2="132.3" y2="1025.8" stroke="#000" stroke-width="2.6"/>
<line x1="131" y1="1024.5" x2="869" y2="1024.5" stroke="#000" stroke-width="2.6"/>
<line x1="1153.3" y1="339.6" x2="1153.3" y2="1025.8" stroke="#000" stroke-width="2.6"/>
<line x1="1152" y1="1024.5" x2="1890" y2="1024.5" stroke="#000" stroke-width="2.6"/>
<line x1="132.3" y1="1216.8" x2="132.3" y2="1902.9" stroke="#000" stroke-width="2.6"/>
<line x1="131" y1="1901.6" x2="868.8" y2="1901.6" stroke="#000" stroke-width="2.6"/>
<line x1="1153.3" y1="1216.8" x2="1153.3" y2="1902.9" stroke="#000" stroke-width="2.6"/>
<line x1="1152" y1="1901.6" x2="1890" y2="1901.6" stroke="#000" stroke-width="2.6"/>
<rect x="468.6" y="346.9" width="245.39999999999998" height="203.10000000000002" rx="10" ry="10" fill="#fff" fill-opacity="0.85" stroke="#cccccc" stroke-width="3.2"/>
<line x1="488.0" y1="373.7" x2="540.9" y2="373.7" stroke="#7fd893" stroke-width="3.8" stroke-linecap="round"/>
<circle cx="514.5" cy="373.7" r="5.2" fill="#fff"/>
<circle cx="514.5" cy="373.7" r="1.6" fill="#7fd893"/>
<text x="562.5" y="383.0" font-size="26.3" text-anchor="start" fill="#262626" >dANN-R</text>
<line x1="488.0" y1="411.3" x2="540.9" y2="411.3" stroke="#f7918b" stroke-width="3.8" stroke-linecap="round"/>
<circle cx="514.5" cy="411.3" r="5.2" fill="#fff"/>
<text x="562.5" y="420.6" font-size="26.3" text-anchor="start" fill="#262626" >dANN-LRF</text>
<line x1="488.0" y1="448.9" x2="540.9" y2="448.9" stroke="#93bdec" stroke-width="3.8" stroke-linecap="round"/>
<circle cx="514.5" cy="448.9" r="5.2" fill="#fff"/>
<circle cx="514.5" cy="448.9" r="1.6" fill="#93bdec"/>
<text x="562.5" y="458.2" font-size="26.3" text-anchor="start" fill="#262626" >dANN-GRF</text>
<line x1="488.0" y1="486.5" x2="540.9" y2="486.5" stroke="#c4b0fa" stroke-width="3.8" stroke-linecap="round"/>
<circle cx="514.5" cy="486.5" r="5.2" fill="#fff"/>
<text x="562.5" y="495.8" font-size="26.3" text-anchor="start" fill="#262626" >pdANN</text>
<line x1="488.0" y1="524.1" x2="540.9" y2="524.1" stroke="#8a8a8a" stroke-width="3.8" stroke-linecap="round"/>
<path d="M514.5 517.9L520.7 524.1L514.5 530.3L508.3 524.1Z" fill="#fff"/>
<circle cx="514.5" cy="524.1" r="1.6" fill="#8a8a8a"/>
<text x="562.5" y="533.4" font-size="26.3" text-anchor="start" fill="#262626" >vANN</text>
<rect x="147.1" y="1762.1" width="183.29999999999998" height="129.70000000000005" rx="10" ry="10" fill="#fff" fill-opacity="0.85" stroke="#cccccc" stroke-width="3.2"/>
<text x="236.1" y="1795.2" font-size="26.3" text-anchor="middle" fill="#262626" >somata</text>
<line x1="181.3" y1="1824.1" x2="233.9" y2="1824.1" stroke="#333" stroke-width="3.8" stroke-linecap="round"/>
<circle cx="207.6" cy="1824.1" r="15" fill="#fff"/><circle cx="207.6" cy="1824.1" r="11.4" fill="#333"/>
<line x1="181.3" y1="1861.3" x2="196.6" y2="1861.3" stroke="#333" stroke-width="3.8"/>
<line x1="222.7" y1="1861.3" x2="234.4" y2="1861.3" stroke="#333" stroke-width="3.8"/>
<polygon points="207.6,1857.4 214.2,1850.8 218.1,1854.7 211.5,1861.3 218.1,1867.9 214.2,1871.8 207.6,1865.2 201.0,1871.8 197.1,1867.9 203.7,1861.3 197.1,1854.7 201.0,1850.8" fill="#333"/>
<text x="255.7" y="1833.3" font-size="26.3" text-anchor="start" fill="#262626" >256</text>
<text x="255.7" y="1870.4" font-size="26.3" text-anchor="start" fill="#262626" >512</text>
<rect x="1704.3" y="1763" width="183.29999999999995" height="128.79999999999995" rx="10" ry="10" fill="#fff" fill-opacity="0.85" stroke="#cccccc" stroke-width="3.2"/>
<text x="1793.3" y="1795.2" font-size="26.3" text-anchor="middle" fill="#262626" >somata</text>
<line x1="1738.5" y1="1824.1" x2="1791.1" y2="1824.1" stroke="#333" stroke-width="3.8" stroke-linecap="round"/>
<circle cx="1764.8" cy="1824.1" r="15" fill="#fff"/><circle cx="1764.8" cy="1824.1" r="11.4" fill="#333"/>
<line x1="1738.5" y1="1861.3" x2="1753.8" y2="1861.3" stroke="#333" stroke-width="3.8"/>
<line x1="1779.9" y1="1861.3" x2="1791.6" y2="1861.3" stroke="#333" stroke-width="3.8"/>
<polygon points="1764.8,1857.4 1771.4,1850.8 1775.3,1854.7 1768.7,1861.3 1775.3,1867.9 1771.4,1871.8 1764.8,1865.2 1758.2,1871.8 1754.3,1867.9 1760.9,1861.3 1754.3,1854.7 1758.2,1850.8" fill="#333"/>
<text x="1812.9" y="1833.3" font-size="26.3" text-anchor="start" fill="#262626" >256</text>
<text x="1812.9" y="1870.4" font-size="26.3" text-anchor="start" fill="#262626" >512</text>
</svg></body></html>
